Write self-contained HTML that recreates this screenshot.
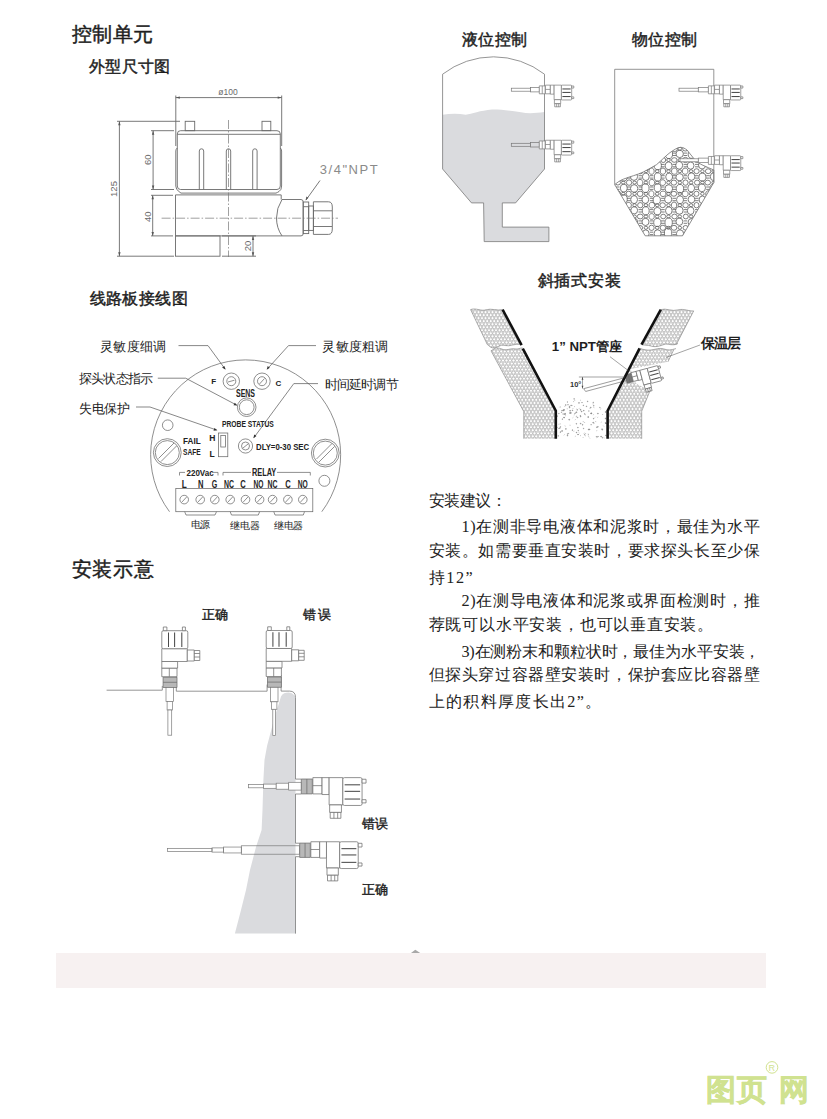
<!DOCTYPE html>
<html><head><meta charset="utf-8">
<style>
html,body{margin:0;padding:0;background:#fff;}
body{width:827px;height:1119px;overflow:hidden;position:relative;font-family:"Liberation Sans",sans-serif;}
svg{position:absolute;left:0;top:0;}
.h{font-family:"Liberation Sans",sans-serif;fill:#1e1e1e;}
.hm{stroke:#1e1e1e;stroke-width:0.45;}
.s{font-family:"Liberation Serif",serif;fill:#222;}
.ln{fill:none;stroke:#6a6a6a;stroke-width:0.9;}
#sb *{vector-effect:non-scaling-stroke;}
</style></head><body>
<svg width="827" height="1119" viewBox="0 0 827 1119">
<defs>
<g id="sb">
 <rect x="0" y="-6.7" width="10.3" height="13.9" fill="currentColor"/>
 <line x1="5.2" y1="-6.7" x2="5.2" y2="7.2"/>
 <rect x="10.8" y="-8" width="8.6" height="15.2" fill="#fff"/>
 <line x1="10.8" y1="-0.5" x2="19.4" y2="-0.5"/>
 <rect x="19.4" y="-8" width="6.6" height="15.8" fill="#fff"/>
 <rect x="26" y="-8" width="12.8" height="25.5" fill="#fff"/>
 <rect x="38.8" y="-8" width="18" height="26" rx="1.5" fill="#fff"/>
 <g stroke="#4a4a4a" stroke-width="1.05"><line x1="40.5" y1="-1.3" x2="55" y2="-1.3"/><line x1="40.5" y1="4.8" x2="55" y2="4.8"/><line x1="40.5" y1="12" x2="55" y2="12"/></g>
 <rect x="56.8" y="-6.5" width="3.7" height="3.6" fill="#fff"/><rect x="56.8" y="12.6" width="3.7" height="3" fill="#fff"/>
 <rect x="26.5" y="17.5" width="11" height="7" fill="#fff"/>
 <rect x="27" y="24.5" width="10" height="5.5" fill="#fff"/>
 <line x1="30.5" y1="24.5" x2="30.5" y2="30"/><line x1="34" y1="24.5" x2="34" y2="30"/>
</g>



<clipPath id="bandclip">
 <path d="M470.6 309.6 C476 307.5 481 311.5 486 309.8 C491 308 497 311 502.6 309.6 L521 344.5 C515 343 510 347 505 345.5 C500 344 497 348.5 492.6 347.9 C490 347.5 488.5 345 487.3 344.5 Z"/>
 <path d="M491 350.8 C494 349 495 348 497 347.9 C500 347.8 503 350.2 506 349.8 C510 349.3 512 348.3 515 348.9 C518 349.5 520 348 522.5 347.9 L556 410.7 V438.7 H523.8 V411.6 Z"/>
 <path d="M660.8 309.6 C666 307.8 672 311.8 678 309.9 C684 308.2 689 311.5 693.7 310.9 L676.3 344.5 C672 346.5 668 343 664 344.5 C660 346 655 347.5 651 346 C648 345 645 345.5 642.2 344.7 Z"/>
 <path d="M639.6 348.3 C643 349.5 647 350.5 651 350 C656 349.3 660 347.5 664 349 C668 350.5 671 350 673.8 349.6 L668 361.7 L630.5 369 L636 383.5 L650 390.7 L641.7 411.2 V438.7 H607.6 V410.7 Z"/>
</clipPath><clipPath id="pileclip"><path d="M614.7 184.6 C618 182 620 180.5 623.3 179.2 C630 176.5 637 175 643.3 172 C648 169.5 652 167.5 656.6 164.6 C662 160 666 155.5 670 152.6 C674 150 677 147.5 680.5 147.3 C683 147.4 685 148.5 687 150 C690 153 692 157 695 160 C698 162.5 700 164 703 165.3 C707 167 710 168.5 713.8 170 V182.6 L682.5 235.8 H645.2 Z"/></clipPath></defs>
<!-- headings -->
<text class="h hm" x="72" y="40.5" font-size="20" textLength="81">控制单元</text>
<text class="h hm" x="89" y="71.5" font-size="16" textLength="81">外型尺寸图</text>
<text class="h hm" x="89.5" y="304.2" font-size="16" textLength="98">线路板接线图</text>
<text class="h hm" x="71.5" y="575.5" font-size="20" textLength="82">安装示意</text>
<text class="h hm" x="462" y="44.5" font-size="16" textLength="65">液位控制</text>
<text class="h hm" x="632" y="44.5" font-size="16" textLength="65">物位控制</text>
<text class="h hm" x="537.5" y="286.3" font-size="16" textLength="83">斜插式安装</text>


<!-- ============ dimension drawing ============ -->
<g class="ln" stroke="#707070" stroke-width="0.8">
 <!-- phi100 -->
 <line x1="175.8" y1="97.6" x2="281.7" y2="97.6"/>
 <line x1="175.8" y1="95.5" x2="175.8" y2="146"/>
 <line x1="281.7" y1="95.5" x2="281.7" y2="146"/>
 <!-- 125 -->
 <line x1="119.4" y1="121.3" x2="119.4" y2="256.2"/>
 <line x1="117" y1="121.3" x2="180" y2="121.3"/>
 <line x1="117" y1="256.2" x2="174" y2="256.2"/>
 <!-- 60 -->
 <line x1="153.1" y1="130.7" x2="153.1" y2="189.5"/>
 <line x1="151" y1="130.7" x2="174" y2="130.7"/>
 <line x1="151" y1="189.5" x2="174" y2="189.5"/>
 <!-- 40 -->
 <line x1="152.7" y1="195.3" x2="152.7" y2="235.9"/>
 <line x1="151" y1="195.3" x2="173" y2="195.3"/>
 <line x1="151" y1="235.9" x2="173" y2="235.9"/>
 <!-- 20 -->
 <line x1="253" y1="235.9" x2="253" y2="256.2"/>
 <line x1="222" y1="235.9" x2="256" y2="235.9"/>
 <line x1="222" y1="256.2" x2="256" y2="256.2"/>
 <!-- leader -->
 <line x1="320" y1="180.5" x2="306" y2="200"/>
</g>
<g fill="#555">
 <path d="M175.8 97.6 l4 -1.2 v2.4z"/><path d="M281.7 97.6 l-4 -1.2 v2.4z"/>
 <path d="M119.4 121.3 l-1.2 4 h2.4z"/><path d="M119.4 256.2 l-1.2 -4 h2.4z"/>
 <path d="M153.1 130.7 l-1.2 4 h2.4z"/><path d="M153.1 189.5 l-1.2 -4 h2.4z"/>
 <path d="M152.7 195.3 l-1.2 4 h2.4z"/><path d="M152.7 235.9 l-1.2 -4 h2.4z"/>
 <path d="M253 235.9 l-1.2 4 h2.4z"/><path d="M253 256.2 l-1.2 -4 h2.4z"/>
 <path d="M305.6 200.6 l0.8 -4.2 l2 1.4z"/>
</g>
<g class="ln" stroke="#5a5a5a" stroke-width="0.9">
 <rect x="185.2" y="121.3" width="9.5" height="9.4"/>
 <rect x="262" y="121.3" width="8.8" height="9.4"/>
 <path d="M180.5 130.7 H277 Q280.3 130.7 280.3 134 V186 Q280.3 189.5 277 189.5 H180.5 Q177.3 189.5 177.3 186 V134 Q177.3 130.7 180.5 130.7Z"/>
 <line x1="177.3" y1="134.3" x2="280.3" y2="134.3"/>
 <path d="M177.3 148 Q175.8 149 175.8 151 V186 Q176 190 179 191.5 Q180 192.5 181 193.1 H276 Q277.5 192.5 279 191.5 Q281.6 190 281.6 186 V151 Q281.6 149 280.3 148"/>
 <path d="M199.3 189.5 V151 Q199.3 148.8 201.5 148.8 Q203.7 148.8 203.7 151 V189.5"/>
 <path d="M226.3 189.5 V151 Q226.3 148.8 228.5 148.8 Q230.7 148.8 230.7 151 V189.5"/>
 <path d="M252.7 189.5 V151 Q252.7 148.8 254.9 148.8 Q257.1 148.8 257.1 151 V189.5"/>
 <path d="M281.2 199.5 V194.9 H175.5 V235.9 H301 Q303.2 235.9 303.2 233.6"/>
 <rect x="175.5" y="235.9" width="44.5" height="20.3"/>
 <path d="M282 235.9 Q276.5 228 276.5 218 Q276.5 208 282 199.5 H301 Q303.2 199.5 303.2 202 V233.6"/>
 <rect x="303.2" y="202" width="5.5" height="31.6"/>
 <line x1="303.2" y1="206.7" x2="308.7" y2="206.7"/><line x1="303.2" y1="230.5" x2="308.7" y2="230.5"/>
 <rect x="308.7" y="206" width="4.7" height="24.4"/>
 <path d="M313.4 201.8 H328.5 Q332.3 201.8 332.3 207 V229 Q332.3 234.4 328.5 234.4 H313.4Z"/>
 <line x1="313.4" y1="210.8" x2="332" y2="210.8"/><line x1="313.4" y1="226.5" x2="332" y2="226.5"/>
</g>
<g stroke="#777" stroke-width="0.7" stroke-dasharray="9 2 1.5 2" fill="none">
 <line x1="228.5" y1="120" x2="228.5" y2="257"/>
 <line x1="161.6" y1="218.2" x2="338" y2="218.2"/>
</g>
<g fill="#6a6a6a" font-family="Liberation Sans, sans-serif">
 <text x="228" y="94.6" font-size="8.5" text-anchor="middle">&#248;100</text>
 <text transform="translate(117.3 189) rotate(-90)" font-size="9.5" text-anchor="middle">125</text>
 <text transform="translate(150.6 159.7) rotate(-90)" font-size="9.5" text-anchor="middle">60</text>
 <text transform="translate(151 216.8) rotate(-90)" font-size="9.5" text-anchor="middle">40</text>
 <text transform="translate(250.6 246) rotate(-90)" font-size="9.5" text-anchor="middle">20</text>
 <text x="319.7" y="174" font-size="13" textLength="58" lengthAdjust="spacing" fill="#8a8a8a">3/4"NPT</text>
</g>


<!-- ============ tanks ============ -->
<path d="M442.6 114.8 C450 113.5 458 113.2 465.8 114.8 C472 113.5 480 110.5 492 109.4 C500 109.2 510 110.5 521 112.3 C528 113.8 536 113.2 544.5 112 V169 L515.6 202.9 H502.3 V227.1 H548.9 V241.6 H484.2 L483.6 202.9 H471.5 L442.6 169 Z" fill="#dadbde"/>
<path d="M442.6 169 V74.2 A83.4 83.4 0 0 1 544.5 74.2 V169 L515.6 202.9 H502.3 V227.1 H548.9 V241.6 H484.2 L483.6 202.9 H471.5 Z" fill="none" stroke="#7a7a7a" stroke-width="0.8"/>
<g clip-path="url(#pileclip)"><rect x="610" y="140" width="110" height="100" fill="#fff"/><path fill="none" stroke="#555" stroke-width="0.75" d="M612.1 143.2m-3.7 0a3.7 4.1 0 1 0 7.4 0a3.7 4.1 0 1 0 -7.4 0M617.8 148.7m-2.9 0a2.9 2.3 0 1 0 5.7 0a2.9 2.3 0 1 0 -5.7 0M615.9 141.8h3.6M615.9 144.2h3.6M612.0 148.7m-1.8 0a1.8 1.5 0 1 0 3.6 0a1.8 1.5 0 1 0 -3.6 0M623.3 143.4m-3.6 0a3.6 4.1 0 1 0 7.2 0a3.6 4.1 0 1 0 -7.2 0M628.6 148.7m-2.7 0a2.7 2.4 0 1 0 5.4 0a2.7 2.4 0 1 0 -5.4 0M627.1 141.8h3.6M627.1 144.2h3.6M623.3 148.7m-1.8 0a1.8 1.5 0 1 0 3.6 0a1.8 1.5 0 1 0 -3.6 0M634.7 143.1m-3.3 0a3.3 3.7 0 1 0 6.6 0a3.3 3.7 0 1 0 -6.6 0M640.1 148.7m-2.9 0a2.9 2.6 0 1 0 5.7 0a2.9 2.6 0 1 0 -5.7 0M638.5 141.8h3.6M638.5 144.2h3.6M634.6 148.7m-1.8 0a1.8 1.5 0 1 0 3.6 0a1.8 1.5 0 1 0 -3.6 0M645.5 143.3m-3.4 0a3.4 3.9 0 1 0 6.7 0a3.4 3.9 0 1 0 -6.7 0M651.3 148.7m-2.5 0a2.5 2.6 0 1 0 5.0 0a2.5 2.6 0 1 0 -5.0 0M649.8 141.8h3.6M649.8 144.2h3.6M645.9 148.7m-1.8 0a1.8 1.5 0 1 0 3.6 0a1.8 1.5 0 1 0 -3.6 0M656.9 142.7m-3.8 0a3.8 4.0 0 1 0 7.6 0a3.8 4.0 0 1 0 -7.6 0M662.7 148.7m-2.9 0a2.9 2.5 0 1 0 5.8 0a2.9 2.5 0 1 0 -5.8 0M661.1 141.8h3.6M661.1 144.2h3.6M657.2 148.7m-1.8 0a1.8 1.5 0 1 0 3.6 0a1.8 1.5 0 1 0 -3.6 0M668.7 142.7m-3.8 0a3.8 3.9 0 1 0 7.5 0a3.8 3.9 0 1 0 -7.5 0M674.5 148.7m-2.9 0a2.9 2.4 0 1 0 5.7 0a2.9 2.4 0 1 0 -5.7 0M672.4 141.8h3.6M672.4 144.2h3.6M668.5 148.7m-1.8 0a1.8 1.5 0 1 0 3.6 0a1.8 1.5 0 1 0 -3.6 0M679.6 142.7m-3.4 0a3.4 3.6 0 1 0 6.7 0a3.4 3.6 0 1 0 -6.7 0M685.3 148.7m-2.7 0a2.7 2.3 0 1 0 5.5 0a2.7 2.3 0 1 0 -5.5 0M683.6 141.8h3.6M683.6 144.2h3.6M679.8 148.7m-1.8 0a1.8 1.5 0 1 0 3.6 0a1.8 1.5 0 1 0 -3.6 0M691.3 142.8m-3.5 0a3.5 4.0 0 1 0 6.9 0a3.5 4.0 0 1 0 -6.9 0M696.7 148.7m-2.6 0a2.6 2.5 0 1 0 5.3 0a2.6 2.5 0 1 0 -5.3 0M695.0 141.8h3.6M695.0 144.2h3.6M691.1 148.7m-1.8 0a1.8 1.5 0 1 0 3.6 0a1.8 1.5 0 1 0 -3.6 0M702.6 142.6m-3.8 0a3.8 3.6 0 1 0 7.6 0a3.8 3.6 0 1 0 -7.6 0M708.2 148.7m-2.8 0a2.8 2.3 0 1 0 5.7 0a2.8 2.3 0 1 0 -5.7 0M706.2 141.8h3.6M706.2 144.2h3.6M702.4 148.7m-1.8 0a1.8 1.5 0 1 0 3.6 0a1.8 1.5 0 1 0 -3.6 0M714.0 142.9m-3.6 0a3.6 3.6 0 1 0 7.2 0a3.6 3.6 0 1 0 -7.2 0M719.0 148.7m-2.6 0a2.6 2.7 0 1 0 5.1 0a2.6 2.7 0 1 0 -5.1 0M717.6 141.8h3.6M717.6 144.2h3.6M713.7 148.7m-1.8 0a1.8 1.5 0 1 0 3.6 0a1.8 1.5 0 1 0 -3.6 0M724.6 143.3m-3.8 0a3.8 4.1 0 1 0 7.5 0a3.8 4.1 0 1 0 -7.5 0M730.5 148.7m-2.6 0a2.6 2.5 0 1 0 5.3 0a2.6 2.5 0 1 0 -5.3 0M728.9 141.8h3.6M728.9 144.2h3.6M725.0 148.7m-1.8 0a1.8 1.5 0 1 0 3.6 0a1.8 1.5 0 1 0 -3.6 0M612.3 153.9m-3.7 0a3.7 4.0 0 1 0 7.3 0a3.7 4.0 0 1 0 -7.3 0M617.9 160.0m-2.5 0a2.5 2.7 0 1 0 5.0 0a2.5 2.7 0 1 0 -5.0 0M615.9 153.1h3.6M615.9 155.5h3.6M612.0 160.0m-1.8 0a1.8 1.5 0 1 0 3.6 0a1.8 1.5 0 1 0 -3.6 0M622.8 154.1m-3.6 0a3.6 4.1 0 1 0 7.2 0a3.6 4.1 0 1 0 -7.2 0M628.8 160.0m-2.9 0a2.9 2.5 0 1 0 5.7 0a2.9 2.5 0 1 0 -5.7 0M627.1 153.1h3.6M627.1 155.5h3.6M623.3 160.0m-1.8 0a1.8 1.5 0 1 0 3.6 0a1.8 1.5 0 1 0 -3.6 0M634.4 154.1m-3.4 0a3.4 3.6 0 1 0 6.8 0a3.4 3.6 0 1 0 -6.8 0M640.0 160.0m-2.8 0a2.8 2.7 0 1 0 5.6 0a2.8 2.7 0 1 0 -5.6 0M638.5 153.1h3.6M638.5 155.5h3.6M634.6 160.0m-1.8 0a1.8 1.5 0 1 0 3.6 0a1.8 1.5 0 1 0 -3.6 0M645.5 153.8m-3.8 0a3.8 3.9 0 1 0 7.6 0a3.8 3.9 0 1 0 -7.6 0M651.5 160.0m-2.6 0a2.6 2.5 0 1 0 5.2 0a2.6 2.5 0 1 0 -5.2 0M649.8 153.1h3.6M649.8 155.5h3.6M645.9 160.0m-1.8 0a1.8 1.5 0 1 0 3.6 0a1.8 1.5 0 1 0 -3.6 0M657.6 154.3m-3.5 0a3.5 3.6 0 1 0 7.0 0a3.5 3.6 0 1 0 -7.0 0M663.2 160.0m-2.5 0a2.5 2.5 0 1 0 5.0 0a2.5 2.5 0 1 0 -5.0 0M661.1 153.1h3.6M661.1 155.5h3.6M657.2 160.0m-1.8 0a1.8 1.5 0 1 0 3.6 0a1.8 1.5 0 1 0 -3.6 0M668.9 153.9m-3.7 0a3.7 4.1 0 1 0 7.3 0a3.7 4.1 0 1 0 -7.3 0M674.3 160.0m-2.8 0a2.8 2.3 0 1 0 5.6 0a2.8 2.3 0 1 0 -5.6 0M672.4 153.1h3.6M672.4 155.5h3.6M668.5 160.0m-1.8 0a1.8 1.5 0 1 0 3.6 0a1.8 1.5 0 1 0 -3.6 0M679.7 153.9m-3.7 0a3.7 3.7 0 1 0 7.4 0a3.7 3.7 0 1 0 -7.4 0M685.4 160.0m-2.9 0a2.9 2.6 0 1 0 5.8 0a2.9 2.6 0 1 0 -5.8 0M683.6 153.1h3.6M683.6 155.5h3.6M679.8 160.0m-1.8 0a1.8 1.5 0 1 0 3.6 0a1.8 1.5 0 1 0 -3.6 0M691.7 154.3m-3.5 0a3.5 4.0 0 1 0 7.1 0a3.5 4.0 0 1 0 -7.1 0M696.7 160.0m-2.6 0a2.6 2.5 0 1 0 5.2 0a2.6 2.5 0 1 0 -5.2 0M695.0 153.1h3.6M695.0 155.5h3.6M691.1 160.0m-1.8 0a1.8 1.5 0 1 0 3.6 0a1.8 1.5 0 1 0 -3.6 0M702.0 154.2m-3.8 0a3.8 4.1 0 1 0 7.6 0a3.8 4.1 0 1 0 -7.6 0M708.2 160.0m-2.7 0a2.7 2.4 0 1 0 5.4 0a2.7 2.4 0 1 0 -5.4 0M706.2 153.1h3.6M706.2 155.5h3.6M702.4 160.0m-1.8 0a1.8 1.5 0 1 0 3.6 0a1.8 1.5 0 1 0 -3.6 0M713.2 154.1m-3.7 0a3.7 4.0 0 1 0 7.4 0a3.7 4.0 0 1 0 -7.4 0M719.2 160.0m-2.8 0a2.8 2.6 0 1 0 5.6 0a2.8 2.6 0 1 0 -5.6 0M717.6 153.1h3.6M717.6 155.5h3.6M713.7 160.0m-1.8 0a1.8 1.5 0 1 0 3.6 0a1.8 1.5 0 1 0 -3.6 0M725.2 154.5m-3.7 0a3.7 3.8 0 1 0 7.4 0a3.7 3.8 0 1 0 -7.4 0M730.8 160.0m-2.6 0a2.6 2.5 0 1 0 5.2 0a2.6 2.5 0 1 0 -5.2 0M728.9 153.1h3.6M728.9 155.5h3.6M725.0 160.0m-1.8 0a1.8 1.5 0 1 0 3.6 0a1.8 1.5 0 1 0 -3.6 0M612.3 165.8m-3.4 0a3.4 4.1 0 1 0 6.9 0a3.4 4.1 0 1 0 -6.9 0M617.8 171.2m-2.7 0a2.7 2.3 0 1 0 5.5 0a2.7 2.3 0 1 0 -5.5 0M615.9 164.4h3.6M615.9 166.8h3.6M612.0 171.2m-1.8 0a1.8 1.5 0 1 0 3.6 0a1.8 1.5 0 1 0 -3.6 0M623.4 165.4m-3.6 0a3.6 3.8 0 1 0 7.3 0a3.6 3.8 0 1 0 -7.3 0M629.2 171.2m-2.8 0a2.8 2.6 0 1 0 5.5 0a2.8 2.6 0 1 0 -5.5 0M627.1 164.4h3.6M627.1 166.8h3.6M623.3 171.2m-1.8 0a1.8 1.5 0 1 0 3.6 0a1.8 1.5 0 1 0 -3.6 0M634.4 165.7m-3.7 0a3.7 4.0 0 1 0 7.3 0a3.7 4.0 0 1 0 -7.3 0M640.1 171.2m-2.8 0a2.8 2.6 0 1 0 5.7 0a2.8 2.6 0 1 0 -5.7 0M638.5 164.4h3.6M638.5 166.8h3.6M634.6 171.2m-1.8 0a1.8 1.5 0 1 0 3.6 0a1.8 1.5 0 1 0 -3.6 0M646.1 166.1m-3.8 0a3.8 3.9 0 1 0 7.6 0a3.8 3.9 0 1 0 -7.6 0M651.6 171.2m-2.6 0a2.6 2.6 0 1 0 5.1 0a2.6 2.6 0 1 0 -5.1 0M649.8 164.4h3.6M649.8 166.8h3.6M645.9 171.2m-1.8 0a1.8 1.5 0 1 0 3.6 0a1.8 1.5 0 1 0 -3.6 0M657.7 165.6m-3.6 0a3.6 4.0 0 1 0 7.3 0a3.6 4.0 0 1 0 -7.3 0M663.0 171.2m-2.6 0a2.6 2.6 0 1 0 5.1 0a2.6 2.6 0 1 0 -5.1 0M661.1 164.4h3.6M661.1 166.8h3.6M657.2 171.2m-1.8 0a1.8 1.5 0 1 0 3.6 0a1.8 1.5 0 1 0 -3.6 0M668.6 165.8m-3.5 0a3.5 3.9 0 1 0 7.0 0a3.5 3.9 0 1 0 -7.0 0M674.4 171.2m-2.8 0a2.8 2.6 0 1 0 5.5 0a2.8 2.6 0 1 0 -5.5 0M672.4 164.4h3.6M672.4 166.8h3.6M668.5 171.2m-1.8 0a1.8 1.5 0 1 0 3.6 0a1.8 1.5 0 1 0 -3.6 0M679.2 165.3m-3.5 0a3.5 3.9 0 1 0 7.0 0a3.5 3.9 0 1 0 -7.0 0M685.2 171.2m-2.8 0a2.8 2.6 0 1 0 5.5 0a2.8 2.6 0 1 0 -5.5 0M683.6 164.4h3.6M683.6 166.8h3.6M679.8 171.2m-1.8 0a1.8 1.5 0 1 0 3.6 0a1.8 1.5 0 1 0 -3.6 0M690.6 165.6m-3.4 0a3.4 3.6 0 1 0 6.8 0a3.4 3.6 0 1 0 -6.8 0M696.5 171.2m-2.6 0a2.6 2.4 0 1 0 5.3 0a2.6 2.4 0 1 0 -5.3 0M695.0 164.4h3.6M695.0 166.8h3.6M691.1 171.2m-1.8 0a1.8 1.5 0 1 0 3.6 0a1.8 1.5 0 1 0 -3.6 0M702.0 165.1m-3.5 0a3.5 3.8 0 1 0 7.1 0a3.5 3.8 0 1 0 -7.1 0M708.1 171.2m-2.7 0a2.7 2.4 0 1 0 5.5 0a2.7 2.4 0 1 0 -5.5 0M706.2 164.4h3.6M706.2 166.8h3.6M702.4 171.2m-1.8 0a1.8 1.5 0 1 0 3.6 0a1.8 1.5 0 1 0 -3.6 0M714.2 165.1m-3.5 0a3.5 3.7 0 1 0 7.0 0a3.5 3.7 0 1 0 -7.0 0M719.3 171.2m-2.5 0a2.5 2.6 0 1 0 5.1 0a2.5 2.6 0 1 0 -5.1 0M717.6 164.4h3.6M717.6 166.8h3.6M713.7 171.2m-1.8 0a1.8 1.5 0 1 0 3.6 0a1.8 1.5 0 1 0 -3.6 0M724.8 165.1m-3.6 0a3.6 3.6 0 1 0 7.2 0a3.6 3.6 0 1 0 -7.2 0M730.7 171.2m-2.6 0a2.6 2.5 0 1 0 5.3 0a2.6 2.5 0 1 0 -5.3 0M728.9 164.4h3.6M728.9 166.8h3.6M725.0 171.2m-1.8 0a1.8 1.5 0 1 0 3.6 0a1.8 1.5 0 1 0 -3.6 0M612.5 177.2m-3.5 0a3.5 4.0 0 1 0 7.0 0a3.5 4.0 0 1 0 -7.0 0M617.8 182.6m-2.6 0a2.6 2.4 0 1 0 5.3 0a2.6 2.4 0 1 0 -5.3 0M615.9 175.7h3.6M615.9 178.1h3.6M612.0 182.6m-1.8 0a1.8 1.5 0 1 0 3.6 0a1.8 1.5 0 1 0 -3.6 0M623.4 177.0m-3.8 0a3.8 4.1 0 1 0 7.6 0a3.8 4.1 0 1 0 -7.6 0M629.0 182.6m-2.6 0a2.6 2.7 0 1 0 5.3 0a2.6 2.7 0 1 0 -5.3 0M627.1 175.7h3.6M627.1 178.1h3.6M623.3 182.6m-1.8 0a1.8 1.5 0 1 0 3.6 0a1.8 1.5 0 1 0 -3.6 0M634.0 176.5m-3.6 0a3.6 3.9 0 1 0 7.2 0a3.6 3.9 0 1 0 -7.2 0M640.0 182.6m-2.8 0a2.8 2.7 0 1 0 5.5 0a2.8 2.7 0 1 0 -5.5 0M638.5 175.7h3.6M638.5 178.1h3.6M634.6 182.6m-1.8 0a1.8 1.5 0 1 0 3.6 0a1.8 1.5 0 1 0 -3.6 0M645.8 176.8m-3.4 0a3.4 3.7 0 1 0 6.8 0a3.4 3.7 0 1 0 -6.8 0M651.9 182.6m-2.7 0a2.7 2.7 0 1 0 5.3 0a2.7 2.7 0 1 0 -5.3 0M649.8 175.7h3.6M649.8 178.1h3.6M645.9 182.6m-1.8 0a1.8 1.5 0 1 0 3.6 0a1.8 1.5 0 1 0 -3.6 0M657.7 177.0m-3.4 0a3.4 4.1 0 1 0 6.9 0a3.4 4.1 0 1 0 -6.9 0M662.8 182.6m-2.7 0a2.7 2.4 0 1 0 5.3 0a2.7 2.4 0 1 0 -5.3 0M661.1 175.7h3.6M661.1 178.1h3.6M657.2 182.6m-1.8 0a1.8 1.5 0 1 0 3.6 0a1.8 1.5 0 1 0 -3.6 0M669.1 176.9m-3.4 0a3.4 3.8 0 1 0 6.9 0a3.4 3.8 0 1 0 -6.9 0M673.8 182.6m-2.7 0a2.7 2.5 0 1 0 5.5 0a2.7 2.5 0 1 0 -5.5 0M672.4 175.7h3.6M672.4 178.1h3.6M668.5 182.6m-1.8 0a1.8 1.5 0 1 0 3.6 0a1.8 1.5 0 1 0 -3.6 0M679.6 177.2m-3.7 0a3.7 3.6 0 1 0 7.4 0a3.7 3.6 0 1 0 -7.4 0M685.5 182.6m-2.6 0a2.6 2.7 0 1 0 5.2 0a2.6 2.7 0 1 0 -5.2 0M683.6 175.7h3.6M683.6 178.1h3.6M679.8 182.6m-1.8 0a1.8 1.5 0 1 0 3.6 0a1.8 1.5 0 1 0 -3.6 0M691.4 176.6m-3.4 0a3.4 3.7 0 1 0 6.9 0a3.4 3.7 0 1 0 -6.9 0M697.1 182.6m-2.6 0a2.6 2.5 0 1 0 5.2 0a2.6 2.5 0 1 0 -5.2 0M695.0 175.7h3.6M695.0 178.1h3.6M691.1 182.6m-1.8 0a1.8 1.5 0 1 0 3.6 0a1.8 1.5 0 1 0 -3.6 0M702.4 177.0m-3.6 0a3.6 4.0 0 1 0 7.2 0a3.6 4.0 0 1 0 -7.2 0M707.7 182.6m-2.8 0a2.8 2.4 0 1 0 5.6 0a2.8 2.4 0 1 0 -5.6 0M706.2 175.7h3.6M706.2 178.1h3.6M702.4 182.6m-1.8 0a1.8 1.5 0 1 0 3.6 0a1.8 1.5 0 1 0 -3.6 0M713.7 176.7m-3.4 0a3.4 3.9 0 1 0 6.9 0a3.4 3.9 0 1 0 -6.9 0M719.3 182.6m-2.6 0a2.6 2.6 0 1 0 5.3 0a2.6 2.6 0 1 0 -5.3 0M717.6 175.7h3.6M717.6 178.1h3.6M713.7 182.6m-1.8 0a1.8 1.5 0 1 0 3.6 0a1.8 1.5 0 1 0 -3.6 0M725.1 176.4m-3.4 0a3.4 3.8 0 1 0 6.9 0a3.4 3.8 0 1 0 -6.9 0M731.0 182.6m-2.9 0a2.9 2.5 0 1 0 5.7 0a2.9 2.5 0 1 0 -5.7 0M728.9 175.7h3.6M728.9 178.1h3.6M725.0 182.6m-1.8 0a1.8 1.5 0 1 0 3.6 0a1.8 1.5 0 1 0 -3.6 0M611.4 188.5m-3.5 0a3.5 3.9 0 1 0 7.0 0a3.5 3.9 0 1 0 -7.0 0M617.8 193.8m-2.8 0a2.8 2.5 0 1 0 5.5 0a2.8 2.5 0 1 0 -5.5 0M615.9 187.0h3.6M615.9 189.4h3.6M612.0 193.8m-1.8 0a1.8 1.5 0 1 0 3.6 0a1.8 1.5 0 1 0 -3.6 0M623.8 188.1m-3.5 0a3.5 4.0 0 1 0 7.0 0a3.5 4.0 0 1 0 -7.0 0M628.7 193.8m-2.6 0a2.6 2.6 0 1 0 5.2 0a2.6 2.6 0 1 0 -5.2 0M627.1 187.0h3.6M627.1 189.4h3.6M623.3 193.8m-1.8 0a1.8 1.5 0 1 0 3.6 0a1.8 1.5 0 1 0 -3.6 0M634.1 188.5m-3.6 0a3.6 3.8 0 1 0 7.3 0a3.6 3.8 0 1 0 -7.3 0M640.1 193.8m-2.8 0a2.8 2.7 0 1 0 5.6 0a2.8 2.7 0 1 0 -5.6 0M638.5 187.0h3.6M638.5 189.4h3.6M634.6 193.8m-1.8 0a1.8 1.5 0 1 0 3.6 0a1.8 1.5 0 1 0 -3.6 0M645.5 188.2m-3.6 0a3.6 3.8 0 1 0 7.1 0a3.6 3.8 0 1 0 -7.1 0M651.4 193.8m-2.6 0a2.6 2.5 0 1 0 5.1 0a2.6 2.5 0 1 0 -5.1 0M649.8 187.0h3.6M649.8 189.4h3.6M645.9 193.8m-1.8 0a1.8 1.5 0 1 0 3.6 0a1.8 1.5 0 1 0 -3.6 0M657.6 187.8m-3.4 0a3.4 4.0 0 1 0 6.8 0a3.4 4.0 0 1 0 -6.8 0M663.1 193.8m-2.8 0a2.8 2.3 0 1 0 5.5 0a2.8 2.3 0 1 0 -5.5 0M661.1 187.0h3.6M661.1 189.4h3.6M657.2 193.8m-1.8 0a1.8 1.5 0 1 0 3.6 0a1.8 1.5 0 1 0 -3.6 0M668.8 188.7m-3.8 0a3.8 4.0 0 1 0 7.6 0a3.8 4.0 0 1 0 -7.6 0M673.8 193.8m-2.8 0a2.8 2.4 0 1 0 5.7 0a2.8 2.4 0 1 0 -5.7 0M672.4 187.0h3.6M672.4 189.4h3.6M668.5 193.8m-1.8 0a1.8 1.5 0 1 0 3.6 0a1.8 1.5 0 1 0 -3.6 0M680.0 188.7m-3.7 0a3.7 3.7 0 1 0 7.3 0a3.7 3.7 0 1 0 -7.3 0M685.3 193.8m-2.9 0a2.9 2.4 0 1 0 5.7 0a2.9 2.4 0 1 0 -5.7 0M683.6 187.0h3.6M683.6 189.4h3.6M679.8 193.8m-1.8 0a1.8 1.5 0 1 0 3.6 0a1.8 1.5 0 1 0 -3.6 0M691.2 188.1m-3.4 0a3.4 3.9 0 1 0 6.8 0a3.4 3.9 0 1 0 -6.8 0M696.4 193.8m-2.5 0a2.5 2.5 0 1 0 5.1 0a2.5 2.5 0 1 0 -5.1 0M695.0 187.0h3.6M695.0 189.4h3.6M691.1 193.8m-1.8 0a1.8 1.5 0 1 0 3.6 0a1.8 1.5 0 1 0 -3.6 0M701.9 187.8m-3.6 0a3.6 4.0 0 1 0 7.2 0a3.6 4.0 0 1 0 -7.2 0M708.4 193.8m-2.6 0a2.6 2.5 0 1 0 5.1 0a2.6 2.5 0 1 0 -5.1 0M706.2 187.0h3.6M706.2 189.4h3.6M702.4 193.8m-1.8 0a1.8 1.5 0 1 0 3.6 0a1.8 1.5 0 1 0 -3.6 0M713.5 188.3m-3.5 0a3.5 4.1 0 1 0 7.1 0a3.5 4.1 0 1 0 -7.1 0M719.2 193.8m-2.5 0a2.5 2.6 0 1 0 5.0 0a2.5 2.6 0 1 0 -5.0 0M717.6 187.0h3.6M717.6 189.4h3.6M713.7 193.8m-1.8 0a1.8 1.5 0 1 0 3.6 0a1.8 1.5 0 1 0 -3.6 0M724.6 188.3m-3.6 0a3.6 4.1 0 1 0 7.1 0a3.6 4.1 0 1 0 -7.1 0M730.7 193.8m-2.7 0a2.7 2.4 0 1 0 5.5 0a2.7 2.4 0 1 0 -5.5 0M728.9 187.0h3.6M728.9 189.4h3.6M725.0 193.8m-1.8 0a1.8 1.5 0 1 0 3.6 0a1.8 1.5 0 1 0 -3.6 0M612.1 199.3m-3.7 0a3.7 3.9 0 1 0 7.4 0a3.7 3.9 0 1 0 -7.4 0M617.4 205.2m-2.6 0a2.6 2.4 0 1 0 5.2 0a2.6 2.4 0 1 0 -5.2 0M615.9 198.3h3.6M615.9 200.7h3.6M612.0 205.2m-1.8 0a1.8 1.5 0 1 0 3.6 0a1.8 1.5 0 1 0 -3.6 0M623.6 199.2m-3.7 0a3.7 3.9 0 1 0 7.3 0a3.7 3.9 0 1 0 -7.3 0M628.6 205.2m-2.8 0a2.8 2.3 0 1 0 5.5 0a2.8 2.3 0 1 0 -5.5 0M627.1 198.3h3.6M627.1 200.7h3.6M623.3 205.2m-1.8 0a1.8 1.5 0 1 0 3.6 0a1.8 1.5 0 1 0 -3.6 0M634.1 199.6m-3.4 0a3.4 4.0 0 1 0 6.8 0a3.4 4.0 0 1 0 -6.8 0M640.2 205.2m-2.6 0a2.6 2.6 0 1 0 5.3 0a2.6 2.6 0 1 0 -5.3 0M638.5 198.3h3.6M638.5 200.7h3.6M634.6 205.2m-1.8 0a1.8 1.5 0 1 0 3.6 0a1.8 1.5 0 1 0 -3.6 0M645.3 199.7m-3.3 0a3.3 3.7 0 1 0 6.7 0a3.3 3.7 0 1 0 -6.7 0M651.9 205.2m-2.8 0a2.8 2.4 0 1 0 5.5 0a2.8 2.4 0 1 0 -5.5 0M649.8 198.3h3.6M649.8 200.7h3.6M645.9 205.2m-1.8 0a1.8 1.5 0 1 0 3.6 0a1.8 1.5 0 1 0 -3.6 0M656.7 200.0m-3.6 0a3.6 4.0 0 1 0 7.3 0a3.6 4.0 0 1 0 -7.3 0M662.6 205.2m-2.7 0a2.7 2.4 0 1 0 5.5 0a2.7 2.4 0 1 0 -5.5 0M661.1 198.3h3.6M661.1 200.7h3.6M657.2 205.2m-1.8 0a1.8 1.5 0 1 0 3.6 0a1.8 1.5 0 1 0 -3.6 0M668.2 199.3m-3.6 0a3.6 3.8 0 1 0 7.2 0a3.6 3.8 0 1 0 -7.2 0M674.1 205.2m-2.6 0a2.6 2.6 0 1 0 5.1 0a2.6 2.6 0 1 0 -5.1 0M672.4 198.3h3.6M672.4 200.7h3.6M668.5 205.2m-1.8 0a1.8 1.5 0 1 0 3.6 0a1.8 1.5 0 1 0 -3.6 0M680.0 199.8m-3.5 0a3.5 4.0 0 1 0 7.0 0a3.5 4.0 0 1 0 -7.0 0M685.5 205.2m-2.7 0a2.7 2.5 0 1 0 5.5 0a2.7 2.5 0 1 0 -5.5 0M683.6 198.3h3.6M683.6 200.7h3.6M679.8 205.2m-1.8 0a1.8 1.5 0 1 0 3.6 0a1.8 1.5 0 1 0 -3.6 0M691.4 199.4m-3.3 0a3.3 3.6 0 1 0 6.7 0a3.3 3.6 0 1 0 -6.7 0M696.5 205.2m-2.5 0a2.5 2.7 0 1 0 5.0 0a2.5 2.7 0 1 0 -5.0 0M695.0 198.3h3.6M695.0 200.7h3.6M691.1 205.2m-1.8 0a1.8 1.5 0 1 0 3.6 0a1.8 1.5 0 1 0 -3.6 0M702.4 199.8m-3.3 0a3.3 3.8 0 1 0 6.6 0a3.3 3.8 0 1 0 -6.6 0M708.4 205.2m-2.7 0a2.7 2.5 0 1 0 5.5 0a2.7 2.5 0 1 0 -5.5 0M706.2 198.3h3.6M706.2 200.7h3.6M702.4 205.2m-1.8 0a1.8 1.5 0 1 0 3.6 0a1.8 1.5 0 1 0 -3.6 0M713.7 199.1m-3.4 0a3.4 3.7 0 1 0 6.8 0a3.4 3.7 0 1 0 -6.8 0M719.2 205.2m-2.7 0a2.7 2.7 0 1 0 5.3 0a2.7 2.7 0 1 0 -5.3 0M717.6 198.3h3.6M717.6 200.7h3.6M713.7 205.2m-1.8 0a1.8 1.5 0 1 0 3.6 0a1.8 1.5 0 1 0 -3.6 0M724.6 199.3m-3.4 0a3.4 3.7 0 1 0 6.9 0a3.4 3.7 0 1 0 -6.9 0M730.5 205.2m-2.6 0a2.6 2.5 0 1 0 5.2 0a2.6 2.5 0 1 0 -5.2 0M728.9 198.3h3.6M728.9 200.7h3.6M725.0 205.2m-1.8 0a1.8 1.5 0 1 0 3.6 0a1.8 1.5 0 1 0 -3.6 0M611.4 211.2m-3.5 0a3.5 4.1 0 1 0 7.0 0a3.5 4.1 0 1 0 -7.0 0M617.8 216.5m-2.8 0a2.8 2.5 0 1 0 5.5 0a2.8 2.5 0 1 0 -5.5 0M615.9 209.6h3.6M615.9 212.0h3.6M612.0 216.5m-1.8 0a1.8 1.5 0 1 0 3.6 0a1.8 1.5 0 1 0 -3.6 0M623.8 210.4m-3.6 0a3.6 3.7 0 1 0 7.3 0a3.6 3.7 0 1 0 -7.3 0M629.1 216.5m-2.8 0a2.8 2.4 0 1 0 5.6 0a2.8 2.4 0 1 0 -5.6 0M627.1 209.6h3.6M627.1 212.0h3.6M623.3 216.5m-1.8 0a1.8 1.5 0 1 0 3.6 0a1.8 1.5 0 1 0 -3.6 0M634.2 210.3m-3.4 0a3.4 3.6 0 1 0 6.8 0a3.4 3.6 0 1 0 -6.8 0M640.2 216.5m-2.9 0a2.9 2.4 0 1 0 5.8 0a2.9 2.4 0 1 0 -5.8 0M638.5 209.6h3.6M638.5 212.0h3.6M634.6 216.5m-1.8 0a1.8 1.5 0 1 0 3.6 0a1.8 1.5 0 1 0 -3.6 0M645.7 210.8m-3.4 0a3.4 4.0 0 1 0 6.9 0a3.4 4.0 0 1 0 -6.9 0M651.7 216.5m-2.6 0a2.6 2.4 0 1 0 5.1 0a2.6 2.4 0 1 0 -5.1 0M649.8 209.6h3.6M649.8 212.0h3.6M645.9 216.5m-1.8 0a1.8 1.5 0 1 0 3.6 0a1.8 1.5 0 1 0 -3.6 0M657.4 211.2m-3.6 0a3.6 3.8 0 1 0 7.2 0a3.6 3.8 0 1 0 -7.2 0M663.2 216.5m-2.5 0a2.5 2.3 0 1 0 5.0 0a2.5 2.3 0 1 0 -5.0 0M661.1 209.6h3.6M661.1 212.0h3.6M657.2 216.5m-1.8 0a1.8 1.5 0 1 0 3.6 0a1.8 1.5 0 1 0 -3.6 0M668.8 210.7m-3.3 0a3.3 3.9 0 1 0 6.6 0a3.3 3.9 0 1 0 -6.6 0M674.5 216.5m-2.7 0a2.7 2.4 0 1 0 5.4 0a2.7 2.4 0 1 0 -5.4 0M672.4 209.6h3.6M672.4 212.0h3.6M668.5 216.5m-1.8 0a1.8 1.5 0 1 0 3.6 0a1.8 1.5 0 1 0 -3.6 0M679.3 210.4m-3.7 0a3.7 3.8 0 1 0 7.5 0a3.7 3.8 0 1 0 -7.5 0M685.8 216.5m-2.5 0a2.5 2.4 0 1 0 5.0 0a2.5 2.4 0 1 0 -5.0 0M683.6 209.6h3.6M683.6 212.0h3.6M679.8 216.5m-1.8 0a1.8 1.5 0 1 0 3.6 0a1.8 1.5 0 1 0 -3.6 0M690.6 210.7m-3.3 0a3.3 3.7 0 1 0 6.7 0a3.3 3.7 0 1 0 -6.7 0M696.7 216.5m-2.6 0a2.6 2.3 0 1 0 5.2 0a2.6 2.3 0 1 0 -5.2 0M695.0 209.6h3.6M695.0 212.0h3.6M691.1 216.5m-1.8 0a1.8 1.5 0 1 0 3.6 0a1.8 1.5 0 1 0 -3.6 0M701.8 211.3m-3.4 0a3.4 3.9 0 1 0 6.8 0a3.4 3.9 0 1 0 -6.8 0M708.0 216.5m-2.7 0a2.7 2.3 0 1 0 5.4 0a2.7 2.3 0 1 0 -5.4 0M706.2 209.6h3.6M706.2 212.0h3.6M702.4 216.5m-1.8 0a1.8 1.5 0 1 0 3.6 0a1.8 1.5 0 1 0 -3.6 0M713.5 210.4m-3.6 0a3.6 4.1 0 1 0 7.1 0a3.6 4.1 0 1 0 -7.1 0M719.4 216.5m-2.8 0a2.8 2.4 0 1 0 5.7 0a2.8 2.4 0 1 0 -5.7 0M717.6 209.6h3.6M717.6 212.0h3.6M713.7 216.5m-1.8 0a1.8 1.5 0 1 0 3.6 0a1.8 1.5 0 1 0 -3.6 0M724.4 210.8m-3.5 0a3.5 3.9 0 1 0 7.1 0a3.5 3.9 0 1 0 -7.1 0M730.6 216.5m-2.8 0a2.8 2.6 0 1 0 5.5 0a2.8 2.6 0 1 0 -5.5 0M728.9 209.6h3.6M728.9 212.0h3.6M725.0 216.5m-1.8 0a1.8 1.5 0 1 0 3.6 0a1.8 1.5 0 1 0 -3.6 0M612.5 221.9m-3.5 0a3.5 4.0 0 1 0 7.0 0a3.5 4.0 0 1 0 -7.0 0M617.4 227.8m-2.5 0a2.5 2.4 0 1 0 5.1 0a2.5 2.4 0 1 0 -5.1 0M615.9 220.9h3.6M615.9 223.3h3.6M612.0 227.8m-1.8 0a1.8 1.5 0 1 0 3.6 0a1.8 1.5 0 1 0 -3.6 0M622.8 222.4m-3.7 0a3.7 3.8 0 1 0 7.4 0a3.7 3.8 0 1 0 -7.4 0M628.7 227.8m-2.5 0a2.5 2.4 0 1 0 5.1 0a2.5 2.4 0 1 0 -5.1 0M627.1 220.9h3.6M627.1 223.3h3.6M623.3 227.8m-1.8 0a1.8 1.5 0 1 0 3.6 0a1.8 1.5 0 1 0 -3.6 0M634.1 222.0m-3.6 0a3.6 3.7 0 1 0 7.2 0a3.6 3.7 0 1 0 -7.2 0M639.9 227.8m-2.8 0a2.8 2.3 0 1 0 5.6 0a2.8 2.3 0 1 0 -5.6 0M638.5 220.9h3.6M638.5 223.3h3.6M634.6 227.8m-1.8 0a1.8 1.5 0 1 0 3.6 0a1.8 1.5 0 1 0 -3.6 0M645.5 221.9m-3.5 0a3.5 3.6 0 1 0 7.0 0a3.5 3.6 0 1 0 -7.0 0M651.5 227.8m-2.6 0a2.6 2.6 0 1 0 5.3 0a2.6 2.6 0 1 0 -5.3 0M649.8 220.9h3.6M649.8 223.3h3.6M645.9 227.8m-1.8 0a1.8 1.5 0 1 0 3.6 0a1.8 1.5 0 1 0 -3.6 0M657.3 222.5m-3.6 0a3.6 4.0 0 1 0 7.3 0a3.6 4.0 0 1 0 -7.3 0M662.9 227.8m-2.7 0a2.7 2.6 0 1 0 5.4 0a2.7 2.6 0 1 0 -5.4 0M661.1 220.9h3.6M661.1 223.3h3.6M657.2 227.8m-1.8 0a1.8 1.5 0 1 0 3.6 0a1.8 1.5 0 1 0 -3.6 0M668.7 222.6m-3.7 0a3.7 4.0 0 1 0 7.3 0a3.7 4.0 0 1 0 -7.3 0M674.0 227.8m-2.8 0a2.8 2.5 0 1 0 5.6 0a2.8 2.5 0 1 0 -5.6 0M672.4 220.9h3.6M672.4 223.3h3.6M668.5 227.8m-1.8 0a1.8 1.5 0 1 0 3.6 0a1.8 1.5 0 1 0 -3.6 0M679.4 221.7m-3.4 0a3.4 3.7 0 1 0 6.8 0a3.4 3.7 0 1 0 -6.8 0M685.6 227.8m-2.6 0a2.6 2.3 0 1 0 5.2 0a2.6 2.3 0 1 0 -5.2 0M683.6 220.9h3.6M683.6 223.3h3.6M679.8 227.8m-1.8 0a1.8 1.5 0 1 0 3.6 0a1.8 1.5 0 1 0 -3.6 0M691.4 222.2m-3.3 0a3.3 3.6 0 1 0 6.6 0a3.3 3.6 0 1 0 -6.6 0M696.5 227.8m-2.6 0a2.6 2.6 0 1 0 5.3 0a2.6 2.6 0 1 0 -5.3 0M695.0 220.9h3.6M695.0 223.3h3.6M691.1 227.8m-1.8 0a1.8 1.5 0 1 0 3.6 0a1.8 1.5 0 1 0 -3.6 0M702.9 222.2m-3.4 0a3.4 3.8 0 1 0 6.8 0a3.4 3.8 0 1 0 -6.8 0M707.9 227.8m-2.6 0a2.6 2.3 0 1 0 5.3 0a2.6 2.3 0 1 0 -5.3 0M706.2 220.9h3.6M706.2 223.3h3.6M702.4 227.8m-1.8 0a1.8 1.5 0 1 0 3.6 0a1.8 1.5 0 1 0 -3.6 0M713.8 222.4m-3.7 0a3.7 3.6 0 1 0 7.3 0a3.7 3.6 0 1 0 -7.3 0M719.4 227.8m-2.6 0a2.6 2.6 0 1 0 5.1 0a2.6 2.6 0 1 0 -5.1 0M717.6 220.9h3.6M717.6 223.3h3.6M713.7 227.8m-1.8 0a1.8 1.5 0 1 0 3.6 0a1.8 1.5 0 1 0 -3.6 0M724.9 222.5m-3.7 0a3.7 3.7 0 1 0 7.4 0a3.7 3.7 0 1 0 -7.4 0M730.5 227.8m-2.9 0a2.9 2.5 0 1 0 5.7 0a2.9 2.5 0 1 0 -5.7 0M728.9 220.9h3.6M728.9 223.3h3.6M725.0 227.8m-1.8 0a1.8 1.5 0 1 0 3.6 0a1.8 1.5 0 1 0 -3.6 0M611.9 233.3m-3.7 0a3.7 4.1 0 1 0 7.4 0a3.7 4.1 0 1 0 -7.4 0M617.7 239.1m-2.9 0a2.9 2.5 0 1 0 5.8 0a2.9 2.5 0 1 0 -5.8 0M615.9 232.2h3.6M615.9 234.6h3.6M612.0 239.1m-1.8 0a1.8 1.5 0 1 0 3.6 0a1.8 1.5 0 1 0 -3.6 0M622.8 233.7m-3.5 0a3.5 3.6 0 1 0 7.0 0a3.5 3.6 0 1 0 -7.0 0M629.3 239.1m-2.5 0a2.5 2.5 0 1 0 5.0 0a2.5 2.5 0 1 0 -5.0 0M627.1 232.2h3.6M627.1 234.6h3.6M623.3 239.1m-1.8 0a1.8 1.5 0 1 0 3.6 0a1.8 1.5 0 1 0 -3.6 0M634.6 233.8m-3.5 0a3.5 3.7 0 1 0 7.0 0a3.5 3.7 0 1 0 -7.0 0M640.1 239.1m-2.6 0a2.6 2.5 0 1 0 5.2 0a2.6 2.5 0 1 0 -5.2 0M638.5 232.2h3.6M638.5 234.6h3.6M634.6 239.1m-1.8 0a1.8 1.5 0 1 0 3.6 0a1.8 1.5 0 1 0 -3.6 0M645.7 233.7m-3.4 0a3.4 3.8 0 1 0 6.8 0a3.4 3.8 0 1 0 -6.8 0M651.3 239.1m-2.9 0a2.9 2.6 0 1 0 5.8 0a2.9 2.6 0 1 0 -5.8 0M649.8 232.2h3.6M649.8 234.6h3.6M645.9 239.1m-1.8 0a1.8 1.5 0 1 0 3.6 0a1.8 1.5 0 1 0 -3.6 0M657.6 233.5m-3.5 0a3.5 3.7 0 1 0 7.0 0a3.5 3.7 0 1 0 -7.0 0M663.1 239.1m-2.7 0a2.7 2.3 0 1 0 5.4 0a2.7 2.3 0 1 0 -5.4 0M661.1 232.2h3.6M661.1 234.6h3.6M657.2 239.1m-1.8 0a1.8 1.5 0 1 0 3.6 0a1.8 1.5 0 1 0 -3.6 0M668.1 233.0m-3.7 0a3.7 4.1 0 1 0 7.3 0a3.7 4.1 0 1 0 -7.3 0M673.9 239.1m-2.8 0a2.8 2.4 0 1 0 5.6 0a2.8 2.4 0 1 0 -5.6 0M672.4 232.2h3.6M672.4 234.6h3.6M668.5 239.1m-1.8 0a1.8 1.5 0 1 0 3.6 0a1.8 1.5 0 1 0 -3.6 0M680.0 233.8m-3.6 0a3.6 4.0 0 1 0 7.2 0a3.6 4.0 0 1 0 -7.2 0M685.4 239.1m-2.5 0a2.5 2.5 0 1 0 5.0 0a2.5 2.5 0 1 0 -5.0 0M683.6 232.2h3.6M683.6 234.6h3.6M679.8 239.1m-1.8 0a1.8 1.5 0 1 0 3.6 0a1.8 1.5 0 1 0 -3.6 0M691.2 233.1m-3.5 0a3.5 3.8 0 1 0 7.0 0a3.5 3.8 0 1 0 -7.0 0M696.4 239.1m-2.6 0a2.6 2.5 0 1 0 5.2 0a2.6 2.5 0 1 0 -5.2 0M695.0 232.2h3.6M695.0 234.6h3.6M691.1 239.1m-1.8 0a1.8 1.5 0 1 0 3.6 0a1.8 1.5 0 1 0 -3.6 0M702.4 233.6m-3.5 0a3.5 4.1 0 1 0 7.0 0a3.5 4.1 0 1 0 -7.0 0M708.3 239.1m-2.9 0a2.9 2.6 0 1 0 5.7 0a2.9 2.6 0 1 0 -5.7 0M706.2 232.2h3.6M706.2 234.6h3.6M702.4 239.1m-1.8 0a1.8 1.5 0 1 0 3.6 0a1.8 1.5 0 1 0 -3.6 0M713.9 233.4m-3.7 0a3.7 3.8 0 1 0 7.4 0a3.7 3.8 0 1 0 -7.4 0M719.4 239.1m-2.8 0a2.8 2.5 0 1 0 5.5 0a2.8 2.5 0 1 0 -5.5 0M717.6 232.2h3.6M717.6 234.6h3.6M713.7 239.1m-1.8 0a1.8 1.5 0 1 0 3.6 0a1.8 1.5 0 1 0 -3.6 0M724.7 233.0m-3.3 0a3.3 3.8 0 1 0 6.7 0a3.3 3.8 0 1 0 -6.7 0M730.7 239.1m-2.8 0a2.8 2.6 0 1 0 5.6 0a2.8 2.6 0 1 0 -5.6 0M728.9 232.2h3.6M728.9 234.6h3.6M725.0 239.1m-1.8 0a1.8 1.5 0 1 0 3.6 0a1.8 1.5 0 1 0 -3.6 0M611.8 245.1m-3.4 0a3.4 4.0 0 1 0 6.9 0a3.4 4.0 0 1 0 -6.9 0M617.3 250.3m-2.8 0a2.8 2.6 0 1 0 5.6 0a2.8 2.6 0 1 0 -5.6 0M615.9 243.5h3.6M615.9 245.9h3.6M612.0 250.3m-1.8 0a1.8 1.5 0 1 0 3.6 0a1.8 1.5 0 1 0 -3.6 0M623.8 245.1m-3.6 0a3.6 4.0 0 1 0 7.3 0a3.6 4.0 0 1 0 -7.3 0M629.1 250.3m-2.7 0a2.7 2.4 0 1 0 5.5 0a2.7 2.4 0 1 0 -5.5 0M627.1 243.5h3.6M627.1 245.9h3.6M623.3 250.3m-1.8 0a1.8 1.5 0 1 0 3.6 0a1.8 1.5 0 1 0 -3.6 0M634.6 245.1m-3.4 0a3.4 4.1 0 1 0 6.8 0a3.4 4.1 0 1 0 -6.8 0M640.3 250.3m-2.7 0a2.7 2.3 0 1 0 5.3 0a2.7 2.3 0 1 0 -5.3 0M638.5 243.5h3.6M638.5 245.9h3.6M634.6 250.3m-1.8 0a1.8 1.5 0 1 0 3.6 0a1.8 1.5 0 1 0 -3.6 0M645.8 244.4m-3.6 0a3.6 4.0 0 1 0 7.3 0a3.6 4.0 0 1 0 -7.3 0M651.9 250.3m-2.7 0a2.7 2.5 0 1 0 5.5 0a2.7 2.5 0 1 0 -5.5 0M649.8 243.5h3.6M649.8 245.9h3.6M645.9 250.3m-1.8 0a1.8 1.5 0 1 0 3.6 0a1.8 1.5 0 1 0 -3.6 0M656.7 244.9m-3.6 0a3.6 4.0 0 1 0 7.2 0a3.6 4.0 0 1 0 -7.2 0M662.7 250.3m-2.9 0a2.9 2.4 0 1 0 5.7 0a2.9 2.4 0 1 0 -5.7 0M661.1 243.5h3.6M661.1 245.9h3.6M657.2 250.3m-1.8 0a1.8 1.5 0 1 0 3.6 0a1.8 1.5 0 1 0 -3.6 0M668.3 244.5m-3.6 0a3.6 4.0 0 1 0 7.2 0a3.6 4.0 0 1 0 -7.2 0M673.9 250.3m-2.8 0a2.8 2.6 0 1 0 5.5 0a2.8 2.6 0 1 0 -5.5 0M672.4 243.5h3.6M672.4 245.9h3.6M668.5 250.3m-1.8 0a1.8 1.5 0 1 0 3.6 0a1.8 1.5 0 1 0 -3.6 0M679.5 244.3m-3.6 0a3.6 4.0 0 1 0 7.2 0a3.6 4.0 0 1 0 -7.2 0M685.8 250.3m-2.8 0a2.8 2.5 0 1 0 5.6 0a2.8 2.5 0 1 0 -5.6 0M683.6 243.5h3.6M683.6 245.9h3.6M679.8 250.3m-1.8 0a1.8 1.5 0 1 0 3.6 0a1.8 1.5 0 1 0 -3.6 0M691.0 244.7m-3.8 0a3.8 3.8 0 1 0 7.5 0a3.8 3.8 0 1 0 -7.5 0M696.6 250.3m-2.7 0a2.7 2.7 0 1 0 5.5 0a2.7 2.7 0 1 0 -5.5 0M695.0 243.5h3.6M695.0 245.9h3.6M691.1 250.3m-1.8 0a1.8 1.5 0 1 0 3.6 0a1.8 1.5 0 1 0 -3.6 0M702.0 244.2m-3.4 0a3.4 3.9 0 1 0 6.7 0a3.4 3.9 0 1 0 -6.7 0M708.1 250.3m-2.6 0a2.6 2.4 0 1 0 5.1 0a2.6 2.4 0 1 0 -5.1 0M706.2 243.5h3.6M706.2 245.9h3.6M702.4 250.3m-1.8 0a1.8 1.5 0 1 0 3.6 0a1.8 1.5 0 1 0 -3.6 0M713.8 244.8m-3.6 0a3.6 4.0 0 1 0 7.3 0a3.6 4.0 0 1 0 -7.3 0M719.0 250.3m-2.7 0a2.7 2.6 0 1 0 5.4 0a2.7 2.6 0 1 0 -5.4 0M717.6 243.5h3.6M717.6 245.9h3.6M713.7 250.3m-1.8 0a1.8 1.5 0 1 0 3.6 0a1.8 1.5 0 1 0 -3.6 0M725.5 244.5m-3.7 0a3.7 3.9 0 1 0 7.5 0a3.7 3.9 0 1 0 -7.5 0M731.0 250.3m-2.6 0a2.6 2.6 0 1 0 5.2 0a2.6 2.6 0 1 0 -5.2 0M728.9 243.5h3.6M728.9 245.9h3.6M725.0 250.3m-1.8 0a1.8 1.5 0 1 0 3.6 0a1.8 1.5 0 1 0 -3.6 0"/></g><path d="M614.7 184.6 C618 182 620 180.5 623.3 179.2 C630 176.5 637 175 643.3 172 C648 169.5 652 167.5 656.6 164.6 C662 160 666 155.5 670 152.6 C674 150 677 147.5 680.5 147.3 C683 147.4 685 148.5 687 150 C690 153 692 157 695 160 C698 162.5 700 164 703 165.3 C707 167 710 168.5 713.8 170 V182.6 L682.5 235.8 H645.2 Z" fill="none" stroke="#6e6e6e" stroke-width="0.8"/>
<path d="M614.7 184.6 V69.3 H713.8 V182.6" fill="none" stroke="#7a7a7a" stroke-width="0.8"/>
<g fill="none" stroke="#777" stroke-width="0.7">
 <rect x="511.3" y="88.2" width="19.3" height="3" fill="#fff"/><rect x="530.6" y="87.5" width="8.7" height="4.4" fill="#fff"/>
 <rect x="511.3" y="143.3" width="19.3" height="3" fill="#dadbde"/><rect x="530.6" y="142.6" width="8.7" height="4.4" fill="#dadbde"/>
 <rect x="679" y="88.2" width="19.3" height="3" fill="#fff"/><rect x="698.3" y="87.5" width="10" height="4.4" fill="#fff"/>
 <rect x="680" y="158.8" width="18.3" height="3" fill="#fff"/><rect x="698.3" y="158.1" width="10" height="4.4" fill="#fff"/>
</g>
<g fill="none" stroke="#777" stroke-width="0.7" color="#fff">
 <use href="#sb" transform="translate(539.3 89.7) scale(0.57)" vector-effect="non-scaling-stroke"/>
 <use href="#sb" transform="translate(539.3 144.8) scale(0.57)"/>
 <use href="#sb" transform="translate(708.4 89.7) scale(0.57)"/>
 <use href="#sb" transform="translate(708.4 160.3) scale(0.57)"/>
</g>


<!-- ============ inclined install ============ -->
<g clip-path="url(#bandclip)"><rect x="460" y="300" width="240" height="145" fill="#fff"/><path fill="none" stroke="#888" stroke-width="0.42" d="M468.0 306.0m-1.5 0a1.5 1.5 0 1 0 3 0a1.5 1.5 0 1 0-3 0M471.5 306.0m-1.5 0a1.5 1.5 0 1 0 3 0a1.5 1.5 0 1 0-3 0M475.0 306.0m-1.5 0a1.5 1.5 0 1 0 3 0a1.5 1.5 0 1 0-3 0M478.5 306.0m-1.5 0a1.5 1.5 0 1 0 3 0a1.5 1.5 0 1 0-3 0M482.0 306.0m-1.5 0a1.5 1.5 0 1 0 3 0a1.5 1.5 0 1 0-3 0M485.5 306.0m-1.5 0a1.5 1.5 0 1 0 3 0a1.5 1.5 0 1 0-3 0M489.0 306.0m-1.5 0a1.5 1.5 0 1 0 3 0a1.5 1.5 0 1 0-3 0M492.5 306.0m-1.5 0a1.5 1.5 0 1 0 3 0a1.5 1.5 0 1 0-3 0M496.0 306.0m-1.5 0a1.5 1.5 0 1 0 3 0a1.5 1.5 0 1 0-3 0M499.5 306.0m-1.5 0a1.5 1.5 0 1 0 3 0a1.5 1.5 0 1 0-3 0M664.0 306.0m-1.5 0a1.5 1.5 0 1 0 3 0a1.5 1.5 0 1 0-3 0M667.5 306.0m-1.5 0a1.5 1.5 0 1 0 3 0a1.5 1.5 0 1 0-3 0M671.0 306.0m-1.5 0a1.5 1.5 0 1 0 3 0a1.5 1.5 0 1 0-3 0M674.5 306.0m-1.5 0a1.5 1.5 0 1 0 3 0a1.5 1.5 0 1 0-3 0M678.0 306.0m-1.5 0a1.5 1.5 0 1 0 3 0a1.5 1.5 0 1 0-3 0M681.5 306.0m-1.5 0a1.5 1.5 0 1 0 3 0a1.5 1.5 0 1 0-3 0M685.0 306.0m-1.5 0a1.5 1.5 0 1 0 3 0a1.5 1.5 0 1 0-3 0M688.5 306.0m-1.5 0a1.5 1.5 0 1 0 3 0a1.5 1.5 0 1 0-3 0M692.0 306.0m-1.5 0a1.5 1.5 0 1 0 3 0a1.5 1.5 0 1 0-3 0M695.5 306.0m-1.5 0a1.5 1.5 0 1 0 3 0a1.5 1.5 0 1 0-3 0M469.8 309.0m-1.5 0a1.5 1.5 0 1 0 3 0a1.5 1.5 0 1 0-3 0M473.2 309.0m-1.5 0a1.5 1.5 0 1 0 3 0a1.5 1.5 0 1 0-3 0M476.8 309.0m-1.5 0a1.5 1.5 0 1 0 3 0a1.5 1.5 0 1 0-3 0M480.2 309.0m-1.5 0a1.5 1.5 0 1 0 3 0a1.5 1.5 0 1 0-3 0M483.8 309.0m-1.5 0a1.5 1.5 0 1 0 3 0a1.5 1.5 0 1 0-3 0M487.2 309.0m-1.5 0a1.5 1.5 0 1 0 3 0a1.5 1.5 0 1 0-3 0M490.8 309.0m-1.5 0a1.5 1.5 0 1 0 3 0a1.5 1.5 0 1 0-3 0M494.2 309.0m-1.5 0a1.5 1.5 0 1 0 3 0a1.5 1.5 0 1 0-3 0M497.8 309.0m-1.5 0a1.5 1.5 0 1 0 3 0a1.5 1.5 0 1 0-3 0M501.2 309.0m-1.5 0a1.5 1.5 0 1 0 3 0a1.5 1.5 0 1 0-3 0M662.2 309.0m-1.5 0a1.5 1.5 0 1 0 3 0a1.5 1.5 0 1 0-3 0M665.8 309.0m-1.5 0a1.5 1.5 0 1 0 3 0a1.5 1.5 0 1 0-3 0M669.2 309.0m-1.5 0a1.5 1.5 0 1 0 3 0a1.5 1.5 0 1 0-3 0M672.8 309.0m-1.5 0a1.5 1.5 0 1 0 3 0a1.5 1.5 0 1 0-3 0M676.2 309.0m-1.5 0a1.5 1.5 0 1 0 3 0a1.5 1.5 0 1 0-3 0M679.8 309.0m-1.5 0a1.5 1.5 0 1 0 3 0a1.5 1.5 0 1 0-3 0M683.2 309.0m-1.5 0a1.5 1.5 0 1 0 3 0a1.5 1.5 0 1 0-3 0M686.8 309.0m-1.5 0a1.5 1.5 0 1 0 3 0a1.5 1.5 0 1 0-3 0M690.2 309.0m-1.5 0a1.5 1.5 0 1 0 3 0a1.5 1.5 0 1 0-3 0M693.8 309.0m-1.5 0a1.5 1.5 0 1 0 3 0a1.5 1.5 0 1 0-3 0M471.5 312.1m-1.5 0a1.5 1.5 0 1 0 3 0a1.5 1.5 0 1 0-3 0M475.0 312.1m-1.5 0a1.5 1.5 0 1 0 3 0a1.5 1.5 0 1 0-3 0M478.5 312.1m-1.5 0a1.5 1.5 0 1 0 3 0a1.5 1.5 0 1 0-3 0M482.0 312.1m-1.5 0a1.5 1.5 0 1 0 3 0a1.5 1.5 0 1 0-3 0M485.5 312.1m-1.5 0a1.5 1.5 0 1 0 3 0a1.5 1.5 0 1 0-3 0M489.0 312.1m-1.5 0a1.5 1.5 0 1 0 3 0a1.5 1.5 0 1 0-3 0M492.5 312.1m-1.5 0a1.5 1.5 0 1 0 3 0a1.5 1.5 0 1 0-3 0M496.0 312.1m-1.5 0a1.5 1.5 0 1 0 3 0a1.5 1.5 0 1 0-3 0M499.5 312.1m-1.5 0a1.5 1.5 0 1 0 3 0a1.5 1.5 0 1 0-3 0M503.0 312.1m-1.5 0a1.5 1.5 0 1 0 3 0a1.5 1.5 0 1 0-3 0M660.5 312.1m-1.5 0a1.5 1.5 0 1 0 3 0a1.5 1.5 0 1 0-3 0M664.0 312.1m-1.5 0a1.5 1.5 0 1 0 3 0a1.5 1.5 0 1 0-3 0M667.5 312.1m-1.5 0a1.5 1.5 0 1 0 3 0a1.5 1.5 0 1 0-3 0M671.0 312.1m-1.5 0a1.5 1.5 0 1 0 3 0a1.5 1.5 0 1 0-3 0M674.5 312.1m-1.5 0a1.5 1.5 0 1 0 3 0a1.5 1.5 0 1 0-3 0M678.0 312.1m-1.5 0a1.5 1.5 0 1 0 3 0a1.5 1.5 0 1 0-3 0M681.5 312.1m-1.5 0a1.5 1.5 0 1 0 3 0a1.5 1.5 0 1 0-3 0M685.0 312.1m-1.5 0a1.5 1.5 0 1 0 3 0a1.5 1.5 0 1 0-3 0M688.5 312.1m-1.5 0a1.5 1.5 0 1 0 3 0a1.5 1.5 0 1 0-3 0M692.0 312.1m-1.5 0a1.5 1.5 0 1 0 3 0a1.5 1.5 0 1 0-3 0M473.2 315.1m-1.5 0a1.5 1.5 0 1 0 3 0a1.5 1.5 0 1 0-3 0M476.8 315.1m-1.5 0a1.5 1.5 0 1 0 3 0a1.5 1.5 0 1 0-3 0M480.2 315.1m-1.5 0a1.5 1.5 0 1 0 3 0a1.5 1.5 0 1 0-3 0M483.8 315.1m-1.5 0a1.5 1.5 0 1 0 3 0a1.5 1.5 0 1 0-3 0M487.2 315.1m-1.5 0a1.5 1.5 0 1 0 3 0a1.5 1.5 0 1 0-3 0M490.8 315.1m-1.5 0a1.5 1.5 0 1 0 3 0a1.5 1.5 0 1 0-3 0M494.2 315.1m-1.5 0a1.5 1.5 0 1 0 3 0a1.5 1.5 0 1 0-3 0M497.8 315.1m-1.5 0a1.5 1.5 0 1 0 3 0a1.5 1.5 0 1 0-3 0M501.2 315.1m-1.5 0a1.5 1.5 0 1 0 3 0a1.5 1.5 0 1 0-3 0M504.8 315.1m-1.5 0a1.5 1.5 0 1 0 3 0a1.5 1.5 0 1 0-3 0M658.8 315.1m-1.5 0a1.5 1.5 0 1 0 3 0a1.5 1.5 0 1 0-3 0M662.2 315.1m-1.5 0a1.5 1.5 0 1 0 3 0a1.5 1.5 0 1 0-3 0M665.8 315.1m-1.5 0a1.5 1.5 0 1 0 3 0a1.5 1.5 0 1 0-3 0M669.2 315.1m-1.5 0a1.5 1.5 0 1 0 3 0a1.5 1.5 0 1 0-3 0M672.8 315.1m-1.5 0a1.5 1.5 0 1 0 3 0a1.5 1.5 0 1 0-3 0M676.2 315.1m-1.5 0a1.5 1.5 0 1 0 3 0a1.5 1.5 0 1 0-3 0M679.8 315.1m-1.5 0a1.5 1.5 0 1 0 3 0a1.5 1.5 0 1 0-3 0M683.2 315.1m-1.5 0a1.5 1.5 0 1 0 3 0a1.5 1.5 0 1 0-3 0M686.8 315.1m-1.5 0a1.5 1.5 0 1 0 3 0a1.5 1.5 0 1 0-3 0M690.2 315.1m-1.5 0a1.5 1.5 0 1 0 3 0a1.5 1.5 0 1 0-3 0M475.0 318.1m-1.5 0a1.5 1.5 0 1 0 3 0a1.5 1.5 0 1 0-3 0M478.5 318.1m-1.5 0a1.5 1.5 0 1 0 3 0a1.5 1.5 0 1 0-3 0M482.0 318.1m-1.5 0a1.5 1.5 0 1 0 3 0a1.5 1.5 0 1 0-3 0M485.5 318.1m-1.5 0a1.5 1.5 0 1 0 3 0a1.5 1.5 0 1 0-3 0M489.0 318.1m-1.5 0a1.5 1.5 0 1 0 3 0a1.5 1.5 0 1 0-3 0M492.5 318.1m-1.5 0a1.5 1.5 0 1 0 3 0a1.5 1.5 0 1 0-3 0M496.0 318.1m-1.5 0a1.5 1.5 0 1 0 3 0a1.5 1.5 0 1 0-3 0M499.5 318.1m-1.5 0a1.5 1.5 0 1 0 3 0a1.5 1.5 0 1 0-3 0M503.0 318.1m-1.5 0a1.5 1.5 0 1 0 3 0a1.5 1.5 0 1 0-3 0M506.5 318.1m-1.5 0a1.5 1.5 0 1 0 3 0a1.5 1.5 0 1 0-3 0M657.0 318.1m-1.5 0a1.5 1.5 0 1 0 3 0a1.5 1.5 0 1 0-3 0M660.5 318.1m-1.5 0a1.5 1.5 0 1 0 3 0a1.5 1.5 0 1 0-3 0M664.0 318.1m-1.5 0a1.5 1.5 0 1 0 3 0a1.5 1.5 0 1 0-3 0M667.5 318.1m-1.5 0a1.5 1.5 0 1 0 3 0a1.5 1.5 0 1 0-3 0M671.0 318.1m-1.5 0a1.5 1.5 0 1 0 3 0a1.5 1.5 0 1 0-3 0M674.5 318.1m-1.5 0a1.5 1.5 0 1 0 3 0a1.5 1.5 0 1 0-3 0M678.0 318.1m-1.5 0a1.5 1.5 0 1 0 3 0a1.5 1.5 0 1 0-3 0M681.5 318.1m-1.5 0a1.5 1.5 0 1 0 3 0a1.5 1.5 0 1 0-3 0M685.0 318.1m-1.5 0a1.5 1.5 0 1 0 3 0a1.5 1.5 0 1 0-3 0M688.5 318.1m-1.5 0a1.5 1.5 0 1 0 3 0a1.5 1.5 0 1 0-3 0M476.8 321.1m-1.5 0a1.5 1.5 0 1 0 3 0a1.5 1.5 0 1 0-3 0M480.2 321.1m-1.5 0a1.5 1.5 0 1 0 3 0a1.5 1.5 0 1 0-3 0M483.8 321.1m-1.5 0a1.5 1.5 0 1 0 3 0a1.5 1.5 0 1 0-3 0M487.2 321.1m-1.5 0a1.5 1.5 0 1 0 3 0a1.5 1.5 0 1 0-3 0M490.8 321.1m-1.5 0a1.5 1.5 0 1 0 3 0a1.5 1.5 0 1 0-3 0M494.2 321.1m-1.5 0a1.5 1.5 0 1 0 3 0a1.5 1.5 0 1 0-3 0M497.8 321.1m-1.5 0a1.5 1.5 0 1 0 3 0a1.5 1.5 0 1 0-3 0M501.2 321.1m-1.5 0a1.5 1.5 0 1 0 3 0a1.5 1.5 0 1 0-3 0M504.8 321.1m-1.5 0a1.5 1.5 0 1 0 3 0a1.5 1.5 0 1 0-3 0M508.2 321.1m-1.5 0a1.5 1.5 0 1 0 3 0a1.5 1.5 0 1 0-3 0M655.2 321.1m-1.5 0a1.5 1.5 0 1 0 3 0a1.5 1.5 0 1 0-3 0M658.8 321.1m-1.5 0a1.5 1.5 0 1 0 3 0a1.5 1.5 0 1 0-3 0M662.2 321.1m-1.5 0a1.5 1.5 0 1 0 3 0a1.5 1.5 0 1 0-3 0M665.8 321.1m-1.5 0a1.5 1.5 0 1 0 3 0a1.5 1.5 0 1 0-3 0M669.2 321.1m-1.5 0a1.5 1.5 0 1 0 3 0a1.5 1.5 0 1 0-3 0M672.8 321.1m-1.5 0a1.5 1.5 0 1 0 3 0a1.5 1.5 0 1 0-3 0M676.2 321.1m-1.5 0a1.5 1.5 0 1 0 3 0a1.5 1.5 0 1 0-3 0M679.8 321.1m-1.5 0a1.5 1.5 0 1 0 3 0a1.5 1.5 0 1 0-3 0M683.2 321.1m-1.5 0a1.5 1.5 0 1 0 3 0a1.5 1.5 0 1 0-3 0M686.8 321.1m-1.5 0a1.5 1.5 0 1 0 3 0a1.5 1.5 0 1 0-3 0M690.2 321.1m-1.5 0a1.5 1.5 0 1 0 3 0a1.5 1.5 0 1 0-3 0M478.5 324.2m-1.5 0a1.5 1.5 0 1 0 3 0a1.5 1.5 0 1 0-3 0M482.0 324.2m-1.5 0a1.5 1.5 0 1 0 3 0a1.5 1.5 0 1 0-3 0M485.5 324.2m-1.5 0a1.5 1.5 0 1 0 3 0a1.5 1.5 0 1 0-3 0M489.0 324.2m-1.5 0a1.5 1.5 0 1 0 3 0a1.5 1.5 0 1 0-3 0M492.5 324.2m-1.5 0a1.5 1.5 0 1 0 3 0a1.5 1.5 0 1 0-3 0M496.0 324.2m-1.5 0a1.5 1.5 0 1 0 3 0a1.5 1.5 0 1 0-3 0M499.5 324.2m-1.5 0a1.5 1.5 0 1 0 3 0a1.5 1.5 0 1 0-3 0M503.0 324.2m-1.5 0a1.5 1.5 0 1 0 3 0a1.5 1.5 0 1 0-3 0M506.5 324.2m-1.5 0a1.5 1.5 0 1 0 3 0a1.5 1.5 0 1 0-3 0M510.0 324.2m-1.5 0a1.5 1.5 0 1 0 3 0a1.5 1.5 0 1 0-3 0M653.5 324.2m-1.5 0a1.5 1.5 0 1 0 3 0a1.5 1.5 0 1 0-3 0M657.0 324.2m-1.5 0a1.5 1.5 0 1 0 3 0a1.5 1.5 0 1 0-3 0M660.5 324.2m-1.5 0a1.5 1.5 0 1 0 3 0a1.5 1.5 0 1 0-3 0M664.0 324.2m-1.5 0a1.5 1.5 0 1 0 3 0a1.5 1.5 0 1 0-3 0M667.5 324.2m-1.5 0a1.5 1.5 0 1 0 3 0a1.5 1.5 0 1 0-3 0M671.0 324.2m-1.5 0a1.5 1.5 0 1 0 3 0a1.5 1.5 0 1 0-3 0M674.5 324.2m-1.5 0a1.5 1.5 0 1 0 3 0a1.5 1.5 0 1 0-3 0M678.0 324.2m-1.5 0a1.5 1.5 0 1 0 3 0a1.5 1.5 0 1 0-3 0M681.5 324.2m-1.5 0a1.5 1.5 0 1 0 3 0a1.5 1.5 0 1 0-3 0M685.0 324.2m-1.5 0a1.5 1.5 0 1 0 3 0a1.5 1.5 0 1 0-3 0M688.5 324.2m-1.5 0a1.5 1.5 0 1 0 3 0a1.5 1.5 0 1 0-3 0M480.2 327.2m-1.5 0a1.5 1.5 0 1 0 3 0a1.5 1.5 0 1 0-3 0M483.8 327.2m-1.5 0a1.5 1.5 0 1 0 3 0a1.5 1.5 0 1 0-3 0M487.2 327.2m-1.5 0a1.5 1.5 0 1 0 3 0a1.5 1.5 0 1 0-3 0M490.8 327.2m-1.5 0a1.5 1.5 0 1 0 3 0a1.5 1.5 0 1 0-3 0M494.2 327.2m-1.5 0a1.5 1.5 0 1 0 3 0a1.5 1.5 0 1 0-3 0M497.8 327.2m-1.5 0a1.5 1.5 0 1 0 3 0a1.5 1.5 0 1 0-3 0M501.2 327.2m-1.5 0a1.5 1.5 0 1 0 3 0a1.5 1.5 0 1 0-3 0M504.8 327.2m-1.5 0a1.5 1.5 0 1 0 3 0a1.5 1.5 0 1 0-3 0M508.2 327.2m-1.5 0a1.5 1.5 0 1 0 3 0a1.5 1.5 0 1 0-3 0M511.8 327.2m-1.5 0a1.5 1.5 0 1 0 3 0a1.5 1.5 0 1 0-3 0M651.8 327.2m-1.5 0a1.5 1.5 0 1 0 3 0a1.5 1.5 0 1 0-3 0M655.2 327.2m-1.5 0a1.5 1.5 0 1 0 3 0a1.5 1.5 0 1 0-3 0M658.8 327.2m-1.5 0a1.5 1.5 0 1 0 3 0a1.5 1.5 0 1 0-3 0M662.2 327.2m-1.5 0a1.5 1.5 0 1 0 3 0a1.5 1.5 0 1 0-3 0M665.8 327.2m-1.5 0a1.5 1.5 0 1 0 3 0a1.5 1.5 0 1 0-3 0M669.2 327.2m-1.5 0a1.5 1.5 0 1 0 3 0a1.5 1.5 0 1 0-3 0M672.8 327.2m-1.5 0a1.5 1.5 0 1 0 3 0a1.5 1.5 0 1 0-3 0M676.2 327.2m-1.5 0a1.5 1.5 0 1 0 3 0a1.5 1.5 0 1 0-3 0M679.8 327.2m-1.5 0a1.5 1.5 0 1 0 3 0a1.5 1.5 0 1 0-3 0M683.2 327.2m-1.5 0a1.5 1.5 0 1 0 3 0a1.5 1.5 0 1 0-3 0M686.8 327.2m-1.5 0a1.5 1.5 0 1 0 3 0a1.5 1.5 0 1 0-3 0M482.0 330.2m-1.5 0a1.5 1.5 0 1 0 3 0a1.5 1.5 0 1 0-3 0M485.5 330.2m-1.5 0a1.5 1.5 0 1 0 3 0a1.5 1.5 0 1 0-3 0M489.0 330.2m-1.5 0a1.5 1.5 0 1 0 3 0a1.5 1.5 0 1 0-3 0M492.5 330.2m-1.5 0a1.5 1.5 0 1 0 3 0a1.5 1.5 0 1 0-3 0M496.0 330.2m-1.5 0a1.5 1.5 0 1 0 3 0a1.5 1.5 0 1 0-3 0M499.5 330.2m-1.5 0a1.5 1.5 0 1 0 3 0a1.5 1.5 0 1 0-3 0M503.0 330.2m-1.5 0a1.5 1.5 0 1 0 3 0a1.5 1.5 0 1 0-3 0M506.5 330.2m-1.5 0a1.5 1.5 0 1 0 3 0a1.5 1.5 0 1 0-3 0M510.0 330.2m-1.5 0a1.5 1.5 0 1 0 3 0a1.5 1.5 0 1 0-3 0M513.5 330.2m-1.5 0a1.5 1.5 0 1 0 3 0a1.5 1.5 0 1 0-3 0M650.0 330.2m-1.5 0a1.5 1.5 0 1 0 3 0a1.5 1.5 0 1 0-3 0M653.5 330.2m-1.5 0a1.5 1.5 0 1 0 3 0a1.5 1.5 0 1 0-3 0M657.0 330.2m-1.5 0a1.5 1.5 0 1 0 3 0a1.5 1.5 0 1 0-3 0M660.5 330.2m-1.5 0a1.5 1.5 0 1 0 3 0a1.5 1.5 0 1 0-3 0M664.0 330.2m-1.5 0a1.5 1.5 0 1 0 3 0a1.5 1.5 0 1 0-3 0M667.5 330.2m-1.5 0a1.5 1.5 0 1 0 3 0a1.5 1.5 0 1 0-3 0M671.0 330.2m-1.5 0a1.5 1.5 0 1 0 3 0a1.5 1.5 0 1 0-3 0M674.5 330.2m-1.5 0a1.5 1.5 0 1 0 3 0a1.5 1.5 0 1 0-3 0M678.0 330.2m-1.5 0a1.5 1.5 0 1 0 3 0a1.5 1.5 0 1 0-3 0M681.5 330.2m-1.5 0a1.5 1.5 0 1 0 3 0a1.5 1.5 0 1 0-3 0M685.0 330.2m-1.5 0a1.5 1.5 0 1 0 3 0a1.5 1.5 0 1 0-3 0M483.8 333.3m-1.5 0a1.5 1.5 0 1 0 3 0a1.5 1.5 0 1 0-3 0M487.2 333.3m-1.5 0a1.5 1.5 0 1 0 3 0a1.5 1.5 0 1 0-3 0M490.8 333.3m-1.5 0a1.5 1.5 0 1 0 3 0a1.5 1.5 0 1 0-3 0M494.2 333.3m-1.5 0a1.5 1.5 0 1 0 3 0a1.5 1.5 0 1 0-3 0M497.8 333.3m-1.5 0a1.5 1.5 0 1 0 3 0a1.5 1.5 0 1 0-3 0M501.2 333.3m-1.5 0a1.5 1.5 0 1 0 3 0a1.5 1.5 0 1 0-3 0M504.8 333.3m-1.5 0a1.5 1.5 0 1 0 3 0a1.5 1.5 0 1 0-3 0M508.2 333.3m-1.5 0a1.5 1.5 0 1 0 3 0a1.5 1.5 0 1 0-3 0M511.8 333.3m-1.5 0a1.5 1.5 0 1 0 3 0a1.5 1.5 0 1 0-3 0M515.2 333.3m-1.5 0a1.5 1.5 0 1 0 3 0a1.5 1.5 0 1 0-3 0M648.2 333.3m-1.5 0a1.5 1.5 0 1 0 3 0a1.5 1.5 0 1 0-3 0M651.8 333.3m-1.5 0a1.5 1.5 0 1 0 3 0a1.5 1.5 0 1 0-3 0M655.2 333.3m-1.5 0a1.5 1.5 0 1 0 3 0a1.5 1.5 0 1 0-3 0M658.8 333.3m-1.5 0a1.5 1.5 0 1 0 3 0a1.5 1.5 0 1 0-3 0M662.2 333.3m-1.5 0a1.5 1.5 0 1 0 3 0a1.5 1.5 0 1 0-3 0M665.8 333.3m-1.5 0a1.5 1.5 0 1 0 3 0a1.5 1.5 0 1 0-3 0M669.2 333.3m-1.5 0a1.5 1.5 0 1 0 3 0a1.5 1.5 0 1 0-3 0M672.8 333.3m-1.5 0a1.5 1.5 0 1 0 3 0a1.5 1.5 0 1 0-3 0M676.2 333.3m-1.5 0a1.5 1.5 0 1 0 3 0a1.5 1.5 0 1 0-3 0M679.8 333.3m-1.5 0a1.5 1.5 0 1 0 3 0a1.5 1.5 0 1 0-3 0M683.2 333.3m-1.5 0a1.5 1.5 0 1 0 3 0a1.5 1.5 0 1 0-3 0M485.5 336.3m-1.5 0a1.5 1.5 0 1 0 3 0a1.5 1.5 0 1 0-3 0M489.0 336.3m-1.5 0a1.5 1.5 0 1 0 3 0a1.5 1.5 0 1 0-3 0M492.5 336.3m-1.5 0a1.5 1.5 0 1 0 3 0a1.5 1.5 0 1 0-3 0M496.0 336.3m-1.5 0a1.5 1.5 0 1 0 3 0a1.5 1.5 0 1 0-3 0M499.5 336.3m-1.5 0a1.5 1.5 0 1 0 3 0a1.5 1.5 0 1 0-3 0M503.0 336.3m-1.5 0a1.5 1.5 0 1 0 3 0a1.5 1.5 0 1 0-3 0M506.5 336.3m-1.5 0a1.5 1.5 0 1 0 3 0a1.5 1.5 0 1 0-3 0M510.0 336.3m-1.5 0a1.5 1.5 0 1 0 3 0a1.5 1.5 0 1 0-3 0M513.5 336.3m-1.5 0a1.5 1.5 0 1 0 3 0a1.5 1.5 0 1 0-3 0M517.0 336.3m-1.5 0a1.5 1.5 0 1 0 3 0a1.5 1.5 0 1 0-3 0M646.5 336.3m-1.5 0a1.5 1.5 0 1 0 3 0a1.5 1.5 0 1 0-3 0M650.0 336.3m-1.5 0a1.5 1.5 0 1 0 3 0a1.5 1.5 0 1 0-3 0M653.5 336.3m-1.5 0a1.5 1.5 0 1 0 3 0a1.5 1.5 0 1 0-3 0M657.0 336.3m-1.5 0a1.5 1.5 0 1 0 3 0a1.5 1.5 0 1 0-3 0M660.5 336.3m-1.5 0a1.5 1.5 0 1 0 3 0a1.5 1.5 0 1 0-3 0M664.0 336.3m-1.5 0a1.5 1.5 0 1 0 3 0a1.5 1.5 0 1 0-3 0M667.5 336.3m-1.5 0a1.5 1.5 0 1 0 3 0a1.5 1.5 0 1 0-3 0M671.0 336.3m-1.5 0a1.5 1.5 0 1 0 3 0a1.5 1.5 0 1 0-3 0M674.5 336.3m-1.5 0a1.5 1.5 0 1 0 3 0a1.5 1.5 0 1 0-3 0M678.0 336.3m-1.5 0a1.5 1.5 0 1 0 3 0a1.5 1.5 0 1 0-3 0M681.5 336.3m-1.5 0a1.5 1.5 0 1 0 3 0a1.5 1.5 0 1 0-3 0M487.2 339.3m-1.5 0a1.5 1.5 0 1 0 3 0a1.5 1.5 0 1 0-3 0M490.8 339.3m-1.5 0a1.5 1.5 0 1 0 3 0a1.5 1.5 0 1 0-3 0M494.2 339.3m-1.5 0a1.5 1.5 0 1 0 3 0a1.5 1.5 0 1 0-3 0M497.8 339.3m-1.5 0a1.5 1.5 0 1 0 3 0a1.5 1.5 0 1 0-3 0M501.2 339.3m-1.5 0a1.5 1.5 0 1 0 3 0a1.5 1.5 0 1 0-3 0M504.8 339.3m-1.5 0a1.5 1.5 0 1 0 3 0a1.5 1.5 0 1 0-3 0M508.2 339.3m-1.5 0a1.5 1.5 0 1 0 3 0a1.5 1.5 0 1 0-3 0M511.8 339.3m-1.5 0a1.5 1.5 0 1 0 3 0a1.5 1.5 0 1 0-3 0M515.2 339.3m-1.5 0a1.5 1.5 0 1 0 3 0a1.5 1.5 0 1 0-3 0M518.8 339.3m-1.5 0a1.5 1.5 0 1 0 3 0a1.5 1.5 0 1 0-3 0M644.8 339.3m-1.5 0a1.5 1.5 0 1 0 3 0a1.5 1.5 0 1 0-3 0M648.2 339.3m-1.5 0a1.5 1.5 0 1 0 3 0a1.5 1.5 0 1 0-3 0M651.8 339.3m-1.5 0a1.5 1.5 0 1 0 3 0a1.5 1.5 0 1 0-3 0M655.2 339.3m-1.5 0a1.5 1.5 0 1 0 3 0a1.5 1.5 0 1 0-3 0M658.8 339.3m-1.5 0a1.5 1.5 0 1 0 3 0a1.5 1.5 0 1 0-3 0M662.2 339.3m-1.5 0a1.5 1.5 0 1 0 3 0a1.5 1.5 0 1 0-3 0M665.8 339.3m-1.5 0a1.5 1.5 0 1 0 3 0a1.5 1.5 0 1 0-3 0M669.2 339.3m-1.5 0a1.5 1.5 0 1 0 3 0a1.5 1.5 0 1 0-3 0M672.8 339.3m-1.5 0a1.5 1.5 0 1 0 3 0a1.5 1.5 0 1 0-3 0M676.2 339.3m-1.5 0a1.5 1.5 0 1 0 3 0a1.5 1.5 0 1 0-3 0M679.8 339.3m-1.5 0a1.5 1.5 0 1 0 3 0a1.5 1.5 0 1 0-3 0M485.5 342.4m-1.5 0a1.5 1.5 0 1 0 3 0a1.5 1.5 0 1 0-3 0M489.0 342.4m-1.5 0a1.5 1.5 0 1 0 3 0a1.5 1.5 0 1 0-3 0M492.5 342.4m-1.5 0a1.5 1.5 0 1 0 3 0a1.5 1.5 0 1 0-3 0M496.0 342.4m-1.5 0a1.5 1.5 0 1 0 3 0a1.5 1.5 0 1 0-3 0M499.5 342.4m-1.5 0a1.5 1.5 0 1 0 3 0a1.5 1.5 0 1 0-3 0M503.0 342.4m-1.5 0a1.5 1.5 0 1 0 3 0a1.5 1.5 0 1 0-3 0M506.5 342.4m-1.5 0a1.5 1.5 0 1 0 3 0a1.5 1.5 0 1 0-3 0M510.0 342.4m-1.5 0a1.5 1.5 0 1 0 3 0a1.5 1.5 0 1 0-3 0M513.5 342.4m-1.5 0a1.5 1.5 0 1 0 3 0a1.5 1.5 0 1 0-3 0M517.0 342.4m-1.5 0a1.5 1.5 0 1 0 3 0a1.5 1.5 0 1 0-3 0M520.5 342.4m-1.5 0a1.5 1.5 0 1 0 3 0a1.5 1.5 0 1 0-3 0M643.0 342.4m-1.5 0a1.5 1.5 0 1 0 3 0a1.5 1.5 0 1 0-3 0M646.5 342.4m-1.5 0a1.5 1.5 0 1 0 3 0a1.5 1.5 0 1 0-3 0M650.0 342.4m-1.5 0a1.5 1.5 0 1 0 3 0a1.5 1.5 0 1 0-3 0M653.5 342.4m-1.5 0a1.5 1.5 0 1 0 3 0a1.5 1.5 0 1 0-3 0M657.0 342.4m-1.5 0a1.5 1.5 0 1 0 3 0a1.5 1.5 0 1 0-3 0M660.5 342.4m-1.5 0a1.5 1.5 0 1 0 3 0a1.5 1.5 0 1 0-3 0M664.0 342.4m-1.5 0a1.5 1.5 0 1 0 3 0a1.5 1.5 0 1 0-3 0M667.5 342.4m-1.5 0a1.5 1.5 0 1 0 3 0a1.5 1.5 0 1 0-3 0M671.0 342.4m-1.5 0a1.5 1.5 0 1 0 3 0a1.5 1.5 0 1 0-3 0M674.5 342.4m-1.5 0a1.5 1.5 0 1 0 3 0a1.5 1.5 0 1 0-3 0M678.0 342.4m-1.5 0a1.5 1.5 0 1 0 3 0a1.5 1.5 0 1 0-3 0M487.2 345.4m-1.5 0a1.5 1.5 0 1 0 3 0a1.5 1.5 0 1 0-3 0M490.8 345.4m-1.5 0a1.5 1.5 0 1 0 3 0a1.5 1.5 0 1 0-3 0M494.2 345.4m-1.5 0a1.5 1.5 0 1 0 3 0a1.5 1.5 0 1 0-3 0M497.8 345.4m-1.5 0a1.5 1.5 0 1 0 3 0a1.5 1.5 0 1 0-3 0M501.2 345.4m-1.5 0a1.5 1.5 0 1 0 3 0a1.5 1.5 0 1 0-3 0M504.8 345.4m-1.5 0a1.5 1.5 0 1 0 3 0a1.5 1.5 0 1 0-3 0M508.2 345.4m-1.5 0a1.5 1.5 0 1 0 3 0a1.5 1.5 0 1 0-3 0M511.8 345.4m-1.5 0a1.5 1.5 0 1 0 3 0a1.5 1.5 0 1 0-3 0M515.2 345.4m-1.5 0a1.5 1.5 0 1 0 3 0a1.5 1.5 0 1 0-3 0M518.8 345.4m-1.5 0a1.5 1.5 0 1 0 3 0a1.5 1.5 0 1 0-3 0M522.2 345.4m-1.5 0a1.5 1.5 0 1 0 3 0a1.5 1.5 0 1 0-3 0M641.2 345.4m-1.5 0a1.5 1.5 0 1 0 3 0a1.5 1.5 0 1 0-3 0M644.8 345.4m-1.5 0a1.5 1.5 0 1 0 3 0a1.5 1.5 0 1 0-3 0M648.2 345.4m-1.5 0a1.5 1.5 0 1 0 3 0a1.5 1.5 0 1 0-3 0M651.8 345.4m-1.5 0a1.5 1.5 0 1 0 3 0a1.5 1.5 0 1 0-3 0M655.2 345.4m-1.5 0a1.5 1.5 0 1 0 3 0a1.5 1.5 0 1 0-3 0M658.8 345.4m-1.5 0a1.5 1.5 0 1 0 3 0a1.5 1.5 0 1 0-3 0M662.2 345.4m-1.5 0a1.5 1.5 0 1 0 3 0a1.5 1.5 0 1 0-3 0M665.8 345.4m-1.5 0a1.5 1.5 0 1 0 3 0a1.5 1.5 0 1 0-3 0M669.2 345.4m-1.5 0a1.5 1.5 0 1 0 3 0a1.5 1.5 0 1 0-3 0M672.8 345.4m-1.5 0a1.5 1.5 0 1 0 3 0a1.5 1.5 0 1 0-3 0M676.2 345.4m-1.5 0a1.5 1.5 0 1 0 3 0a1.5 1.5 0 1 0-3 0M489.0 348.4m-1.5 0a1.5 1.5 0 1 0 3 0a1.5 1.5 0 1 0-3 0M492.5 348.4m-1.5 0a1.5 1.5 0 1 0 3 0a1.5 1.5 0 1 0-3 0M496.0 348.4m-1.5 0a1.5 1.5 0 1 0 3 0a1.5 1.5 0 1 0-3 0M499.5 348.4m-1.5 0a1.5 1.5 0 1 0 3 0a1.5 1.5 0 1 0-3 0M503.0 348.4m-1.5 0a1.5 1.5 0 1 0 3 0a1.5 1.5 0 1 0-3 0M506.5 348.4m-1.5 0a1.5 1.5 0 1 0 3 0a1.5 1.5 0 1 0-3 0M510.0 348.4m-1.5 0a1.5 1.5 0 1 0 3 0a1.5 1.5 0 1 0-3 0M513.5 348.4m-1.5 0a1.5 1.5 0 1 0 3 0a1.5 1.5 0 1 0-3 0M517.0 348.4m-1.5 0a1.5 1.5 0 1 0 3 0a1.5 1.5 0 1 0-3 0M520.5 348.4m-1.5 0a1.5 1.5 0 1 0 3 0a1.5 1.5 0 1 0-3 0M524.0 348.4m-1.5 0a1.5 1.5 0 1 0 3 0a1.5 1.5 0 1 0-3 0M639.5 348.4m-1.5 0a1.5 1.5 0 1 0 3 0a1.5 1.5 0 1 0-3 0M643.0 348.4m-1.5 0a1.5 1.5 0 1 0 3 0a1.5 1.5 0 1 0-3 0M646.5 348.4m-1.5 0a1.5 1.5 0 1 0 3 0a1.5 1.5 0 1 0-3 0M650.0 348.4m-1.5 0a1.5 1.5 0 1 0 3 0a1.5 1.5 0 1 0-3 0M653.5 348.4m-1.5 0a1.5 1.5 0 1 0 3 0a1.5 1.5 0 1 0-3 0M657.0 348.4m-1.5 0a1.5 1.5 0 1 0 3 0a1.5 1.5 0 1 0-3 0M660.5 348.4m-1.5 0a1.5 1.5 0 1 0 3 0a1.5 1.5 0 1 0-3 0M664.0 348.4m-1.5 0a1.5 1.5 0 1 0 3 0a1.5 1.5 0 1 0-3 0M667.5 348.4m-1.5 0a1.5 1.5 0 1 0 3 0a1.5 1.5 0 1 0-3 0M671.0 348.4m-1.5 0a1.5 1.5 0 1 0 3 0a1.5 1.5 0 1 0-3 0M674.5 348.4m-1.5 0a1.5 1.5 0 1 0 3 0a1.5 1.5 0 1 0-3 0M490.8 351.4m-1.5 0a1.5 1.5 0 1 0 3 0a1.5 1.5 0 1 0-3 0M494.2 351.4m-1.5 0a1.5 1.5 0 1 0 3 0a1.5 1.5 0 1 0-3 0M497.8 351.4m-1.5 0a1.5 1.5 0 1 0 3 0a1.5 1.5 0 1 0-3 0M501.2 351.4m-1.5 0a1.5 1.5 0 1 0 3 0a1.5 1.5 0 1 0-3 0M504.8 351.4m-1.5 0a1.5 1.5 0 1 0 3 0a1.5 1.5 0 1 0-3 0M508.2 351.4m-1.5 0a1.5 1.5 0 1 0 3 0a1.5 1.5 0 1 0-3 0M511.8 351.4m-1.5 0a1.5 1.5 0 1 0 3 0a1.5 1.5 0 1 0-3 0M515.2 351.4m-1.5 0a1.5 1.5 0 1 0 3 0a1.5 1.5 0 1 0-3 0M518.8 351.4m-1.5 0a1.5 1.5 0 1 0 3 0a1.5 1.5 0 1 0-3 0M522.2 351.4m-1.5 0a1.5 1.5 0 1 0 3 0a1.5 1.5 0 1 0-3 0M525.8 351.4m-1.5 0a1.5 1.5 0 1 0 3 0a1.5 1.5 0 1 0-3 0M637.8 351.4m-1.5 0a1.5 1.5 0 1 0 3 0a1.5 1.5 0 1 0-3 0M641.2 351.4m-1.5 0a1.5 1.5 0 1 0 3 0a1.5 1.5 0 1 0-3 0M644.8 351.4m-1.5 0a1.5 1.5 0 1 0 3 0a1.5 1.5 0 1 0-3 0M648.2 351.4m-1.5 0a1.5 1.5 0 1 0 3 0a1.5 1.5 0 1 0-3 0M651.8 351.4m-1.5 0a1.5 1.5 0 1 0 3 0a1.5 1.5 0 1 0-3 0M655.2 351.4m-1.5 0a1.5 1.5 0 1 0 3 0a1.5 1.5 0 1 0-3 0M658.8 351.4m-1.5 0a1.5 1.5 0 1 0 3 0a1.5 1.5 0 1 0-3 0M662.2 351.4m-1.5 0a1.5 1.5 0 1 0 3 0a1.5 1.5 0 1 0-3 0M665.8 351.4m-1.5 0a1.5 1.5 0 1 0 3 0a1.5 1.5 0 1 0-3 0M669.2 351.4m-1.5 0a1.5 1.5 0 1 0 3 0a1.5 1.5 0 1 0-3 0M672.8 351.4m-1.5 0a1.5 1.5 0 1 0 3 0a1.5 1.5 0 1 0-3 0M492.5 354.5m-1.5 0a1.5 1.5 0 1 0 3 0a1.5 1.5 0 1 0-3 0M496.0 354.5m-1.5 0a1.5 1.5 0 1 0 3 0a1.5 1.5 0 1 0-3 0M499.5 354.5m-1.5 0a1.5 1.5 0 1 0 3 0a1.5 1.5 0 1 0-3 0M503.0 354.5m-1.5 0a1.5 1.5 0 1 0 3 0a1.5 1.5 0 1 0-3 0M506.5 354.5m-1.5 0a1.5 1.5 0 1 0 3 0a1.5 1.5 0 1 0-3 0M510.0 354.5m-1.5 0a1.5 1.5 0 1 0 3 0a1.5 1.5 0 1 0-3 0M513.5 354.5m-1.5 0a1.5 1.5 0 1 0 3 0a1.5 1.5 0 1 0-3 0M517.0 354.5m-1.5 0a1.5 1.5 0 1 0 3 0a1.5 1.5 0 1 0-3 0M520.5 354.5m-1.5 0a1.5 1.5 0 1 0 3 0a1.5 1.5 0 1 0-3 0M524.0 354.5m-1.5 0a1.5 1.5 0 1 0 3 0a1.5 1.5 0 1 0-3 0M527.5 354.5m-1.5 0a1.5 1.5 0 1 0 3 0a1.5 1.5 0 1 0-3 0M636.0 354.5m-1.5 0a1.5 1.5 0 1 0 3 0a1.5 1.5 0 1 0-3 0M639.5 354.5m-1.5 0a1.5 1.5 0 1 0 3 0a1.5 1.5 0 1 0-3 0M643.0 354.5m-1.5 0a1.5 1.5 0 1 0 3 0a1.5 1.5 0 1 0-3 0M646.5 354.5m-1.5 0a1.5 1.5 0 1 0 3 0a1.5 1.5 0 1 0-3 0M650.0 354.5m-1.5 0a1.5 1.5 0 1 0 3 0a1.5 1.5 0 1 0-3 0M653.5 354.5m-1.5 0a1.5 1.5 0 1 0 3 0a1.5 1.5 0 1 0-3 0M657.0 354.5m-1.5 0a1.5 1.5 0 1 0 3 0a1.5 1.5 0 1 0-3 0M660.5 354.5m-1.5 0a1.5 1.5 0 1 0 3 0a1.5 1.5 0 1 0-3 0M664.0 354.5m-1.5 0a1.5 1.5 0 1 0 3 0a1.5 1.5 0 1 0-3 0M667.5 354.5m-1.5 0a1.5 1.5 0 1 0 3 0a1.5 1.5 0 1 0-3 0M671.0 354.5m-1.5 0a1.5 1.5 0 1 0 3 0a1.5 1.5 0 1 0-3 0M494.2 357.5m-1.5 0a1.5 1.5 0 1 0 3 0a1.5 1.5 0 1 0-3 0M497.8 357.5m-1.5 0a1.5 1.5 0 1 0 3 0a1.5 1.5 0 1 0-3 0M501.2 357.5m-1.5 0a1.5 1.5 0 1 0 3 0a1.5 1.5 0 1 0-3 0M504.8 357.5m-1.5 0a1.5 1.5 0 1 0 3 0a1.5 1.5 0 1 0-3 0M508.2 357.5m-1.5 0a1.5 1.5 0 1 0 3 0a1.5 1.5 0 1 0-3 0M511.8 357.5m-1.5 0a1.5 1.5 0 1 0 3 0a1.5 1.5 0 1 0-3 0M515.2 357.5m-1.5 0a1.5 1.5 0 1 0 3 0a1.5 1.5 0 1 0-3 0M518.8 357.5m-1.5 0a1.5 1.5 0 1 0 3 0a1.5 1.5 0 1 0-3 0M522.2 357.5m-1.5 0a1.5 1.5 0 1 0 3 0a1.5 1.5 0 1 0-3 0M525.8 357.5m-1.5 0a1.5 1.5 0 1 0 3 0a1.5 1.5 0 1 0-3 0M529.2 357.5m-1.5 0a1.5 1.5 0 1 0 3 0a1.5 1.5 0 1 0-3 0M634.2 357.5m-1.5 0a1.5 1.5 0 1 0 3 0a1.5 1.5 0 1 0-3 0M637.8 357.5m-1.5 0a1.5 1.5 0 1 0 3 0a1.5 1.5 0 1 0-3 0M641.2 357.5m-1.5 0a1.5 1.5 0 1 0 3 0a1.5 1.5 0 1 0-3 0M644.8 357.5m-1.5 0a1.5 1.5 0 1 0 3 0a1.5 1.5 0 1 0-3 0M648.2 357.5m-1.5 0a1.5 1.5 0 1 0 3 0a1.5 1.5 0 1 0-3 0M651.8 357.5m-1.5 0a1.5 1.5 0 1 0 3 0a1.5 1.5 0 1 0-3 0M655.2 357.5m-1.5 0a1.5 1.5 0 1 0 3 0a1.5 1.5 0 1 0-3 0M658.8 357.5m-1.5 0a1.5 1.5 0 1 0 3 0a1.5 1.5 0 1 0-3 0M662.2 357.5m-1.5 0a1.5 1.5 0 1 0 3 0a1.5 1.5 0 1 0-3 0M665.8 357.5m-1.5 0a1.5 1.5 0 1 0 3 0a1.5 1.5 0 1 0-3 0M669.2 357.5m-1.5 0a1.5 1.5 0 1 0 3 0a1.5 1.5 0 1 0-3 0M496.0 360.5m-1.5 0a1.5 1.5 0 1 0 3 0a1.5 1.5 0 1 0-3 0M499.5 360.5m-1.5 0a1.5 1.5 0 1 0 3 0a1.5 1.5 0 1 0-3 0M503.0 360.5m-1.5 0a1.5 1.5 0 1 0 3 0a1.5 1.5 0 1 0-3 0M506.5 360.5m-1.5 0a1.5 1.5 0 1 0 3 0a1.5 1.5 0 1 0-3 0M510.0 360.5m-1.5 0a1.5 1.5 0 1 0 3 0a1.5 1.5 0 1 0-3 0M513.5 360.5m-1.5 0a1.5 1.5 0 1 0 3 0a1.5 1.5 0 1 0-3 0M517.0 360.5m-1.5 0a1.5 1.5 0 1 0 3 0a1.5 1.5 0 1 0-3 0M520.5 360.5m-1.5 0a1.5 1.5 0 1 0 3 0a1.5 1.5 0 1 0-3 0M524.0 360.5m-1.5 0a1.5 1.5 0 1 0 3 0a1.5 1.5 0 1 0-3 0M527.5 360.5m-1.5 0a1.5 1.5 0 1 0 3 0a1.5 1.5 0 1 0-3 0M531.0 360.5m-1.5 0a1.5 1.5 0 1 0 3 0a1.5 1.5 0 1 0-3 0M632.5 360.5m-1.5 0a1.5 1.5 0 1 0 3 0a1.5 1.5 0 1 0-3 0M636.0 360.5m-1.5 0a1.5 1.5 0 1 0 3 0a1.5 1.5 0 1 0-3 0M639.5 360.5m-1.5 0a1.5 1.5 0 1 0 3 0a1.5 1.5 0 1 0-3 0M643.0 360.5m-1.5 0a1.5 1.5 0 1 0 3 0a1.5 1.5 0 1 0-3 0M646.5 360.5m-1.5 0a1.5 1.5 0 1 0 3 0a1.5 1.5 0 1 0-3 0M650.0 360.5m-1.5 0a1.5 1.5 0 1 0 3 0a1.5 1.5 0 1 0-3 0M653.5 360.5m-1.5 0a1.5 1.5 0 1 0 3 0a1.5 1.5 0 1 0-3 0M657.0 360.5m-1.5 0a1.5 1.5 0 1 0 3 0a1.5 1.5 0 1 0-3 0M660.5 360.5m-1.5 0a1.5 1.5 0 1 0 3 0a1.5 1.5 0 1 0-3 0M664.0 360.5m-1.5 0a1.5 1.5 0 1 0 3 0a1.5 1.5 0 1 0-3 0M667.5 360.5m-1.5 0a1.5 1.5 0 1 0 3 0a1.5 1.5 0 1 0-3 0M497.8 363.6m-1.5 0a1.5 1.5 0 1 0 3 0a1.5 1.5 0 1 0-3 0M501.2 363.6m-1.5 0a1.5 1.5 0 1 0 3 0a1.5 1.5 0 1 0-3 0M504.8 363.6m-1.5 0a1.5 1.5 0 1 0 3 0a1.5 1.5 0 1 0-3 0M508.2 363.6m-1.5 0a1.5 1.5 0 1 0 3 0a1.5 1.5 0 1 0-3 0M511.8 363.6m-1.5 0a1.5 1.5 0 1 0 3 0a1.5 1.5 0 1 0-3 0M515.2 363.6m-1.5 0a1.5 1.5 0 1 0 3 0a1.5 1.5 0 1 0-3 0M518.8 363.6m-1.5 0a1.5 1.5 0 1 0 3 0a1.5 1.5 0 1 0-3 0M522.2 363.6m-1.5 0a1.5 1.5 0 1 0 3 0a1.5 1.5 0 1 0-3 0M525.8 363.6m-1.5 0a1.5 1.5 0 1 0 3 0a1.5 1.5 0 1 0-3 0M529.2 363.6m-1.5 0a1.5 1.5 0 1 0 3 0a1.5 1.5 0 1 0-3 0M532.8 363.6m-1.5 0a1.5 1.5 0 1 0 3 0a1.5 1.5 0 1 0-3 0M630.8 363.6m-1.5 0a1.5 1.5 0 1 0 3 0a1.5 1.5 0 1 0-3 0M634.2 363.6m-1.5 0a1.5 1.5 0 1 0 3 0a1.5 1.5 0 1 0-3 0M637.8 363.6m-1.5 0a1.5 1.5 0 1 0 3 0a1.5 1.5 0 1 0-3 0M641.2 363.6m-1.5 0a1.5 1.5 0 1 0 3 0a1.5 1.5 0 1 0-3 0M644.8 363.6m-1.5 0a1.5 1.5 0 1 0 3 0a1.5 1.5 0 1 0-3 0M648.2 363.6m-1.5 0a1.5 1.5 0 1 0 3 0a1.5 1.5 0 1 0-3 0M651.8 363.6m-1.5 0a1.5 1.5 0 1 0 3 0a1.5 1.5 0 1 0-3 0M655.2 363.6m-1.5 0a1.5 1.5 0 1 0 3 0a1.5 1.5 0 1 0-3 0M658.8 363.6m-1.5 0a1.5 1.5 0 1 0 3 0a1.5 1.5 0 1 0-3 0M662.2 363.6m-1.5 0a1.5 1.5 0 1 0 3 0a1.5 1.5 0 1 0-3 0M665.8 363.6m-1.5 0a1.5 1.5 0 1 0 3 0a1.5 1.5 0 1 0-3 0M499.5 366.6m-1.5 0a1.5 1.5 0 1 0 3 0a1.5 1.5 0 1 0-3 0M503.0 366.6m-1.5 0a1.5 1.5 0 1 0 3 0a1.5 1.5 0 1 0-3 0M506.5 366.6m-1.5 0a1.5 1.5 0 1 0 3 0a1.5 1.5 0 1 0-3 0M510.0 366.6m-1.5 0a1.5 1.5 0 1 0 3 0a1.5 1.5 0 1 0-3 0M513.5 366.6m-1.5 0a1.5 1.5 0 1 0 3 0a1.5 1.5 0 1 0-3 0M517.0 366.6m-1.5 0a1.5 1.5 0 1 0 3 0a1.5 1.5 0 1 0-3 0M520.5 366.6m-1.5 0a1.5 1.5 0 1 0 3 0a1.5 1.5 0 1 0-3 0M524.0 366.6m-1.5 0a1.5 1.5 0 1 0 3 0a1.5 1.5 0 1 0-3 0M527.5 366.6m-1.5 0a1.5 1.5 0 1 0 3 0a1.5 1.5 0 1 0-3 0M531.0 366.6m-1.5 0a1.5 1.5 0 1 0 3 0a1.5 1.5 0 1 0-3 0M534.5 366.6m-1.5 0a1.5 1.5 0 1 0 3 0a1.5 1.5 0 1 0-3 0M629.0 366.6m-1.5 0a1.5 1.5 0 1 0 3 0a1.5 1.5 0 1 0-3 0M632.5 366.6m-1.5 0a1.5 1.5 0 1 0 3 0a1.5 1.5 0 1 0-3 0M636.0 366.6m-1.5 0a1.5 1.5 0 1 0 3 0a1.5 1.5 0 1 0-3 0M639.5 366.6m-1.5 0a1.5 1.5 0 1 0 3 0a1.5 1.5 0 1 0-3 0M643.0 366.6m-1.5 0a1.5 1.5 0 1 0 3 0a1.5 1.5 0 1 0-3 0M646.5 366.6m-1.5 0a1.5 1.5 0 1 0 3 0a1.5 1.5 0 1 0-3 0M650.0 366.6m-1.5 0a1.5 1.5 0 1 0 3 0a1.5 1.5 0 1 0-3 0M653.5 366.6m-1.5 0a1.5 1.5 0 1 0 3 0a1.5 1.5 0 1 0-3 0M657.0 366.6m-1.5 0a1.5 1.5 0 1 0 3 0a1.5 1.5 0 1 0-3 0M660.5 366.6m-1.5 0a1.5 1.5 0 1 0 3 0a1.5 1.5 0 1 0-3 0M664.0 366.6m-1.5 0a1.5 1.5 0 1 0 3 0a1.5 1.5 0 1 0-3 0M501.2 369.6m-1.5 0a1.5 1.5 0 1 0 3 0a1.5 1.5 0 1 0-3 0M504.8 369.6m-1.5 0a1.5 1.5 0 1 0 3 0a1.5 1.5 0 1 0-3 0M508.2 369.6m-1.5 0a1.5 1.5 0 1 0 3 0a1.5 1.5 0 1 0-3 0M511.8 369.6m-1.5 0a1.5 1.5 0 1 0 3 0a1.5 1.5 0 1 0-3 0M515.2 369.6m-1.5 0a1.5 1.5 0 1 0 3 0a1.5 1.5 0 1 0-3 0M518.8 369.6m-1.5 0a1.5 1.5 0 1 0 3 0a1.5 1.5 0 1 0-3 0M522.2 369.6m-1.5 0a1.5 1.5 0 1 0 3 0a1.5 1.5 0 1 0-3 0M525.8 369.6m-1.5 0a1.5 1.5 0 1 0 3 0a1.5 1.5 0 1 0-3 0M529.2 369.6m-1.5 0a1.5 1.5 0 1 0 3 0a1.5 1.5 0 1 0-3 0M532.8 369.6m-1.5 0a1.5 1.5 0 1 0 3 0a1.5 1.5 0 1 0-3 0M627.2 369.6m-1.5 0a1.5 1.5 0 1 0 3 0a1.5 1.5 0 1 0-3 0M630.8 369.6m-1.5 0a1.5 1.5 0 1 0 3 0a1.5 1.5 0 1 0-3 0M634.2 369.6m-1.5 0a1.5 1.5 0 1 0 3 0a1.5 1.5 0 1 0-3 0M637.8 369.6m-1.5 0a1.5 1.5 0 1 0 3 0a1.5 1.5 0 1 0-3 0M641.2 369.6m-1.5 0a1.5 1.5 0 1 0 3 0a1.5 1.5 0 1 0-3 0M644.8 369.6m-1.5 0a1.5 1.5 0 1 0 3 0a1.5 1.5 0 1 0-3 0M648.2 369.6m-1.5 0a1.5 1.5 0 1 0 3 0a1.5 1.5 0 1 0-3 0M651.8 369.6m-1.5 0a1.5 1.5 0 1 0 3 0a1.5 1.5 0 1 0-3 0M655.2 369.6m-1.5 0a1.5 1.5 0 1 0 3 0a1.5 1.5 0 1 0-3 0M658.8 369.6m-1.5 0a1.5 1.5 0 1 0 3 0a1.5 1.5 0 1 0-3 0M662.2 369.6m-1.5 0a1.5 1.5 0 1 0 3 0a1.5 1.5 0 1 0-3 0M503.0 372.7m-1.5 0a1.5 1.5 0 1 0 3 0a1.5 1.5 0 1 0-3 0M506.5 372.7m-1.5 0a1.5 1.5 0 1 0 3 0a1.5 1.5 0 1 0-3 0M510.0 372.7m-1.5 0a1.5 1.5 0 1 0 3 0a1.5 1.5 0 1 0-3 0M513.5 372.7m-1.5 0a1.5 1.5 0 1 0 3 0a1.5 1.5 0 1 0-3 0M517.0 372.7m-1.5 0a1.5 1.5 0 1 0 3 0a1.5 1.5 0 1 0-3 0M520.5 372.7m-1.5 0a1.5 1.5 0 1 0 3 0a1.5 1.5 0 1 0-3 0M524.0 372.7m-1.5 0a1.5 1.5 0 1 0 3 0a1.5 1.5 0 1 0-3 0M527.5 372.7m-1.5 0a1.5 1.5 0 1 0 3 0a1.5 1.5 0 1 0-3 0M531.0 372.7m-1.5 0a1.5 1.5 0 1 0 3 0a1.5 1.5 0 1 0-3 0M534.5 372.7m-1.5 0a1.5 1.5 0 1 0 3 0a1.5 1.5 0 1 0-3 0M629.0 372.7m-1.5 0a1.5 1.5 0 1 0 3 0a1.5 1.5 0 1 0-3 0M632.5 372.7m-1.5 0a1.5 1.5 0 1 0 3 0a1.5 1.5 0 1 0-3 0M636.0 372.7m-1.5 0a1.5 1.5 0 1 0 3 0a1.5 1.5 0 1 0-3 0M639.5 372.7m-1.5 0a1.5 1.5 0 1 0 3 0a1.5 1.5 0 1 0-3 0M643.0 372.7m-1.5 0a1.5 1.5 0 1 0 3 0a1.5 1.5 0 1 0-3 0M646.5 372.7m-1.5 0a1.5 1.5 0 1 0 3 0a1.5 1.5 0 1 0-3 0M650.0 372.7m-1.5 0a1.5 1.5 0 1 0 3 0a1.5 1.5 0 1 0-3 0M653.5 372.7m-1.5 0a1.5 1.5 0 1 0 3 0a1.5 1.5 0 1 0-3 0M657.0 372.7m-1.5 0a1.5 1.5 0 1 0 3 0a1.5 1.5 0 1 0-3 0M660.5 372.7m-1.5 0a1.5 1.5 0 1 0 3 0a1.5 1.5 0 1 0-3 0M504.8 375.7m-1.5 0a1.5 1.5 0 1 0 3 0a1.5 1.5 0 1 0-3 0M508.2 375.7m-1.5 0a1.5 1.5 0 1 0 3 0a1.5 1.5 0 1 0-3 0M511.8 375.7m-1.5 0a1.5 1.5 0 1 0 3 0a1.5 1.5 0 1 0-3 0M515.2 375.7m-1.5 0a1.5 1.5 0 1 0 3 0a1.5 1.5 0 1 0-3 0M518.8 375.7m-1.5 0a1.5 1.5 0 1 0 3 0a1.5 1.5 0 1 0-3 0M522.2 375.7m-1.5 0a1.5 1.5 0 1 0 3 0a1.5 1.5 0 1 0-3 0M525.8 375.7m-1.5 0a1.5 1.5 0 1 0 3 0a1.5 1.5 0 1 0-3 0M529.2 375.7m-1.5 0a1.5 1.5 0 1 0 3 0a1.5 1.5 0 1 0-3 0M532.8 375.7m-1.5 0a1.5 1.5 0 1 0 3 0a1.5 1.5 0 1 0-3 0M536.2 375.7m-1.5 0a1.5 1.5 0 1 0 3 0a1.5 1.5 0 1 0-3 0M627.2 375.7m-1.5 0a1.5 1.5 0 1 0 3 0a1.5 1.5 0 1 0-3 0M630.8 375.7m-1.5 0a1.5 1.5 0 1 0 3 0a1.5 1.5 0 1 0-3 0M634.2 375.7m-1.5 0a1.5 1.5 0 1 0 3 0a1.5 1.5 0 1 0-3 0M637.8 375.7m-1.5 0a1.5 1.5 0 1 0 3 0a1.5 1.5 0 1 0-3 0M641.2 375.7m-1.5 0a1.5 1.5 0 1 0 3 0a1.5 1.5 0 1 0-3 0M644.8 375.7m-1.5 0a1.5 1.5 0 1 0 3 0a1.5 1.5 0 1 0-3 0M648.2 375.7m-1.5 0a1.5 1.5 0 1 0 3 0a1.5 1.5 0 1 0-3 0M651.8 375.7m-1.5 0a1.5 1.5 0 1 0 3 0a1.5 1.5 0 1 0-3 0M655.2 375.7m-1.5 0a1.5 1.5 0 1 0 3 0a1.5 1.5 0 1 0-3 0M658.8 375.7m-1.5 0a1.5 1.5 0 1 0 3 0a1.5 1.5 0 1 0-3 0M506.5 378.7m-1.5 0a1.5 1.5 0 1 0 3 0a1.5 1.5 0 1 0-3 0M510.0 378.7m-1.5 0a1.5 1.5 0 1 0 3 0a1.5 1.5 0 1 0-3 0M513.5 378.7m-1.5 0a1.5 1.5 0 1 0 3 0a1.5 1.5 0 1 0-3 0M517.0 378.7m-1.5 0a1.5 1.5 0 1 0 3 0a1.5 1.5 0 1 0-3 0M520.5 378.7m-1.5 0a1.5 1.5 0 1 0 3 0a1.5 1.5 0 1 0-3 0M524.0 378.7m-1.5 0a1.5 1.5 0 1 0 3 0a1.5 1.5 0 1 0-3 0M527.5 378.7m-1.5 0a1.5 1.5 0 1 0 3 0a1.5 1.5 0 1 0-3 0M531.0 378.7m-1.5 0a1.5 1.5 0 1 0 3 0a1.5 1.5 0 1 0-3 0M534.5 378.7m-1.5 0a1.5 1.5 0 1 0 3 0a1.5 1.5 0 1 0-3 0M538.0 378.7m-1.5 0a1.5 1.5 0 1 0 3 0a1.5 1.5 0 1 0-3 0M625.5 378.7m-1.5 0a1.5 1.5 0 1 0 3 0a1.5 1.5 0 1 0-3 0M629.0 378.7m-1.5 0a1.5 1.5 0 1 0 3 0a1.5 1.5 0 1 0-3 0M632.5 378.7m-1.5 0a1.5 1.5 0 1 0 3 0a1.5 1.5 0 1 0-3 0M636.0 378.7m-1.5 0a1.5 1.5 0 1 0 3 0a1.5 1.5 0 1 0-3 0M639.5 378.7m-1.5 0a1.5 1.5 0 1 0 3 0a1.5 1.5 0 1 0-3 0M643.0 378.7m-1.5 0a1.5 1.5 0 1 0 3 0a1.5 1.5 0 1 0-3 0M646.5 378.7m-1.5 0a1.5 1.5 0 1 0 3 0a1.5 1.5 0 1 0-3 0M650.0 378.7m-1.5 0a1.5 1.5 0 1 0 3 0a1.5 1.5 0 1 0-3 0M653.5 378.7m-1.5 0a1.5 1.5 0 1 0 3 0a1.5 1.5 0 1 0-3 0M657.0 378.7m-1.5 0a1.5 1.5 0 1 0 3 0a1.5 1.5 0 1 0-3 0M660.5 378.7m-1.5 0a1.5 1.5 0 1 0 3 0a1.5 1.5 0 1 0-3 0M508.2 381.7m-1.5 0a1.5 1.5 0 1 0 3 0a1.5 1.5 0 1 0-3 0M511.8 381.7m-1.5 0a1.5 1.5 0 1 0 3 0a1.5 1.5 0 1 0-3 0M515.2 381.7m-1.5 0a1.5 1.5 0 1 0 3 0a1.5 1.5 0 1 0-3 0M518.8 381.7m-1.5 0a1.5 1.5 0 1 0 3 0a1.5 1.5 0 1 0-3 0M522.2 381.7m-1.5 0a1.5 1.5 0 1 0 3 0a1.5 1.5 0 1 0-3 0M525.8 381.7m-1.5 0a1.5 1.5 0 1 0 3 0a1.5 1.5 0 1 0-3 0M529.2 381.7m-1.5 0a1.5 1.5 0 1 0 3 0a1.5 1.5 0 1 0-3 0M532.8 381.7m-1.5 0a1.5 1.5 0 1 0 3 0a1.5 1.5 0 1 0-3 0M536.2 381.7m-1.5 0a1.5 1.5 0 1 0 3 0a1.5 1.5 0 1 0-3 0M539.8 381.7m-1.5 0a1.5 1.5 0 1 0 3 0a1.5 1.5 0 1 0-3 0M623.8 381.7m-1.5 0a1.5 1.5 0 1 0 3 0a1.5 1.5 0 1 0-3 0M627.2 381.7m-1.5 0a1.5 1.5 0 1 0 3 0a1.5 1.5 0 1 0-3 0M630.8 381.7m-1.5 0a1.5 1.5 0 1 0 3 0a1.5 1.5 0 1 0-3 0M634.2 381.7m-1.5 0a1.5 1.5 0 1 0 3 0a1.5 1.5 0 1 0-3 0M637.8 381.7m-1.5 0a1.5 1.5 0 1 0 3 0a1.5 1.5 0 1 0-3 0M641.2 381.7m-1.5 0a1.5 1.5 0 1 0 3 0a1.5 1.5 0 1 0-3 0M644.8 381.7m-1.5 0a1.5 1.5 0 1 0 3 0a1.5 1.5 0 1 0-3 0M648.2 381.7m-1.5 0a1.5 1.5 0 1 0 3 0a1.5 1.5 0 1 0-3 0M651.8 381.7m-1.5 0a1.5 1.5 0 1 0 3 0a1.5 1.5 0 1 0-3 0M655.2 381.7m-1.5 0a1.5 1.5 0 1 0 3 0a1.5 1.5 0 1 0-3 0M658.8 381.7m-1.5 0a1.5 1.5 0 1 0 3 0a1.5 1.5 0 1 0-3 0M510.0 384.8m-1.5 0a1.5 1.5 0 1 0 3 0a1.5 1.5 0 1 0-3 0M513.5 384.8m-1.5 0a1.5 1.5 0 1 0 3 0a1.5 1.5 0 1 0-3 0M517.0 384.8m-1.5 0a1.5 1.5 0 1 0 3 0a1.5 1.5 0 1 0-3 0M520.5 384.8m-1.5 0a1.5 1.5 0 1 0 3 0a1.5 1.5 0 1 0-3 0M524.0 384.8m-1.5 0a1.5 1.5 0 1 0 3 0a1.5 1.5 0 1 0-3 0M527.5 384.8m-1.5 0a1.5 1.5 0 1 0 3 0a1.5 1.5 0 1 0-3 0M531.0 384.8m-1.5 0a1.5 1.5 0 1 0 3 0a1.5 1.5 0 1 0-3 0M534.5 384.8m-1.5 0a1.5 1.5 0 1 0 3 0a1.5 1.5 0 1 0-3 0M538.0 384.8m-1.5 0a1.5 1.5 0 1 0 3 0a1.5 1.5 0 1 0-3 0M541.5 384.8m-1.5 0a1.5 1.5 0 1 0 3 0a1.5 1.5 0 1 0-3 0M622.0 384.8m-1.5 0a1.5 1.5 0 1 0 3 0a1.5 1.5 0 1 0-3 0M625.5 384.8m-1.5 0a1.5 1.5 0 1 0 3 0a1.5 1.5 0 1 0-3 0M629.0 384.8m-1.5 0a1.5 1.5 0 1 0 3 0a1.5 1.5 0 1 0-3 0M632.5 384.8m-1.5 0a1.5 1.5 0 1 0 3 0a1.5 1.5 0 1 0-3 0M636.0 384.8m-1.5 0a1.5 1.5 0 1 0 3 0a1.5 1.5 0 1 0-3 0M639.5 384.8m-1.5 0a1.5 1.5 0 1 0 3 0a1.5 1.5 0 1 0-3 0M643.0 384.8m-1.5 0a1.5 1.5 0 1 0 3 0a1.5 1.5 0 1 0-3 0M646.5 384.8m-1.5 0a1.5 1.5 0 1 0 3 0a1.5 1.5 0 1 0-3 0M650.0 384.8m-1.5 0a1.5 1.5 0 1 0 3 0a1.5 1.5 0 1 0-3 0M653.5 384.8m-1.5 0a1.5 1.5 0 1 0 3 0a1.5 1.5 0 1 0-3 0M657.0 384.8m-1.5 0a1.5 1.5 0 1 0 3 0a1.5 1.5 0 1 0-3 0M511.8 387.8m-1.5 0a1.5 1.5 0 1 0 3 0a1.5 1.5 0 1 0-3 0M515.2 387.8m-1.5 0a1.5 1.5 0 1 0 3 0a1.5 1.5 0 1 0-3 0M518.8 387.8m-1.5 0a1.5 1.5 0 1 0 3 0a1.5 1.5 0 1 0-3 0M522.2 387.8m-1.5 0a1.5 1.5 0 1 0 3 0a1.5 1.5 0 1 0-3 0M525.8 387.8m-1.5 0a1.5 1.5 0 1 0 3 0a1.5 1.5 0 1 0-3 0M529.2 387.8m-1.5 0a1.5 1.5 0 1 0 3 0a1.5 1.5 0 1 0-3 0M532.8 387.8m-1.5 0a1.5 1.5 0 1 0 3 0a1.5 1.5 0 1 0-3 0M536.2 387.8m-1.5 0a1.5 1.5 0 1 0 3 0a1.5 1.5 0 1 0-3 0M539.8 387.8m-1.5 0a1.5 1.5 0 1 0 3 0a1.5 1.5 0 1 0-3 0M543.2 387.8m-1.5 0a1.5 1.5 0 1 0 3 0a1.5 1.5 0 1 0-3 0M620.2 387.8m-1.5 0a1.5 1.5 0 1 0 3 0a1.5 1.5 0 1 0-3 0M623.8 387.8m-1.5 0a1.5 1.5 0 1 0 3 0a1.5 1.5 0 1 0-3 0M627.2 387.8m-1.5 0a1.5 1.5 0 1 0 3 0a1.5 1.5 0 1 0-3 0M630.8 387.8m-1.5 0a1.5 1.5 0 1 0 3 0a1.5 1.5 0 1 0-3 0M634.2 387.8m-1.5 0a1.5 1.5 0 1 0 3 0a1.5 1.5 0 1 0-3 0M637.8 387.8m-1.5 0a1.5 1.5 0 1 0 3 0a1.5 1.5 0 1 0-3 0M641.2 387.8m-1.5 0a1.5 1.5 0 1 0 3 0a1.5 1.5 0 1 0-3 0M644.8 387.8m-1.5 0a1.5 1.5 0 1 0 3 0a1.5 1.5 0 1 0-3 0M648.2 387.8m-1.5 0a1.5 1.5 0 1 0 3 0a1.5 1.5 0 1 0-3 0M651.8 387.8m-1.5 0a1.5 1.5 0 1 0 3 0a1.5 1.5 0 1 0-3 0M655.2 387.8m-1.5 0a1.5 1.5 0 1 0 3 0a1.5 1.5 0 1 0-3 0M513.5 390.8m-1.5 0a1.5 1.5 0 1 0 3 0a1.5 1.5 0 1 0-3 0M517.0 390.8m-1.5 0a1.5 1.5 0 1 0 3 0a1.5 1.5 0 1 0-3 0M520.5 390.8m-1.5 0a1.5 1.5 0 1 0 3 0a1.5 1.5 0 1 0-3 0M524.0 390.8m-1.5 0a1.5 1.5 0 1 0 3 0a1.5 1.5 0 1 0-3 0M527.5 390.8m-1.5 0a1.5 1.5 0 1 0 3 0a1.5 1.5 0 1 0-3 0M531.0 390.8m-1.5 0a1.5 1.5 0 1 0 3 0a1.5 1.5 0 1 0-3 0M534.5 390.8m-1.5 0a1.5 1.5 0 1 0 3 0a1.5 1.5 0 1 0-3 0M538.0 390.8m-1.5 0a1.5 1.5 0 1 0 3 0a1.5 1.5 0 1 0-3 0M541.5 390.8m-1.5 0a1.5 1.5 0 1 0 3 0a1.5 1.5 0 1 0-3 0M545.0 390.8m-1.5 0a1.5 1.5 0 1 0 3 0a1.5 1.5 0 1 0-3 0M618.5 390.8m-1.5 0a1.5 1.5 0 1 0 3 0a1.5 1.5 0 1 0-3 0M622.0 390.8m-1.5 0a1.5 1.5 0 1 0 3 0a1.5 1.5 0 1 0-3 0M625.5 390.8m-1.5 0a1.5 1.5 0 1 0 3 0a1.5 1.5 0 1 0-3 0M629.0 390.8m-1.5 0a1.5 1.5 0 1 0 3 0a1.5 1.5 0 1 0-3 0M632.5 390.8m-1.5 0a1.5 1.5 0 1 0 3 0a1.5 1.5 0 1 0-3 0M636.0 390.8m-1.5 0a1.5 1.5 0 1 0 3 0a1.5 1.5 0 1 0-3 0M639.5 390.8m-1.5 0a1.5 1.5 0 1 0 3 0a1.5 1.5 0 1 0-3 0M643.0 390.8m-1.5 0a1.5 1.5 0 1 0 3 0a1.5 1.5 0 1 0-3 0M646.5 390.8m-1.5 0a1.5 1.5 0 1 0 3 0a1.5 1.5 0 1 0-3 0M650.0 390.8m-1.5 0a1.5 1.5 0 1 0 3 0a1.5 1.5 0 1 0-3 0M653.5 390.8m-1.5 0a1.5 1.5 0 1 0 3 0a1.5 1.5 0 1 0-3 0M511.8 393.9m-1.5 0a1.5 1.5 0 1 0 3 0a1.5 1.5 0 1 0-3 0M515.2 393.9m-1.5 0a1.5 1.5 0 1 0 3 0a1.5 1.5 0 1 0-3 0M518.8 393.9m-1.5 0a1.5 1.5 0 1 0 3 0a1.5 1.5 0 1 0-3 0M522.2 393.9m-1.5 0a1.5 1.5 0 1 0 3 0a1.5 1.5 0 1 0-3 0M525.8 393.9m-1.5 0a1.5 1.5 0 1 0 3 0a1.5 1.5 0 1 0-3 0M529.2 393.9m-1.5 0a1.5 1.5 0 1 0 3 0a1.5 1.5 0 1 0-3 0M532.8 393.9m-1.5 0a1.5 1.5 0 1 0 3 0a1.5 1.5 0 1 0-3 0M536.2 393.9m-1.5 0a1.5 1.5 0 1 0 3 0a1.5 1.5 0 1 0-3 0M539.8 393.9m-1.5 0a1.5 1.5 0 1 0 3 0a1.5 1.5 0 1 0-3 0M543.2 393.9m-1.5 0a1.5 1.5 0 1 0 3 0a1.5 1.5 0 1 0-3 0M546.8 393.9m-1.5 0a1.5 1.5 0 1 0 3 0a1.5 1.5 0 1 0-3 0M616.8 393.9m-1.5 0a1.5 1.5 0 1 0 3 0a1.5 1.5 0 1 0-3 0M620.2 393.9m-1.5 0a1.5 1.5 0 1 0 3 0a1.5 1.5 0 1 0-3 0M623.8 393.9m-1.5 0a1.5 1.5 0 1 0 3 0a1.5 1.5 0 1 0-3 0M627.2 393.9m-1.5 0a1.5 1.5 0 1 0 3 0a1.5 1.5 0 1 0-3 0M630.8 393.9m-1.5 0a1.5 1.5 0 1 0 3 0a1.5 1.5 0 1 0-3 0M634.2 393.9m-1.5 0a1.5 1.5 0 1 0 3 0a1.5 1.5 0 1 0-3 0M637.8 393.9m-1.5 0a1.5 1.5 0 1 0 3 0a1.5 1.5 0 1 0-3 0M641.2 393.9m-1.5 0a1.5 1.5 0 1 0 3 0a1.5 1.5 0 1 0-3 0M644.8 393.9m-1.5 0a1.5 1.5 0 1 0 3 0a1.5 1.5 0 1 0-3 0M648.2 393.9m-1.5 0a1.5 1.5 0 1 0 3 0a1.5 1.5 0 1 0-3 0M651.8 393.9m-1.5 0a1.5 1.5 0 1 0 3 0a1.5 1.5 0 1 0-3 0M513.5 396.9m-1.5 0a1.5 1.5 0 1 0 3 0a1.5 1.5 0 1 0-3 0M517.0 396.9m-1.5 0a1.5 1.5 0 1 0 3 0a1.5 1.5 0 1 0-3 0M520.5 396.9m-1.5 0a1.5 1.5 0 1 0 3 0a1.5 1.5 0 1 0-3 0M524.0 396.9m-1.5 0a1.5 1.5 0 1 0 3 0a1.5 1.5 0 1 0-3 0M527.5 396.9m-1.5 0a1.5 1.5 0 1 0 3 0a1.5 1.5 0 1 0-3 0M531.0 396.9m-1.5 0a1.5 1.5 0 1 0 3 0a1.5 1.5 0 1 0-3 0M534.5 396.9m-1.5 0a1.5 1.5 0 1 0 3 0a1.5 1.5 0 1 0-3 0M538.0 396.9m-1.5 0a1.5 1.5 0 1 0 3 0a1.5 1.5 0 1 0-3 0M541.5 396.9m-1.5 0a1.5 1.5 0 1 0 3 0a1.5 1.5 0 1 0-3 0M545.0 396.9m-1.5 0a1.5 1.5 0 1 0 3 0a1.5 1.5 0 1 0-3 0M548.5 396.9m-1.5 0a1.5 1.5 0 1 0 3 0a1.5 1.5 0 1 0-3 0M615.0 396.9m-1.5 0a1.5 1.5 0 1 0 3 0a1.5 1.5 0 1 0-3 0M618.5 396.9m-1.5 0a1.5 1.5 0 1 0 3 0a1.5 1.5 0 1 0-3 0M622.0 396.9m-1.5 0a1.5 1.5 0 1 0 3 0a1.5 1.5 0 1 0-3 0M625.5 396.9m-1.5 0a1.5 1.5 0 1 0 3 0a1.5 1.5 0 1 0-3 0M629.0 396.9m-1.5 0a1.5 1.5 0 1 0 3 0a1.5 1.5 0 1 0-3 0M632.5 396.9m-1.5 0a1.5 1.5 0 1 0 3 0a1.5 1.5 0 1 0-3 0M636.0 396.9m-1.5 0a1.5 1.5 0 1 0 3 0a1.5 1.5 0 1 0-3 0M639.5 396.9m-1.5 0a1.5 1.5 0 1 0 3 0a1.5 1.5 0 1 0-3 0M643.0 396.9m-1.5 0a1.5 1.5 0 1 0 3 0a1.5 1.5 0 1 0-3 0M646.5 396.9m-1.5 0a1.5 1.5 0 1 0 3 0a1.5 1.5 0 1 0-3 0M650.0 396.9m-1.5 0a1.5 1.5 0 1 0 3 0a1.5 1.5 0 1 0-3 0M515.2 399.9m-1.5 0a1.5 1.5 0 1 0 3 0a1.5 1.5 0 1 0-3 0M518.8 399.9m-1.5 0a1.5 1.5 0 1 0 3 0a1.5 1.5 0 1 0-3 0M522.2 399.9m-1.5 0a1.5 1.5 0 1 0 3 0a1.5 1.5 0 1 0-3 0M525.8 399.9m-1.5 0a1.5 1.5 0 1 0 3 0a1.5 1.5 0 1 0-3 0M529.2 399.9m-1.5 0a1.5 1.5 0 1 0 3 0a1.5 1.5 0 1 0-3 0M532.8 399.9m-1.5 0a1.5 1.5 0 1 0 3 0a1.5 1.5 0 1 0-3 0M536.2 399.9m-1.5 0a1.5 1.5 0 1 0 3 0a1.5 1.5 0 1 0-3 0M539.8 399.9m-1.5 0a1.5 1.5 0 1 0 3 0a1.5 1.5 0 1 0-3 0M543.2 399.9m-1.5 0a1.5 1.5 0 1 0 3 0a1.5 1.5 0 1 0-3 0M546.8 399.9m-1.5 0a1.5 1.5 0 1 0 3 0a1.5 1.5 0 1 0-3 0M550.2 399.9m-1.5 0a1.5 1.5 0 1 0 3 0a1.5 1.5 0 1 0-3 0M613.2 399.9m-1.5 0a1.5 1.5 0 1 0 3 0a1.5 1.5 0 1 0-3 0M616.8 399.9m-1.5 0a1.5 1.5 0 1 0 3 0a1.5 1.5 0 1 0-3 0M620.2 399.9m-1.5 0a1.5 1.5 0 1 0 3 0a1.5 1.5 0 1 0-3 0M623.8 399.9m-1.5 0a1.5 1.5 0 1 0 3 0a1.5 1.5 0 1 0-3 0M627.2 399.9m-1.5 0a1.5 1.5 0 1 0 3 0a1.5 1.5 0 1 0-3 0M630.8 399.9m-1.5 0a1.5 1.5 0 1 0 3 0a1.5 1.5 0 1 0-3 0M634.2 399.9m-1.5 0a1.5 1.5 0 1 0 3 0a1.5 1.5 0 1 0-3 0M637.8 399.9m-1.5 0a1.5 1.5 0 1 0 3 0a1.5 1.5 0 1 0-3 0M641.2 399.9m-1.5 0a1.5 1.5 0 1 0 3 0a1.5 1.5 0 1 0-3 0M644.8 399.9m-1.5 0a1.5 1.5 0 1 0 3 0a1.5 1.5 0 1 0-3 0M648.2 399.9m-1.5 0a1.5 1.5 0 1 0 3 0a1.5 1.5 0 1 0-3 0M517.0 403.0m-1.5 0a1.5 1.5 0 1 0 3 0a1.5 1.5 0 1 0-3 0M520.5 403.0m-1.5 0a1.5 1.5 0 1 0 3 0a1.5 1.5 0 1 0-3 0M524.0 403.0m-1.5 0a1.5 1.5 0 1 0 3 0a1.5 1.5 0 1 0-3 0M527.5 403.0m-1.5 0a1.5 1.5 0 1 0 3 0a1.5 1.5 0 1 0-3 0M531.0 403.0m-1.5 0a1.5 1.5 0 1 0 3 0a1.5 1.5 0 1 0-3 0M534.5 403.0m-1.5 0a1.5 1.5 0 1 0 3 0a1.5 1.5 0 1 0-3 0M538.0 403.0m-1.5 0a1.5 1.5 0 1 0 3 0a1.5 1.5 0 1 0-3 0M541.5 403.0m-1.5 0a1.5 1.5 0 1 0 3 0a1.5 1.5 0 1 0-3 0M545.0 403.0m-1.5 0a1.5 1.5 0 1 0 3 0a1.5 1.5 0 1 0-3 0M548.5 403.0m-1.5 0a1.5 1.5 0 1 0 3 0a1.5 1.5 0 1 0-3 0M552.0 403.0m-1.5 0a1.5 1.5 0 1 0 3 0a1.5 1.5 0 1 0-3 0M611.5 403.0m-1.5 0a1.5 1.5 0 1 0 3 0a1.5 1.5 0 1 0-3 0M615.0 403.0m-1.5 0a1.5 1.5 0 1 0 3 0a1.5 1.5 0 1 0-3 0M618.5 403.0m-1.5 0a1.5 1.5 0 1 0 3 0a1.5 1.5 0 1 0-3 0M622.0 403.0m-1.5 0a1.5 1.5 0 1 0 3 0a1.5 1.5 0 1 0-3 0M625.5 403.0m-1.5 0a1.5 1.5 0 1 0 3 0a1.5 1.5 0 1 0-3 0M629.0 403.0m-1.5 0a1.5 1.5 0 1 0 3 0a1.5 1.5 0 1 0-3 0M632.5 403.0m-1.5 0a1.5 1.5 0 1 0 3 0a1.5 1.5 0 1 0-3 0M636.0 403.0m-1.5 0a1.5 1.5 0 1 0 3 0a1.5 1.5 0 1 0-3 0M639.5 403.0m-1.5 0a1.5 1.5 0 1 0 3 0a1.5 1.5 0 1 0-3 0M643.0 403.0m-1.5 0a1.5 1.5 0 1 0 3 0a1.5 1.5 0 1 0-3 0M646.5 403.0m-1.5 0a1.5 1.5 0 1 0 3 0a1.5 1.5 0 1 0-3 0M518.8 406.0m-1.5 0a1.5 1.5 0 1 0 3 0a1.5 1.5 0 1 0-3 0M522.2 406.0m-1.5 0a1.5 1.5 0 1 0 3 0a1.5 1.5 0 1 0-3 0M525.8 406.0m-1.5 0a1.5 1.5 0 1 0 3 0a1.5 1.5 0 1 0-3 0M529.2 406.0m-1.5 0a1.5 1.5 0 1 0 3 0a1.5 1.5 0 1 0-3 0M532.8 406.0m-1.5 0a1.5 1.5 0 1 0 3 0a1.5 1.5 0 1 0-3 0M536.2 406.0m-1.5 0a1.5 1.5 0 1 0 3 0a1.5 1.5 0 1 0-3 0M539.8 406.0m-1.5 0a1.5 1.5 0 1 0 3 0a1.5 1.5 0 1 0-3 0M543.2 406.0m-1.5 0a1.5 1.5 0 1 0 3 0a1.5 1.5 0 1 0-3 0M546.8 406.0m-1.5 0a1.5 1.5 0 1 0 3 0a1.5 1.5 0 1 0-3 0M550.2 406.0m-1.5 0a1.5 1.5 0 1 0 3 0a1.5 1.5 0 1 0-3 0M553.8 406.0m-1.5 0a1.5 1.5 0 1 0 3 0a1.5 1.5 0 1 0-3 0M609.8 406.0m-1.5 0a1.5 1.5 0 1 0 3 0a1.5 1.5 0 1 0-3 0M613.2 406.0m-1.5 0a1.5 1.5 0 1 0 3 0a1.5 1.5 0 1 0-3 0M616.8 406.0m-1.5 0a1.5 1.5 0 1 0 3 0a1.5 1.5 0 1 0-3 0M620.2 406.0m-1.5 0a1.5 1.5 0 1 0 3 0a1.5 1.5 0 1 0-3 0M623.8 406.0m-1.5 0a1.5 1.5 0 1 0 3 0a1.5 1.5 0 1 0-3 0M627.2 406.0m-1.5 0a1.5 1.5 0 1 0 3 0a1.5 1.5 0 1 0-3 0M630.8 406.0m-1.5 0a1.5 1.5 0 1 0 3 0a1.5 1.5 0 1 0-3 0M634.2 406.0m-1.5 0a1.5 1.5 0 1 0 3 0a1.5 1.5 0 1 0-3 0M637.8 406.0m-1.5 0a1.5 1.5 0 1 0 3 0a1.5 1.5 0 1 0-3 0M641.2 406.0m-1.5 0a1.5 1.5 0 1 0 3 0a1.5 1.5 0 1 0-3 0M644.8 406.0m-1.5 0a1.5 1.5 0 1 0 3 0a1.5 1.5 0 1 0-3 0M520.5 409.0m-1.5 0a1.5 1.5 0 1 0 3 0a1.5 1.5 0 1 0-3 0M524.0 409.0m-1.5 0a1.5 1.5 0 1 0 3 0a1.5 1.5 0 1 0-3 0M527.5 409.0m-1.5 0a1.5 1.5 0 1 0 3 0a1.5 1.5 0 1 0-3 0M531.0 409.0m-1.5 0a1.5 1.5 0 1 0 3 0a1.5 1.5 0 1 0-3 0M534.5 409.0m-1.5 0a1.5 1.5 0 1 0 3 0a1.5 1.5 0 1 0-3 0M538.0 409.0m-1.5 0a1.5 1.5 0 1 0 3 0a1.5 1.5 0 1 0-3 0M541.5 409.0m-1.5 0a1.5 1.5 0 1 0 3 0a1.5 1.5 0 1 0-3 0M545.0 409.0m-1.5 0a1.5 1.5 0 1 0 3 0a1.5 1.5 0 1 0-3 0M548.5 409.0m-1.5 0a1.5 1.5 0 1 0 3 0a1.5 1.5 0 1 0-3 0M552.0 409.0m-1.5 0a1.5 1.5 0 1 0 3 0a1.5 1.5 0 1 0-3 0M555.5 409.0m-1.5 0a1.5 1.5 0 1 0 3 0a1.5 1.5 0 1 0-3 0M608.0 409.0m-1.5 0a1.5 1.5 0 1 0 3 0a1.5 1.5 0 1 0-3 0M611.5 409.0m-1.5 0a1.5 1.5 0 1 0 3 0a1.5 1.5 0 1 0-3 0M615.0 409.0m-1.5 0a1.5 1.5 0 1 0 3 0a1.5 1.5 0 1 0-3 0M618.5 409.0m-1.5 0a1.5 1.5 0 1 0 3 0a1.5 1.5 0 1 0-3 0M622.0 409.0m-1.5 0a1.5 1.5 0 1 0 3 0a1.5 1.5 0 1 0-3 0M625.5 409.0m-1.5 0a1.5 1.5 0 1 0 3 0a1.5 1.5 0 1 0-3 0M629.0 409.0m-1.5 0a1.5 1.5 0 1 0 3 0a1.5 1.5 0 1 0-3 0M632.5 409.0m-1.5 0a1.5 1.5 0 1 0 3 0a1.5 1.5 0 1 0-3 0M636.0 409.0m-1.5 0a1.5 1.5 0 1 0 3 0a1.5 1.5 0 1 0-3 0M639.5 409.0m-1.5 0a1.5 1.5 0 1 0 3 0a1.5 1.5 0 1 0-3 0M643.0 409.0m-1.5 0a1.5 1.5 0 1 0 3 0a1.5 1.5 0 1 0-3 0M522.2 412.0m-1.5 0a1.5 1.5 0 1 0 3 0a1.5 1.5 0 1 0-3 0M525.8 412.0m-1.5 0a1.5 1.5 0 1 0 3 0a1.5 1.5 0 1 0-3 0M529.2 412.0m-1.5 0a1.5 1.5 0 1 0 3 0a1.5 1.5 0 1 0-3 0M532.8 412.0m-1.5 0a1.5 1.5 0 1 0 3 0a1.5 1.5 0 1 0-3 0M536.2 412.0m-1.5 0a1.5 1.5 0 1 0 3 0a1.5 1.5 0 1 0-3 0M539.8 412.0m-1.5 0a1.5 1.5 0 1 0 3 0a1.5 1.5 0 1 0-3 0M543.2 412.0m-1.5 0a1.5 1.5 0 1 0 3 0a1.5 1.5 0 1 0-3 0M546.8 412.0m-1.5 0a1.5 1.5 0 1 0 3 0a1.5 1.5 0 1 0-3 0M550.2 412.0m-1.5 0a1.5 1.5 0 1 0 3 0a1.5 1.5 0 1 0-3 0M553.8 412.0m-1.5 0a1.5 1.5 0 1 0 3 0a1.5 1.5 0 1 0-3 0M557.2 412.0m-1.5 0a1.5 1.5 0 1 0 3 0a1.5 1.5 0 1 0-3 0M606.2 412.0m-1.5 0a1.5 1.5 0 1 0 3 0a1.5 1.5 0 1 0-3 0M609.8 412.0m-1.5 0a1.5 1.5 0 1 0 3 0a1.5 1.5 0 1 0-3 0M613.2 412.0m-1.5 0a1.5 1.5 0 1 0 3 0a1.5 1.5 0 1 0-3 0M616.8 412.0m-1.5 0a1.5 1.5 0 1 0 3 0a1.5 1.5 0 1 0-3 0M620.2 412.0m-1.5 0a1.5 1.5 0 1 0 3 0a1.5 1.5 0 1 0-3 0M623.8 412.0m-1.5 0a1.5 1.5 0 1 0 3 0a1.5 1.5 0 1 0-3 0M627.2 412.0m-1.5 0a1.5 1.5 0 1 0 3 0a1.5 1.5 0 1 0-3 0M630.8 412.0m-1.5 0a1.5 1.5 0 1 0 3 0a1.5 1.5 0 1 0-3 0M634.2 412.0m-1.5 0a1.5 1.5 0 1 0 3 0a1.5 1.5 0 1 0-3 0M637.8 412.0m-1.5 0a1.5 1.5 0 1 0 3 0a1.5 1.5 0 1 0-3 0M641.2 412.0m-1.5 0a1.5 1.5 0 1 0 3 0a1.5 1.5 0 1 0-3 0M524.0 415.1m-1.5 0a1.5 1.5 0 1 0 3 0a1.5 1.5 0 1 0-3 0M527.5 415.1m-1.5 0a1.5 1.5 0 1 0 3 0a1.5 1.5 0 1 0-3 0M531.0 415.1m-1.5 0a1.5 1.5 0 1 0 3 0a1.5 1.5 0 1 0-3 0M534.5 415.1m-1.5 0a1.5 1.5 0 1 0 3 0a1.5 1.5 0 1 0-3 0M538.0 415.1m-1.5 0a1.5 1.5 0 1 0 3 0a1.5 1.5 0 1 0-3 0M541.5 415.1m-1.5 0a1.5 1.5 0 1 0 3 0a1.5 1.5 0 1 0-3 0M545.0 415.1m-1.5 0a1.5 1.5 0 1 0 3 0a1.5 1.5 0 1 0-3 0M548.5 415.1m-1.5 0a1.5 1.5 0 1 0 3 0a1.5 1.5 0 1 0-3 0M552.0 415.1m-1.5 0a1.5 1.5 0 1 0 3 0a1.5 1.5 0 1 0-3 0M555.5 415.1m-1.5 0a1.5 1.5 0 1 0 3 0a1.5 1.5 0 1 0-3 0M608.0 415.1m-1.5 0a1.5 1.5 0 1 0 3 0a1.5 1.5 0 1 0-3 0M611.5 415.1m-1.5 0a1.5 1.5 0 1 0 3 0a1.5 1.5 0 1 0-3 0M615.0 415.1m-1.5 0a1.5 1.5 0 1 0 3 0a1.5 1.5 0 1 0-3 0M618.5 415.1m-1.5 0a1.5 1.5 0 1 0 3 0a1.5 1.5 0 1 0-3 0M622.0 415.1m-1.5 0a1.5 1.5 0 1 0 3 0a1.5 1.5 0 1 0-3 0M625.5 415.1m-1.5 0a1.5 1.5 0 1 0 3 0a1.5 1.5 0 1 0-3 0M629.0 415.1m-1.5 0a1.5 1.5 0 1 0 3 0a1.5 1.5 0 1 0-3 0M632.5 415.1m-1.5 0a1.5 1.5 0 1 0 3 0a1.5 1.5 0 1 0-3 0M636.0 415.1m-1.5 0a1.5 1.5 0 1 0 3 0a1.5 1.5 0 1 0-3 0M639.5 415.1m-1.5 0a1.5 1.5 0 1 0 3 0a1.5 1.5 0 1 0-3 0M643.0 415.1m-1.5 0a1.5 1.5 0 1 0 3 0a1.5 1.5 0 1 0-3 0M522.2 418.1m-1.5 0a1.5 1.5 0 1 0 3 0a1.5 1.5 0 1 0-3 0M525.8 418.1m-1.5 0a1.5 1.5 0 1 0 3 0a1.5 1.5 0 1 0-3 0M529.2 418.1m-1.5 0a1.5 1.5 0 1 0 3 0a1.5 1.5 0 1 0-3 0M532.8 418.1m-1.5 0a1.5 1.5 0 1 0 3 0a1.5 1.5 0 1 0-3 0M536.2 418.1m-1.5 0a1.5 1.5 0 1 0 3 0a1.5 1.5 0 1 0-3 0M539.8 418.1m-1.5 0a1.5 1.5 0 1 0 3 0a1.5 1.5 0 1 0-3 0M543.2 418.1m-1.5 0a1.5 1.5 0 1 0 3 0a1.5 1.5 0 1 0-3 0M546.8 418.1m-1.5 0a1.5 1.5 0 1 0 3 0a1.5 1.5 0 1 0-3 0M550.2 418.1m-1.5 0a1.5 1.5 0 1 0 3 0a1.5 1.5 0 1 0-3 0M553.8 418.1m-1.5 0a1.5 1.5 0 1 0 3 0a1.5 1.5 0 1 0-3 0M557.2 418.1m-1.5 0a1.5 1.5 0 1 0 3 0a1.5 1.5 0 1 0-3 0M606.2 418.1m-1.5 0a1.5 1.5 0 1 0 3 0a1.5 1.5 0 1 0-3 0M609.8 418.1m-1.5 0a1.5 1.5 0 1 0 3 0a1.5 1.5 0 1 0-3 0M613.2 418.1m-1.5 0a1.5 1.5 0 1 0 3 0a1.5 1.5 0 1 0-3 0M616.8 418.1m-1.5 0a1.5 1.5 0 1 0 3 0a1.5 1.5 0 1 0-3 0M620.2 418.1m-1.5 0a1.5 1.5 0 1 0 3 0a1.5 1.5 0 1 0-3 0M623.8 418.1m-1.5 0a1.5 1.5 0 1 0 3 0a1.5 1.5 0 1 0-3 0M627.2 418.1m-1.5 0a1.5 1.5 0 1 0 3 0a1.5 1.5 0 1 0-3 0M630.8 418.1m-1.5 0a1.5 1.5 0 1 0 3 0a1.5 1.5 0 1 0-3 0M634.2 418.1m-1.5 0a1.5 1.5 0 1 0 3 0a1.5 1.5 0 1 0-3 0M637.8 418.1m-1.5 0a1.5 1.5 0 1 0 3 0a1.5 1.5 0 1 0-3 0M641.2 418.1m-1.5 0a1.5 1.5 0 1 0 3 0a1.5 1.5 0 1 0-3 0M524.0 421.1m-1.5 0a1.5 1.5 0 1 0 3 0a1.5 1.5 0 1 0-3 0M527.5 421.1m-1.5 0a1.5 1.5 0 1 0 3 0a1.5 1.5 0 1 0-3 0M531.0 421.1m-1.5 0a1.5 1.5 0 1 0 3 0a1.5 1.5 0 1 0-3 0M534.5 421.1m-1.5 0a1.5 1.5 0 1 0 3 0a1.5 1.5 0 1 0-3 0M538.0 421.1m-1.5 0a1.5 1.5 0 1 0 3 0a1.5 1.5 0 1 0-3 0M541.5 421.1m-1.5 0a1.5 1.5 0 1 0 3 0a1.5 1.5 0 1 0-3 0M545.0 421.1m-1.5 0a1.5 1.5 0 1 0 3 0a1.5 1.5 0 1 0-3 0M548.5 421.1m-1.5 0a1.5 1.5 0 1 0 3 0a1.5 1.5 0 1 0-3 0M552.0 421.1m-1.5 0a1.5 1.5 0 1 0 3 0a1.5 1.5 0 1 0-3 0M555.5 421.1m-1.5 0a1.5 1.5 0 1 0 3 0a1.5 1.5 0 1 0-3 0M608.0 421.1m-1.5 0a1.5 1.5 0 1 0 3 0a1.5 1.5 0 1 0-3 0M611.5 421.1m-1.5 0a1.5 1.5 0 1 0 3 0a1.5 1.5 0 1 0-3 0M615.0 421.1m-1.5 0a1.5 1.5 0 1 0 3 0a1.5 1.5 0 1 0-3 0M618.5 421.1m-1.5 0a1.5 1.5 0 1 0 3 0a1.5 1.5 0 1 0-3 0M622.0 421.1m-1.5 0a1.5 1.5 0 1 0 3 0a1.5 1.5 0 1 0-3 0M625.5 421.1m-1.5 0a1.5 1.5 0 1 0 3 0a1.5 1.5 0 1 0-3 0M629.0 421.1m-1.5 0a1.5 1.5 0 1 0 3 0a1.5 1.5 0 1 0-3 0M632.5 421.1m-1.5 0a1.5 1.5 0 1 0 3 0a1.5 1.5 0 1 0-3 0M636.0 421.1m-1.5 0a1.5 1.5 0 1 0 3 0a1.5 1.5 0 1 0-3 0M639.5 421.1m-1.5 0a1.5 1.5 0 1 0 3 0a1.5 1.5 0 1 0-3 0M643.0 421.1m-1.5 0a1.5 1.5 0 1 0 3 0a1.5 1.5 0 1 0-3 0M522.2 424.2m-1.5 0a1.5 1.5 0 1 0 3 0a1.5 1.5 0 1 0-3 0M525.8 424.2m-1.5 0a1.5 1.5 0 1 0 3 0a1.5 1.5 0 1 0-3 0M529.2 424.2m-1.5 0a1.5 1.5 0 1 0 3 0a1.5 1.5 0 1 0-3 0M532.8 424.2m-1.5 0a1.5 1.5 0 1 0 3 0a1.5 1.5 0 1 0-3 0M536.2 424.2m-1.5 0a1.5 1.5 0 1 0 3 0a1.5 1.5 0 1 0-3 0M539.8 424.2m-1.5 0a1.5 1.5 0 1 0 3 0a1.5 1.5 0 1 0-3 0M543.2 424.2m-1.5 0a1.5 1.5 0 1 0 3 0a1.5 1.5 0 1 0-3 0M546.8 424.2m-1.5 0a1.5 1.5 0 1 0 3 0a1.5 1.5 0 1 0-3 0M550.2 424.2m-1.5 0a1.5 1.5 0 1 0 3 0a1.5 1.5 0 1 0-3 0M553.8 424.2m-1.5 0a1.5 1.5 0 1 0 3 0a1.5 1.5 0 1 0-3 0M557.2 424.2m-1.5 0a1.5 1.5 0 1 0 3 0a1.5 1.5 0 1 0-3 0M606.2 424.2m-1.5 0a1.5 1.5 0 1 0 3 0a1.5 1.5 0 1 0-3 0M609.8 424.2m-1.5 0a1.5 1.5 0 1 0 3 0a1.5 1.5 0 1 0-3 0M613.2 424.2m-1.5 0a1.5 1.5 0 1 0 3 0a1.5 1.5 0 1 0-3 0M616.8 424.2m-1.5 0a1.5 1.5 0 1 0 3 0a1.5 1.5 0 1 0-3 0M620.2 424.2m-1.5 0a1.5 1.5 0 1 0 3 0a1.5 1.5 0 1 0-3 0M623.8 424.2m-1.5 0a1.5 1.5 0 1 0 3 0a1.5 1.5 0 1 0-3 0M627.2 424.2m-1.5 0a1.5 1.5 0 1 0 3 0a1.5 1.5 0 1 0-3 0M630.8 424.2m-1.5 0a1.5 1.5 0 1 0 3 0a1.5 1.5 0 1 0-3 0M634.2 424.2m-1.5 0a1.5 1.5 0 1 0 3 0a1.5 1.5 0 1 0-3 0M637.8 424.2m-1.5 0a1.5 1.5 0 1 0 3 0a1.5 1.5 0 1 0-3 0M641.2 424.2m-1.5 0a1.5 1.5 0 1 0 3 0a1.5 1.5 0 1 0-3 0M524.0 427.2m-1.5 0a1.5 1.5 0 1 0 3 0a1.5 1.5 0 1 0-3 0M527.5 427.2m-1.5 0a1.5 1.5 0 1 0 3 0a1.5 1.5 0 1 0-3 0M531.0 427.2m-1.5 0a1.5 1.5 0 1 0 3 0a1.5 1.5 0 1 0-3 0M534.5 427.2m-1.5 0a1.5 1.5 0 1 0 3 0a1.5 1.5 0 1 0-3 0M538.0 427.2m-1.5 0a1.5 1.5 0 1 0 3 0a1.5 1.5 0 1 0-3 0M541.5 427.2m-1.5 0a1.5 1.5 0 1 0 3 0a1.5 1.5 0 1 0-3 0M545.0 427.2m-1.5 0a1.5 1.5 0 1 0 3 0a1.5 1.5 0 1 0-3 0M548.5 427.2m-1.5 0a1.5 1.5 0 1 0 3 0a1.5 1.5 0 1 0-3 0M552.0 427.2m-1.5 0a1.5 1.5 0 1 0 3 0a1.5 1.5 0 1 0-3 0M555.5 427.2m-1.5 0a1.5 1.5 0 1 0 3 0a1.5 1.5 0 1 0-3 0M608.0 427.2m-1.5 0a1.5 1.5 0 1 0 3 0a1.5 1.5 0 1 0-3 0M611.5 427.2m-1.5 0a1.5 1.5 0 1 0 3 0a1.5 1.5 0 1 0-3 0M615.0 427.2m-1.5 0a1.5 1.5 0 1 0 3 0a1.5 1.5 0 1 0-3 0M618.5 427.2m-1.5 0a1.5 1.5 0 1 0 3 0a1.5 1.5 0 1 0-3 0M622.0 427.2m-1.5 0a1.5 1.5 0 1 0 3 0a1.5 1.5 0 1 0-3 0M625.5 427.2m-1.5 0a1.5 1.5 0 1 0 3 0a1.5 1.5 0 1 0-3 0M629.0 427.2m-1.5 0a1.5 1.5 0 1 0 3 0a1.5 1.5 0 1 0-3 0M632.5 427.2m-1.5 0a1.5 1.5 0 1 0 3 0a1.5 1.5 0 1 0-3 0M636.0 427.2m-1.5 0a1.5 1.5 0 1 0 3 0a1.5 1.5 0 1 0-3 0M639.5 427.2m-1.5 0a1.5 1.5 0 1 0 3 0a1.5 1.5 0 1 0-3 0M643.0 427.2m-1.5 0a1.5 1.5 0 1 0 3 0a1.5 1.5 0 1 0-3 0M522.2 430.2m-1.5 0a1.5 1.5 0 1 0 3 0a1.5 1.5 0 1 0-3 0M525.8 430.2m-1.5 0a1.5 1.5 0 1 0 3 0a1.5 1.5 0 1 0-3 0M529.2 430.2m-1.5 0a1.5 1.5 0 1 0 3 0a1.5 1.5 0 1 0-3 0M532.8 430.2m-1.5 0a1.5 1.5 0 1 0 3 0a1.5 1.5 0 1 0-3 0M536.2 430.2m-1.5 0a1.5 1.5 0 1 0 3 0a1.5 1.5 0 1 0-3 0M539.8 430.2m-1.5 0a1.5 1.5 0 1 0 3 0a1.5 1.5 0 1 0-3 0M543.2 430.2m-1.5 0a1.5 1.5 0 1 0 3 0a1.5 1.5 0 1 0-3 0M546.8 430.2m-1.5 0a1.5 1.5 0 1 0 3 0a1.5 1.5 0 1 0-3 0M550.2 430.2m-1.5 0a1.5 1.5 0 1 0 3 0a1.5 1.5 0 1 0-3 0M553.8 430.2m-1.5 0a1.5 1.5 0 1 0 3 0a1.5 1.5 0 1 0-3 0M557.2 430.2m-1.5 0a1.5 1.5 0 1 0 3 0a1.5 1.5 0 1 0-3 0M606.2 430.2m-1.5 0a1.5 1.5 0 1 0 3 0a1.5 1.5 0 1 0-3 0M609.8 430.2m-1.5 0a1.5 1.5 0 1 0 3 0a1.5 1.5 0 1 0-3 0M613.2 430.2m-1.5 0a1.5 1.5 0 1 0 3 0a1.5 1.5 0 1 0-3 0M616.8 430.2m-1.5 0a1.5 1.5 0 1 0 3 0a1.5 1.5 0 1 0-3 0M620.2 430.2m-1.5 0a1.5 1.5 0 1 0 3 0a1.5 1.5 0 1 0-3 0M623.8 430.2m-1.5 0a1.5 1.5 0 1 0 3 0a1.5 1.5 0 1 0-3 0M627.2 430.2m-1.5 0a1.5 1.5 0 1 0 3 0a1.5 1.5 0 1 0-3 0M630.8 430.2m-1.5 0a1.5 1.5 0 1 0 3 0a1.5 1.5 0 1 0-3 0M634.2 430.2m-1.5 0a1.5 1.5 0 1 0 3 0a1.5 1.5 0 1 0-3 0M637.8 430.2m-1.5 0a1.5 1.5 0 1 0 3 0a1.5 1.5 0 1 0-3 0M641.2 430.2m-1.5 0a1.5 1.5 0 1 0 3 0a1.5 1.5 0 1 0-3 0M524.0 433.3m-1.5 0a1.5 1.5 0 1 0 3 0a1.5 1.5 0 1 0-3 0M527.5 433.3m-1.5 0a1.5 1.5 0 1 0 3 0a1.5 1.5 0 1 0-3 0M531.0 433.3m-1.5 0a1.5 1.5 0 1 0 3 0a1.5 1.5 0 1 0-3 0M534.5 433.3m-1.5 0a1.5 1.5 0 1 0 3 0a1.5 1.5 0 1 0-3 0M538.0 433.3m-1.5 0a1.5 1.5 0 1 0 3 0a1.5 1.5 0 1 0-3 0M541.5 433.3m-1.5 0a1.5 1.5 0 1 0 3 0a1.5 1.5 0 1 0-3 0M545.0 433.3m-1.5 0a1.5 1.5 0 1 0 3 0a1.5 1.5 0 1 0-3 0M548.5 433.3m-1.5 0a1.5 1.5 0 1 0 3 0a1.5 1.5 0 1 0-3 0M552.0 433.3m-1.5 0a1.5 1.5 0 1 0 3 0a1.5 1.5 0 1 0-3 0M555.5 433.3m-1.5 0a1.5 1.5 0 1 0 3 0a1.5 1.5 0 1 0-3 0M608.0 433.3m-1.5 0a1.5 1.5 0 1 0 3 0a1.5 1.5 0 1 0-3 0M611.5 433.3m-1.5 0a1.5 1.5 0 1 0 3 0a1.5 1.5 0 1 0-3 0M615.0 433.3m-1.5 0a1.5 1.5 0 1 0 3 0a1.5 1.5 0 1 0-3 0M618.5 433.3m-1.5 0a1.5 1.5 0 1 0 3 0a1.5 1.5 0 1 0-3 0M622.0 433.3m-1.5 0a1.5 1.5 0 1 0 3 0a1.5 1.5 0 1 0-3 0M625.5 433.3m-1.5 0a1.5 1.5 0 1 0 3 0a1.5 1.5 0 1 0-3 0M629.0 433.3m-1.5 0a1.5 1.5 0 1 0 3 0a1.5 1.5 0 1 0-3 0M632.5 433.3m-1.5 0a1.5 1.5 0 1 0 3 0a1.5 1.5 0 1 0-3 0M636.0 433.3m-1.5 0a1.5 1.5 0 1 0 3 0a1.5 1.5 0 1 0-3 0M639.5 433.3m-1.5 0a1.5 1.5 0 1 0 3 0a1.5 1.5 0 1 0-3 0M643.0 433.3m-1.5 0a1.5 1.5 0 1 0 3 0a1.5 1.5 0 1 0-3 0M522.2 436.3m-1.5 0a1.5 1.5 0 1 0 3 0a1.5 1.5 0 1 0-3 0M525.8 436.3m-1.5 0a1.5 1.5 0 1 0 3 0a1.5 1.5 0 1 0-3 0M529.2 436.3m-1.5 0a1.5 1.5 0 1 0 3 0a1.5 1.5 0 1 0-3 0M532.8 436.3m-1.5 0a1.5 1.5 0 1 0 3 0a1.5 1.5 0 1 0-3 0M536.2 436.3m-1.5 0a1.5 1.5 0 1 0 3 0a1.5 1.5 0 1 0-3 0M539.8 436.3m-1.5 0a1.5 1.5 0 1 0 3 0a1.5 1.5 0 1 0-3 0M543.2 436.3m-1.5 0a1.5 1.5 0 1 0 3 0a1.5 1.5 0 1 0-3 0M546.8 436.3m-1.5 0a1.5 1.5 0 1 0 3 0a1.5 1.5 0 1 0-3 0M550.2 436.3m-1.5 0a1.5 1.5 0 1 0 3 0a1.5 1.5 0 1 0-3 0M553.8 436.3m-1.5 0a1.5 1.5 0 1 0 3 0a1.5 1.5 0 1 0-3 0M557.2 436.3m-1.5 0a1.5 1.5 0 1 0 3 0a1.5 1.5 0 1 0-3 0M606.2 436.3m-1.5 0a1.5 1.5 0 1 0 3 0a1.5 1.5 0 1 0-3 0M609.8 436.3m-1.5 0a1.5 1.5 0 1 0 3 0a1.5 1.5 0 1 0-3 0M613.2 436.3m-1.5 0a1.5 1.5 0 1 0 3 0a1.5 1.5 0 1 0-3 0M616.8 436.3m-1.5 0a1.5 1.5 0 1 0 3 0a1.5 1.5 0 1 0-3 0M620.2 436.3m-1.5 0a1.5 1.5 0 1 0 3 0a1.5 1.5 0 1 0-3 0M623.8 436.3m-1.5 0a1.5 1.5 0 1 0 3 0a1.5 1.5 0 1 0-3 0M627.2 436.3m-1.5 0a1.5 1.5 0 1 0 3 0a1.5 1.5 0 1 0-3 0M630.8 436.3m-1.5 0a1.5 1.5 0 1 0 3 0a1.5 1.5 0 1 0-3 0M634.2 436.3m-1.5 0a1.5 1.5 0 1 0 3 0a1.5 1.5 0 1 0-3 0M637.8 436.3m-1.5 0a1.5 1.5 0 1 0 3 0a1.5 1.5 0 1 0-3 0M641.2 436.3m-1.5 0a1.5 1.5 0 1 0 3 0a1.5 1.5 0 1 0-3 0M524.0 439.3m-1.5 0a1.5 1.5 0 1 0 3 0a1.5 1.5 0 1 0-3 0M527.5 439.3m-1.5 0a1.5 1.5 0 1 0 3 0a1.5 1.5 0 1 0-3 0M531.0 439.3m-1.5 0a1.5 1.5 0 1 0 3 0a1.5 1.5 0 1 0-3 0M534.5 439.3m-1.5 0a1.5 1.5 0 1 0 3 0a1.5 1.5 0 1 0-3 0M538.0 439.3m-1.5 0a1.5 1.5 0 1 0 3 0a1.5 1.5 0 1 0-3 0M541.5 439.3m-1.5 0a1.5 1.5 0 1 0 3 0a1.5 1.5 0 1 0-3 0M545.0 439.3m-1.5 0a1.5 1.5 0 1 0 3 0a1.5 1.5 0 1 0-3 0M548.5 439.3m-1.5 0a1.5 1.5 0 1 0 3 0a1.5 1.5 0 1 0-3 0M552.0 439.3m-1.5 0a1.5 1.5 0 1 0 3 0a1.5 1.5 0 1 0-3 0M555.5 439.3m-1.5 0a1.5 1.5 0 1 0 3 0a1.5 1.5 0 1 0-3 0M608.0 439.3m-1.5 0a1.5 1.5 0 1 0 3 0a1.5 1.5 0 1 0-3 0M611.5 439.3m-1.5 0a1.5 1.5 0 1 0 3 0a1.5 1.5 0 1 0-3 0M615.0 439.3m-1.5 0a1.5 1.5 0 1 0 3 0a1.5 1.5 0 1 0-3 0M618.5 439.3m-1.5 0a1.5 1.5 0 1 0 3 0a1.5 1.5 0 1 0-3 0M622.0 439.3m-1.5 0a1.5 1.5 0 1 0 3 0a1.5 1.5 0 1 0-3 0M625.5 439.3m-1.5 0a1.5 1.5 0 1 0 3 0a1.5 1.5 0 1 0-3 0M629.0 439.3m-1.5 0a1.5 1.5 0 1 0 3 0a1.5 1.5 0 1 0-3 0M632.5 439.3m-1.5 0a1.5 1.5 0 1 0 3 0a1.5 1.5 0 1 0-3 0M636.0 439.3m-1.5 0a1.5 1.5 0 1 0 3 0a1.5 1.5 0 1 0-3 0M639.5 439.3m-1.5 0a1.5 1.5 0 1 0 3 0a1.5 1.5 0 1 0-3 0M643.0 439.3m-1.5 0a1.5 1.5 0 1 0 3 0a1.5 1.5 0 1 0-3 0"/></g>
<g stroke="#7a7a7a" stroke-width="0.6" fill="none">
 <path d="M487.3 344.5 C488.5 345 490 347.5 492.6 347.9 C497 348.5 500 344 505 345.5 C510 347 515 343 521 344.5"/>
 <path d="M491 350.8 C494 349 495 348 497 347.9 C500 347.8 503 350.2 506 349.8 C510 349.3 512 348.3 515 348.9 C518 349.5 520 348 522.5 347.9"/>
 <path d="M642.2 344.7 C645 345.5 648 345 651 346 C655 347.5 660 346 664 344.5 C668 343 672 346.5 678 343.5"/>
 <path d="M639.6 348.3 C643 349.5 647 350.5 651 350 C656 349.3 660 347.5 664 349 C668 350.5 671 350 676 348.6"/>
 <path d="M470.6 309.6 L487.3 344.5"/><path d="M491 350.8 L523.8 411.6 V438.7"/>
 <path d="M693.7 310.9 L676.3 344.5"/><path d="M673.8 349.6 L668 361.7"/><path d="M650 390.7 L641.7 411.2 V438.7"/>
 <path d="M470.6 309.6 C476 307.5 481 311.5 486 309.8 C491 308 497 311 502.6 309.6"/>
 <path d="M660.8 309.6 C666 307.8 672 311.8 678 309.9 C684 308.2 689 311.5 693.7 310.9"/>
</g>
<g fill="#7a7a7a" stroke="#7a7a7a" stroke-width="0.5"><line x1="573.2" y1="401.5" x2="574.1" y2="401.7"/><circle cx="583.8" cy="410.7" r="0.40"/><circle cx="558.9" cy="413.6" r="0.32"/><circle cx="578.2" cy="430.6" r="0.34"/><line x1="588.4" y1="435.8" x2="588.7" y2="436.6"/><circle cx="599.9" cy="407.5" r="0.32"/><circle cx="572.4" cy="430.1" r="0.42"/><circle cx="588.9" cy="411.0" r="0.31"/><circle cx="591.0" cy="413.4" r="0.42"/><line x1="579.7" y1="407.9" x2="579.1" y2="408.6"/><circle cx="569.2" cy="419.7" r="0.48"/><line x1="593.5" y1="407.4" x2="594.3" y2="407.7"/><circle cx="577.9" cy="427.6" r="0.40"/><line x1="559.0" y1="423.7" x2="558.8" y2="424.6"/><line x1="600.8" y1="408.5" x2="600.5" y2="409.4"/><line x1="586.0" y1="414.6" x2="585.1" y2="414.8"/><circle cx="580.7" cy="423.6" r="0.44"/><line x1="589.4" y1="437.7" x2="589.9" y2="438.4"/><circle cx="576.3" cy="423.8" r="0.39"/><circle cx="559.9" cy="428.0" r="0.35"/><circle cx="576.5" cy="432.5" r="0.39"/><line x1="584.5" y1="433.0" x2="583.7" y2="433.4"/><circle cx="570.9" cy="412.9" r="0.48"/><circle cx="565.8" cy="405.0" r="0.40"/><circle cx="586.5" cy="406.3" r="0.38"/><line x1="575.5" y1="419.4" x2="575.0" y2="420.1"/><line x1="582.8" y1="421.6" x2="583.7" y2="421.7"/><line x1="602.0" y1="428.5" x2="601.3" y2="429.1"/><circle cx="576.6" cy="412.2" r="0.43"/><circle cx="567.4" cy="402.0" r="0.31"/><circle cx="562.1" cy="410.6" r="0.47"/><circle cx="587.7" cy="401.4" r="0.37"/><line x1="575.2" y1="400.3" x2="574.3" y2="400.3"/><circle cx="580.3" cy="415.8" r="0.32"/><line x1="574.1" y1="406.4" x2="574.9" y2="406.8"/><circle cx="558.2" cy="435.9" r="0.33"/><line x1="583.4" y1="437.1" x2="582.9" y2="437.8"/><circle cx="570.1" cy="410.8" r="0.45"/><circle cx="583.6" cy="428.5" r="0.34"/><line x1="597.6" y1="437.4" x2="596.8" y2="437.9"/><circle cx="597.9" cy="426.8" r="0.40"/><line x1="570.0" y1="424.8" x2="570.1" y2="425.7"/><line x1="603.9" y1="437.5" x2="604.2" y2="438.3"/><circle cx="568.0" cy="404.8" r="0.34"/><line x1="588.2" y1="433.7" x2="588.3" y2="434.6"/><circle cx="589.6" cy="429.4" r="0.43"/><line x1="602.5" y1="428.6" x2="602.6" y2="429.5"/><circle cx="565.9" cy="428.9" r="0.46"/><circle cx="605.6" cy="412.0" r="0.49"/><circle cx="593.2" cy="402.3" r="0.33"/><circle cx="602.2" cy="429.7" r="0.47"/><circle cx="606.0" cy="423.3" r="0.41"/><circle cx="605.5" cy="422.9" r="0.49"/><line x1="578.7" y1="432.5" x2="579.4" y2="433.0"/><circle cx="569.6" cy="407.6" r="0.42"/><circle cx="570.0" cy="413.0" r="0.48"/><line x1="574.7" y1="414.7" x2="573.8" y2="415.0"/><circle cx="578.0" cy="434.5" r="0.41"/><circle cx="579.0" cy="402.9" r="0.46"/><line x1="565.6" y1="415.4" x2="565.5" y2="416.2"/><line x1="573.3" y1="417.3" x2="572.6" y2="417.9"/><circle cx="562.3" cy="419.1" r="0.36"/><line x1="595.6" y1="416.8" x2="595.0" y2="417.4"/><line x1="602.6" y1="414.1" x2="602.6" y2="415.0"/><circle cx="582.6" cy="424.8" r="0.41"/><line x1="580.9" y1="435.5" x2="580.1" y2="435.8"/><line x1="585.0" y1="435.6" x2="585.8" y2="435.9"/><circle cx="563.1" cy="414.0" r="0.35"/><line x1="560.7" y1="423.8" x2="559.8" y2="424.1"/><line x1="564.7" y1="425.8" x2="565.5" y2="426.2"/><circle cx="601.1" cy="436.6" r="0.49"/><line x1="576.9" y1="416.0" x2="576.1" y2="416.4"/><circle cx="565.1" cy="413.6" r="0.37"/><line x1="566.8" y1="408.7" x2="567.7" y2="408.8"/><circle cx="584.7" cy="413.9" r="0.37"/><circle cx="588.2" cy="417.0" r="0.50"/><circle cx="596.4" cy="436.8" r="0.35"/><circle cx="559.0" cy="428.5" r="0.33"/><line x1="578.1" y1="434.2" x2="578.7" y2="434.8"/><line x1="564.5" y1="434.5" x2="563.9" y2="435.3"/><circle cx="591.4" cy="413.3" r="0.49"/><circle cx="588.7" cy="429.5" r="0.47"/><circle cx="560.3" cy="432.1" r="0.37"/><circle cx="584.7" cy="434.8" r="0.33"/><circle cx="583.3" cy="405.3" r="0.33"/><line x1="572.6" y1="408.1" x2="573.2" y2="408.8"/><circle cx="582.0" cy="402.6" r="0.30"/><circle cx="593.7" cy="418.7" r="0.39"/><circle cx="597.9" cy="413.6" r="0.47"/><line x1="576.7" y1="416.8" x2="575.8" y2="416.8"/><line x1="574.1" y1="430.8" x2="573.8" y2="431.6"/><circle cx="577.2" cy="409.9" r="0.33"/><circle cx="560.5" cy="426.9" r="0.33"/><line x1="561.2" y1="431.2" x2="560.8" y2="431.9"/><circle cx="571.1" cy="405.4" r="0.39"/><circle cx="564.9" cy="414.2" r="0.49"/><circle cx="605.6" cy="418.5" r="0.49"/><circle cx="572.5" cy="410.3" r="0.38"/><circle cx="580.7" cy="416.6" r="0.40"/><circle cx="561.5" cy="412.2" r="0.30"/><line x1="572.2" y1="405.0" x2="572.1" y2="405.9"/><line x1="594.5" y1="423.3" x2="593.7" y2="423.6"/><line x1="576.5" y1="409.0" x2="577.3" y2="409.4"/><circle cx="593.2" cy="422.7" r="0.47"/><line x1="601.6" y1="422.0" x2="600.8" y2="422.5"/><circle cx="564.0" cy="417.5" r="0.47"/><line x1="597.2" y1="430.5" x2="596.4" y2="430.8"/><circle cx="591.1" cy="424.8" r="0.31"/><circle cx="563.7" cy="410.5" r="0.47"/><line x1="584.9" y1="422.0" x2="584.4" y2="422.8"/><circle cx="596.9" cy="427.2" r="0.41"/><circle cx="593.8" cy="405.8" r="0.35"/><line x1="593.5" y1="403.8" x2="592.6" y2="403.9"/><circle cx="581.7" cy="411.5" r="0.44"/><line x1="595.3" y1="421.5" x2="596.2" y2="421.7"/><line x1="564.4" y1="405.9" x2="564.9" y2="406.7"/><line x1="560.0" y1="406.6" x2="559.5" y2="407.3"/><circle cx="590.8" cy="407.5" r="0.39"/><line x1="580.3" y1="400.1" x2="581.0" y2="400.6"/><circle cx="605.9" cy="435.3" r="0.39"/><circle cx="598.0" cy="436.6" r="0.35"/><circle cx="567.5" cy="435.7" r="0.42"/><line x1="564.1" y1="417.5" x2="564.9" y2="417.9"/><line x1="598.0" y1="416.9" x2="597.5" y2="417.6"/><circle cx="568.6" cy="433.6" r="0.30"/><circle cx="557.2" cy="416.1" r="0.36"/><circle cx="564.0" cy="409.8" r="0.47"/><line x1="557.1" y1="427.3" x2="557.9" y2="427.6"/><line x1="603.3" y1="425.7" x2="603.9" y2="426.4"/><line x1="575.6" y1="411.9" x2="575.4" y2="412.8"/><circle cx="575.0" cy="413.4" r="0.31"/><circle cx="562.1" cy="430.9" r="0.49"/><circle cx="569.5" cy="406.4" r="0.34"/><line x1="575.7" y1="436.1" x2="574.9" y2="436.6"/><line x1="588.5" y1="434.3" x2="588.4" y2="435.2"/><line x1="593.6" y1="414.4" x2="593.2" y2="415.2"/><circle cx="580.6" cy="409.8" r="0.45"/><line x1="589.8" y1="407.9" x2="590.1" y2="408.8"/><circle cx="567.4" cy="434.0" r="0.34"/><circle cx="602.3" cy="437.8" r="0.33"/><circle cx="574.1" cy="398.9" r="0.35"/><line x1="585.5" y1="433.2" x2="585.7" y2="434.0"/><circle cx="577.7" cy="417.5" r="0.37"/><line x1="560.1" y1="406.9" x2="560.9" y2="407.3"/></g>
<!-- sensor -->
<g transform="translate(626 379) rotate(-15)">
 <g fill="#fff" stroke="#6a6a6a" stroke-width="0.6">
  <path d="M-43.4 -1.6 H0 V1.6 H-42.2 Z"/>
 </g>
 <use href="#sb" transform="scale(0.6)" fill="none" stroke="#6a6a6a" stroke-width="0.75" color="#777"/>
</g>
<g stroke="#111" stroke-width="2.6" fill="none" stroke-linecap="butt">
 <path d="M502.6 309.6 L521.6 345.2"/><path d="M522.8 348.6 L555.8 410.7 V438.7"/>
 <path d="M660.8 309.6 L641.5 344.7"/><path d="M639.6 348.3 L607.6 410.7 V438.7"/>
</g>
<g stroke="#666" stroke-width="0.6" fill="none">
 <line x1="578.9" y1="377" x2="624.6" y2="377"/>
 <line x1="582.5" y1="377" x2="582.5" y2="388.6"/>
 <line x1="610" y1="356.7" x2="628.2" y2="370.5"/>
 <line x1="700" y1="345" x2="666" y2="357.5"/>
</g>
<g fill="#444"><path d="M582.5 377 l-0.9 2.8 h1.8z"/><path d="M582.5 388.6 l-0.9 -2.8 h1.8z"/></g>
<text class="h" x="570" y="386.5" font-size="7.5" font-weight="bold" style="fill:#333">10°</text>
<text class="h" x="551.8" y="351" font-size="13" font-weight="bold" textLength="70.5" lengthAdjust="spacingAndGlyphs">1” NPT管座</text>
<text class="h" x="701" y="347.5" font-size="13.5" font-weight="bold" textLength="40">保温层</text>


<!-- ============ wiring ============ -->
<g fill="none" stroke="#6a6a6a" stroke-width="0.75">
 <path d="M169.5 511.7 A95 95 0 1 1 321.8 511.7"/>
 <rect x="175.8" y="488.4" width="137" height="23.3" fill="#fff"/>
 <path d="M184.7 511.7 L186 515 H215 L216.5 511.7"/>
 <path d="M230.2 511.7 L231.5 515 H258.3 L259.6 511.7"/>
 <path d="M273.8 511.7 L275 515 H303.3 L304.5 511.7"/>
 <circle cx="184.2" cy="499.6" r="4.3"/><line x1="181.7" y1="502.3" x2="186.7" y2="496.9"/><circle cx="200.2" cy="499.6" r="4.3"/><line x1="197.7" y1="502.3" x2="202.7" y2="496.9"/><circle cx="214.8" cy="499.6" r="4.3"/><line x1="212.3" y1="502.3" x2="217.3" y2="496.9"/><circle cx="230.2" cy="499.6" r="4.3"/><line x1="227.7" y1="502.3" x2="232.7" y2="496.9"/><circle cx="245.5" cy="499.6" r="4.3"/><line x1="243.0" y1="502.3" x2="248.0" y2="496.9"/><circle cx="259.6" cy="499.6" r="4.3"/><line x1="257.1" y1="502.3" x2="262.1" y2="496.9"/><circle cx="272.6" cy="499.6" r="4.3"/><line x1="270.1" y1="502.3" x2="275.1" y2="496.9"/><circle cx="287.9" cy="499.6" r="4.3"/><line x1="285.4" y1="502.3" x2="290.4" y2="496.9"/><circle cx="302.8" cy="499.6" r="4.3"/><line x1="300.3" y1="502.3" x2="305.3" y2="496.9"/>
 <circle cx="167.3" cy="452.6" r="13.9"/><circle cx="167.3" cy="452.6" r="12"/>
 <line x1="158.5" y1="458.5" x2="174" y2="443"/><line x1="161" y1="461.5" x2="176.5" y2="446"/>
 <circle cx="325.3" cy="453.1" r="13.9"/><circle cx="325.3" cy="453.1" r="12"/>
 <line x1="316.5" y1="459" x2="332" y2="443.5"/><line x1="319" y1="462" x2="334.5" y2="446.5"/>
 <circle cx="167.7" cy="425.2" r="5.3"/>
 <circle cx="324.4" cy="480.8" r="5.5"/>
 <circle cx="231.3" cy="381.2" r="8.2"/><circle cx="231.3" cy="381.2" r="4.5"/><line x1="228" y1="382" x2="234.5" y2="380.2"/>
 <circle cx="262" cy="381.2" r="8.2"/><circle cx="262" cy="381.2" r="4.5"/><line x1="259.5" y1="384" x2="264.5" y2="378.5"/>
 <circle cx="246.7" cy="407.2" r="9.3"/><circle cx="246.7" cy="407.2" r="7.4"/>
 <circle cx="245.5" cy="446" r="7.1"/><circle cx="245.5" cy="446" r="4"/><line x1="243" y1="448" x2="248" y2="444"/>
 <rect x="218.4" y="433" width="9.4" height="23.7"/>
 <rect x="220.8" y="435.5" width="4.6" height="11.5"/>
 <path d="M179.5 475.5 V472.4 H185 M213.5 472.4 H218 V475.5"/>
 <path d="M223 475.5 V472.4 H251 M277 472.4 H310.3 V475.5"/>
</g>
<g fill="none" stroke="#555" stroke-width="0.7">
 <path d="M178.5 345.6 H208 L225 368.9"/>
 <path d="M316 345.6 H288.5 L267.4 368.9"/>
 <path d="M157.8 378.2 H185.7 L236.5 405"/>
 <path d="M136 407 H150 L216.5 430"/>
 <path d="M318 383.6 H293.8 L254 437.5"/>
</g>
<g fill="#333">
 <path d="M225.6 369.8 l-3.5 -2.2 l2.3 -1.6z"/>
 <path d="M266.7 369.8 l1 -3.9 l2.1 1.8z"/>
 <path d="M237.4 405.5 l-3.9 -0.2 l1.3 -2.5z"/>
 <path d="M217.4 430.3 l-3.9 0.4 l0.9 -2.7z"/>
 <path d="M253.4 438.3 l0.8 -3.9 l2.3 1.7z"/>
</g>
<g fill="#222" font-family="Liberation Sans, sans-serif" font-weight="bold">
 <text x="213.7" y="384.2" font-size="8" text-anchor="middle">F</text>
 <text x="278.5" y="385.8" font-size="8" text-anchor="middle">C</text>
 <text x="236" y="396.9" font-size="10.5" textLength="19" lengthAdjust="spacingAndGlyphs">SENS</text>
 <text x="222" y="427.2" font-size="9.5" textLength="51.8" lengthAdjust="spacingAndGlyphs">PROBE STATUS</text>
 <text x="183" y="444" font-size="8.5" textLength="17.7" lengthAdjust="spacingAndGlyphs">FAIL</text>
 <text x="183" y="454.8" font-size="9.5" textLength="17.7" lengthAdjust="spacingAndGlyphs">SAFE</text>
 <text x="209.3" y="440.6" font-size="8.5">H</text>
 <text x="209.6" y="456.6" font-size="8.5">L</text>
 <text x="256" y="450.2" font-size="9.5" textLength="53.2" lengthAdjust="spacingAndGlyphs">DLY=0-30 SEC</text>
 <text x="186.5" y="476" font-size="9.5" textLength="27.2" lengthAdjust="spacingAndGlyphs">220Vac</text>
 <text x="251.9" y="476" font-size="10" textLength="24.3" lengthAdjust="spacingAndGlyphs">RELAY</text>
</g>
<g fill="#222" font-family="Liberation Sans, sans-serif" font-weight="bold" font-size="11" style="font-stretch:condensed"><text x="181.7" y="487.8" textLength="5.0" lengthAdjust="spacingAndGlyphs">L</text><text x="197.9" y="487.8" textLength="5.5" lengthAdjust="spacingAndGlyphs">N</text><text x="211.7" y="487.8" textLength="5.5" lengthAdjust="spacingAndGlyphs">G</text><text x="224.0" y="487.8" textLength="10.0" lengthAdjust="spacingAndGlyphs">NC</text><text x="240.3" y="487.8" textLength="5.5" lengthAdjust="spacingAndGlyphs">C</text><text x="253.5" y="487.8" textLength="10.0" lengthAdjust="spacingAndGlyphs">NO</text><text x="267.6" y="487.8" textLength="10.0" lengthAdjust="spacingAndGlyphs">NC</text><text x="285.2" y="487.8" textLength="5.5" lengthAdjust="spacingAndGlyphs">C</text><text x="297.8" y="487.8" textLength="10.0" lengthAdjust="spacingAndGlyphs">NO</text></g>
<g fill="#222" font-family="Liberation Sans, sans-serif" font-size="13">
 <text x="100.2" y="351.2" textLength="65.6">灵敏度细调</text>
 <text x="322.4" y="351.2" textLength="65.6">灵敏度粗调</text>
 <text x="79" y="383" textLength="74">探头状态指示</text>
 <text x="79" y="412.6" textLength="50.8">失电保护</text>
 <text x="324.5" y="389.4" textLength="74.1">时间延时调节</text>
 <text x="191.3" y="527.8" font-size="9.7" textLength="18.9">电源</text>
 <text x="230.2" y="528.6" font-size="9.7" textLength="29.4">继电器</text>
 <text x="273.8" y="528.6" font-size="9.7" textLength="29.5">继电器</text>
</g>


<!-- ============ installation ============ -->
<path d="M281 696.4 C282.5 693.5 285.5 692.5 288.5 692.5 C292.5 692.5 295.5 695.5 295.5 699 V933.6 H234.9 L240.5 912 L246 890 L250 870 L256 847 L261.6 830 L262.5 810 L263.4 780 L264.5 760 L267.1 745.7 L271.4 729.6 L275.7 713.6 L278.4 705 Z" fill="#dadbde"/>
<g fill="none" stroke="#7a7a7a" stroke-width="0.8">
 <path d="M106.6 690.2 H162.3 V685.9"/>
 <path d="M176.3 675.7 V691.2 H267.1 V684.6"/>
 <path d="M281.1 675 V691.1 H289.6 Q295.5 691.1 295.5 697.5 V779.1 M295.5 794 V843.2 M295.5 856.7 V933.6"/>
 <path d="M295.5 779.1 H301.3 M295.5 794 H301.3"/>
 <path d="M295.5 843.2 H299.7 M295.5 856.7 H299.7"/>
</g>
<g stroke="#7a7a7a" stroke-width="0.7">
<rect x="166.00" y="685.9" width="7.60" height="15.5" fill="#fff"/><rect x="167.10" y="701.4" width="5.40" height="8.6" fill="#fff"/><rect x="167.90" y="710.0" width="3.80" height="25.2" fill="#fff"/><rect x="270.40" y="686.8" width="7.60" height="15.0" fill="#fff"/><rect x="271.50" y="701.8" width="5.40" height="7.5" fill="#fff"/><rect x="272.80" y="709.3" width="2.80" height="26.2" fill="#fff"/><rect x="248.6" y="784.60" width="15.0" height="3.20" fill="#fff"/><rect x="263.6" y="784.10" width="12.6" height="4.20" fill="#fff"/><rect x="276.2" y="783.20" width="12.5" height="6.00" fill="#fff"/><rect x="288.7" y="782.30" width="12.6" height="7.80" fill="#fff"/><rect x="167.6" y="848.35" width="44.4" height="3.30" fill="none"/><rect x="212.0" y="847.90" width="11.5" height="4.20" fill="none"/><rect x="223.5" y="847.05" width="17.8" height="5.90" fill="none"/><rect x="241.3" y="845.80" width="58.4" height="8.40" fill="none"/>
</g>
<g fill="none" stroke="#6e6e6e" stroke-width="0.75" color="#b8b8b8">
 <use href="#sb" transform="translate(169.8 687.5) rotate(-90)"/>
 <use href="#sb" transform="translate(274.2 687.3) rotate(-90)"/>
 <use href="#sb" transform="translate(301.3 786.2) scale(1.07)"/>
 <use href="#sb" transform="translate(299.7 850) scale(1.03)"/>
</g>
<g class="h hm" font-size="13" style="stroke-width:0.4">
 <text x="201.5" y="618.5" textLength="26">正确</text>
 <text x="303" y="618.5" textLength="28">错误</text>
 <text x="361.7" y="827.5" textLength="26.5">错误</text>
 <text x="361.7" y="893.5" textLength="26.5">正确</text>
</g>


<!-- ============ text block ============ -->
<g class="s" font-size="16.2">
 <text x="428.7" y="506.3" textLength="78">安装建议：</text>
 <text x="461.4" y="532.4" textLength="298.2">1)在测非导电液体和泥浆时，最佳为水平</text>
 <text x="428.7" y="556.4" textLength="331">安装。如需要垂直安装时，要求探头长至少保</text>
 <text x="428.7" y="582.5" textLength="44">持12”</text>
 <text x="461.4" y="606.4" textLength="298.2">2)在测导电液体和泥浆或界面检测时，推</text>
 <text x="428.7" y="630.4" textLength="284.5">荐既可以水平安装，也可以垂直安装。</text>
 <text x="461.4" y="656.5" textLength="299">3)在测粉末和颗粒状时，最佳为水平安装，</text>
 <text x="428.7" y="680.4" textLength="331">但探头穿过容器壁安装时，保护套应比容器壁</text>
 <text x="428.7" y="706.5" textLength="172.6">上的积料厚度长出2”。</text>
</g>

<!-- footer bar -->
<rect x="56" y="953" width="710" height="35" fill="#f7f1f1"/>
<path d="M411 952.9 L415.3 949.8 L420.2 952.9 Z" fill="#a8a8a8"/>
<!-- watermark -->
<g font-family="Liberation Sans, sans-serif" font-size="30" font-weight="bold" fill="#d0e290" stroke="#d0e290" stroke-width="0.6">
 <text x="706" y="1099.5">图</text><text x="736.5" y="1099.5">页</text><text x="779" y="1099.5">网</text>
</g>
<circle cx="772" cy="1067.4" r="5.8" fill="none" stroke="#d0e290" stroke-width="1"/>
<text x="768.6" y="1071.2" font-size="9" fill="#d0e290" font-family="Liberation Sans, sans-serif">R</text>
</svg>
</body></html>
